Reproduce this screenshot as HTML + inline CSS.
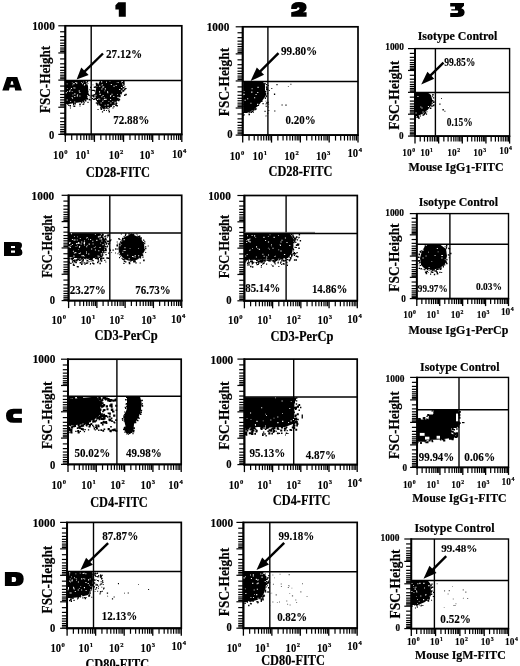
<!DOCTYPE html>
<html><head><meta charset="utf-8"><style>
html,body{margin:0;padding:0;background:#fff;}
body{width:520px;height:666px;overflow:hidden;}
svg{display:block;will-change:transform;}
text{font-family:"Liberation Serif",serif;font-weight:bold;fill:#000;stroke:#000;stroke-width:0.2px;}
text.n{stroke-width:0.12px;}
</style></head><body>
<svg width="520" height="666" viewBox="0 0 520 666">
<rect x="65.30" y="25.80" width="116.50" height="108.60" fill="none" stroke="#000" stroke-width="1.7"/>
<line x1="65.30" y1="25.20" x2="65.30" y2="135.40" stroke="#000" stroke-width="1.9"/>
<line x1="64.40" y1="134.40" x2="182.40" y2="134.40" stroke="#000" stroke-width="1.9"/>
<line x1="91.20" y1="25.80" x2="91.20" y2="134.40" stroke="#000" stroke-width="1.4"/>
<line x1="65.30" y1="80.50" x2="181.80" y2="80.50" stroke="#000" stroke-width="1.5"/>
<line x1="58.30" y1="25.80" x2="65.30" y2="25.80" stroke="#000" stroke-width="1.2"/>
<line x1="60.10" y1="31.77" x2="65.30" y2="31.77" stroke="#000" stroke-width="1.2"/>
<line x1="60.10" y1="36.66" x2="65.30" y2="36.66" stroke="#000" stroke-width="1.2"/>
<line x1="60.10" y1="40.19" x2="65.30" y2="40.19" stroke="#000" stroke-width="1.2"/>
<line x1="60.10" y1="43.18" x2="65.30" y2="43.18" stroke="#000" stroke-width="1.2"/>
<line x1="60.10" y1="45.62" x2="65.30" y2="45.62" stroke="#000" stroke-width="1.2"/>
<line x1="60.10" y1="48.06" x2="65.30" y2="48.06" stroke="#000" stroke-width="1.2"/>
<line x1="60.10" y1="49.96" x2="65.30" y2="49.96" stroke="#000" stroke-width="1.2"/>
<line x1="60.10" y1="51.59" x2="65.30" y2="51.59" stroke="#000" stroke-width="1.2"/>
<line x1="58.30" y1="52.95" x2="65.30" y2="52.95" stroke="#000" stroke-width="1.2"/>
<line x1="60.10" y1="58.92" x2="65.30" y2="58.92" stroke="#000" stroke-width="1.2"/>
<line x1="60.10" y1="63.81" x2="65.30" y2="63.81" stroke="#000" stroke-width="1.2"/>
<line x1="60.10" y1="67.34" x2="65.30" y2="67.34" stroke="#000" stroke-width="1.2"/>
<line x1="60.10" y1="70.33" x2="65.30" y2="70.33" stroke="#000" stroke-width="1.2"/>
<line x1="60.10" y1="72.77" x2="65.30" y2="72.77" stroke="#000" stroke-width="1.2"/>
<line x1="60.10" y1="75.21" x2="65.30" y2="75.21" stroke="#000" stroke-width="1.2"/>
<line x1="60.10" y1="77.11" x2="65.30" y2="77.11" stroke="#000" stroke-width="1.2"/>
<line x1="60.10" y1="78.74" x2="65.30" y2="78.74" stroke="#000" stroke-width="1.2"/>
<line x1="58.30" y1="80.10" x2="65.30" y2="80.10" stroke="#000" stroke-width="1.2"/>
<line x1="60.10" y1="86.07" x2="65.30" y2="86.07" stroke="#000" stroke-width="1.2"/>
<line x1="60.10" y1="90.96" x2="65.30" y2="90.96" stroke="#000" stroke-width="1.2"/>
<line x1="60.10" y1="94.49" x2="65.30" y2="94.49" stroke="#000" stroke-width="1.2"/>
<line x1="60.10" y1="97.48" x2="65.30" y2="97.48" stroke="#000" stroke-width="1.2"/>
<line x1="60.10" y1="99.92" x2="65.30" y2="99.92" stroke="#000" stroke-width="1.2"/>
<line x1="60.10" y1="102.36" x2="65.30" y2="102.36" stroke="#000" stroke-width="1.2"/>
<line x1="60.10" y1="104.26" x2="65.30" y2="104.26" stroke="#000" stroke-width="1.2"/>
<line x1="60.10" y1="105.89" x2="65.30" y2="105.89" stroke="#000" stroke-width="1.2"/>
<line x1="58.30" y1="107.25" x2="65.30" y2="107.25" stroke="#000" stroke-width="1.2"/>
<line x1="60.10" y1="113.22" x2="65.30" y2="113.22" stroke="#000" stroke-width="1.2"/>
<line x1="60.10" y1="118.11" x2="65.30" y2="118.11" stroke="#000" stroke-width="1.2"/>
<line x1="60.10" y1="121.64" x2="65.30" y2="121.64" stroke="#000" stroke-width="1.2"/>
<line x1="60.10" y1="124.63" x2="65.30" y2="124.63" stroke="#000" stroke-width="1.2"/>
<line x1="60.10" y1="127.07" x2="65.30" y2="127.07" stroke="#000" stroke-width="1.2"/>
<line x1="60.10" y1="129.51" x2="65.30" y2="129.51" stroke="#000" stroke-width="1.2"/>
<line x1="60.10" y1="131.41" x2="65.30" y2="131.41" stroke="#000" stroke-width="1.2"/>
<line x1="60.10" y1="133.04" x2="65.30" y2="133.04" stroke="#000" stroke-width="1.2"/>
<line x1="58.30" y1="134.40" x2="65.30" y2="134.40" stroke="#000" stroke-width="1.2"/>
<line x1="65.30" y1="134.40" x2="65.30" y2="141.90" stroke="#000" stroke-width="1.3"/>
<line x1="71.71" y1="134.40" x2="71.71" y2="139.90" stroke="#000" stroke-width="1.2"/>
<line x1="76.95" y1="134.40" x2="76.95" y2="139.90" stroke="#000" stroke-width="1.2"/>
<line x1="80.74" y1="134.40" x2="80.74" y2="139.90" stroke="#000" stroke-width="1.2"/>
<line x1="83.94" y1="134.40" x2="83.94" y2="139.90" stroke="#000" stroke-width="1.2"/>
<line x1="86.56" y1="134.40" x2="86.56" y2="139.90" stroke="#000" stroke-width="1.2"/>
<line x1="89.18" y1="134.40" x2="89.18" y2="139.90" stroke="#000" stroke-width="1.2"/>
<line x1="91.22" y1="134.40" x2="91.22" y2="139.90" stroke="#000" stroke-width="1.2"/>
<line x1="92.97" y1="134.40" x2="92.97" y2="139.90" stroke="#000" stroke-width="1.2"/>
<line x1="94.42" y1="134.40" x2="94.42" y2="141.90" stroke="#000" stroke-width="1.3"/>
<line x1="100.83" y1="134.40" x2="100.83" y2="139.90" stroke="#000" stroke-width="1.2"/>
<line x1="106.08" y1="134.40" x2="106.08" y2="139.90" stroke="#000" stroke-width="1.2"/>
<line x1="109.86" y1="134.40" x2="109.86" y2="139.90" stroke="#000" stroke-width="1.2"/>
<line x1="113.06" y1="134.40" x2="113.06" y2="139.90" stroke="#000" stroke-width="1.2"/>
<line x1="115.69" y1="134.40" x2="115.69" y2="139.90" stroke="#000" stroke-width="1.2"/>
<line x1="118.31" y1="134.40" x2="118.31" y2="139.90" stroke="#000" stroke-width="1.2"/>
<line x1="120.35" y1="134.40" x2="120.35" y2="139.90" stroke="#000" stroke-width="1.2"/>
<line x1="122.09" y1="134.40" x2="122.09" y2="139.90" stroke="#000" stroke-width="1.2"/>
<line x1="123.55" y1="134.40" x2="123.55" y2="141.90" stroke="#000" stroke-width="1.3"/>
<line x1="129.96" y1="134.40" x2="129.96" y2="139.90" stroke="#000" stroke-width="1.2"/>
<line x1="135.20" y1="134.40" x2="135.20" y2="139.90" stroke="#000" stroke-width="1.2"/>
<line x1="138.99" y1="134.40" x2="138.99" y2="139.90" stroke="#000" stroke-width="1.2"/>
<line x1="142.19" y1="134.40" x2="142.19" y2="139.90" stroke="#000" stroke-width="1.2"/>
<line x1="144.81" y1="134.40" x2="144.81" y2="139.90" stroke="#000" stroke-width="1.2"/>
<line x1="147.43" y1="134.40" x2="147.43" y2="139.90" stroke="#000" stroke-width="1.2"/>
<line x1="149.47" y1="134.40" x2="149.47" y2="139.90" stroke="#000" stroke-width="1.2"/>
<line x1="151.22" y1="134.40" x2="151.22" y2="139.90" stroke="#000" stroke-width="1.2"/>
<line x1="152.68" y1="134.40" x2="152.68" y2="141.90" stroke="#000" stroke-width="1.3"/>
<line x1="159.08" y1="134.40" x2="159.08" y2="139.90" stroke="#000" stroke-width="1.2"/>
<line x1="164.33" y1="134.40" x2="164.33" y2="139.90" stroke="#000" stroke-width="1.2"/>
<line x1="168.11" y1="134.40" x2="168.11" y2="139.90" stroke="#000" stroke-width="1.2"/>
<line x1="171.32" y1="134.40" x2="171.32" y2="139.90" stroke="#000" stroke-width="1.2"/>
<line x1="173.94" y1="134.40" x2="173.94" y2="139.90" stroke="#000" stroke-width="1.2"/>
<line x1="176.56" y1="134.40" x2="176.56" y2="139.90" stroke="#000" stroke-width="1.2"/>
<line x1="178.60" y1="134.40" x2="178.60" y2="139.90" stroke="#000" stroke-width="1.2"/>
<line x1="180.34" y1="134.40" x2="180.34" y2="139.90" stroke="#000" stroke-width="1.2"/>
<line x1="181.80" y1="134.40" x2="181.80" y2="141.90" stroke="#000" stroke-width="1.3"/>
<rect x="68.60" y="195.30" width="113.10" height="105.30" fill="none" stroke="#000" stroke-width="1.7"/>
<line x1="68.60" y1="194.70" x2="68.60" y2="301.60" stroke="#000" stroke-width="1.9"/>
<line x1="67.70" y1="300.60" x2="182.30" y2="300.60" stroke="#000" stroke-width="1.9"/>
<line x1="109.80" y1="195.30" x2="109.80" y2="300.60" stroke="#000" stroke-width="1.4"/>
<line x1="68.60" y1="232.90" x2="181.70" y2="232.90" stroke="#000" stroke-width="1.5"/>
<line x1="61.60" y1="195.30" x2="68.60" y2="195.30" stroke="#000" stroke-width="1.2"/>
<line x1="63.40" y1="201.09" x2="68.60" y2="201.09" stroke="#000" stroke-width="1.2"/>
<line x1="63.40" y1="205.83" x2="68.60" y2="205.83" stroke="#000" stroke-width="1.2"/>
<line x1="63.40" y1="209.25" x2="68.60" y2="209.25" stroke="#000" stroke-width="1.2"/>
<line x1="63.40" y1="212.15" x2="68.60" y2="212.15" stroke="#000" stroke-width="1.2"/>
<line x1="63.40" y1="214.52" x2="68.60" y2="214.52" stroke="#000" stroke-width="1.2"/>
<line x1="63.40" y1="216.89" x2="68.60" y2="216.89" stroke="#000" stroke-width="1.2"/>
<line x1="63.40" y1="218.73" x2="68.60" y2="218.73" stroke="#000" stroke-width="1.2"/>
<line x1="63.40" y1="220.31" x2="68.60" y2="220.31" stroke="#000" stroke-width="1.2"/>
<line x1="61.60" y1="221.62" x2="68.60" y2="221.62" stroke="#000" stroke-width="1.2"/>
<line x1="63.40" y1="227.42" x2="68.60" y2="227.42" stroke="#000" stroke-width="1.2"/>
<line x1="63.40" y1="232.16" x2="68.60" y2="232.16" stroke="#000" stroke-width="1.2"/>
<line x1="63.40" y1="235.58" x2="68.60" y2="235.58" stroke="#000" stroke-width="1.2"/>
<line x1="63.40" y1="238.47" x2="68.60" y2="238.47" stroke="#000" stroke-width="1.2"/>
<line x1="63.40" y1="240.84" x2="68.60" y2="240.84" stroke="#000" stroke-width="1.2"/>
<line x1="63.40" y1="243.21" x2="68.60" y2="243.21" stroke="#000" stroke-width="1.2"/>
<line x1="63.40" y1="245.05" x2="68.60" y2="245.05" stroke="#000" stroke-width="1.2"/>
<line x1="63.40" y1="246.63" x2="68.60" y2="246.63" stroke="#000" stroke-width="1.2"/>
<line x1="61.60" y1="247.95" x2="68.60" y2="247.95" stroke="#000" stroke-width="1.2"/>
<line x1="63.40" y1="253.74" x2="68.60" y2="253.74" stroke="#000" stroke-width="1.2"/>
<line x1="63.40" y1="258.48" x2="68.60" y2="258.48" stroke="#000" stroke-width="1.2"/>
<line x1="63.40" y1="261.90" x2="68.60" y2="261.90" stroke="#000" stroke-width="1.2"/>
<line x1="63.40" y1="264.80" x2="68.60" y2="264.80" stroke="#000" stroke-width="1.2"/>
<line x1="63.40" y1="267.17" x2="68.60" y2="267.17" stroke="#000" stroke-width="1.2"/>
<line x1="63.40" y1="269.54" x2="68.60" y2="269.54" stroke="#000" stroke-width="1.2"/>
<line x1="63.40" y1="271.38" x2="68.60" y2="271.38" stroke="#000" stroke-width="1.2"/>
<line x1="63.40" y1="272.96" x2="68.60" y2="272.96" stroke="#000" stroke-width="1.2"/>
<line x1="61.60" y1="274.28" x2="68.60" y2="274.28" stroke="#000" stroke-width="1.2"/>
<line x1="63.40" y1="280.07" x2="68.60" y2="280.07" stroke="#000" stroke-width="1.2"/>
<line x1="63.40" y1="284.81" x2="68.60" y2="284.81" stroke="#000" stroke-width="1.2"/>
<line x1="63.40" y1="288.23" x2="68.60" y2="288.23" stroke="#000" stroke-width="1.2"/>
<line x1="63.40" y1="291.12" x2="68.60" y2="291.12" stroke="#000" stroke-width="1.2"/>
<line x1="63.40" y1="293.49" x2="68.60" y2="293.49" stroke="#000" stroke-width="1.2"/>
<line x1="63.40" y1="295.86" x2="68.60" y2="295.86" stroke="#000" stroke-width="1.2"/>
<line x1="63.40" y1="297.70" x2="68.60" y2="297.70" stroke="#000" stroke-width="1.2"/>
<line x1="63.40" y1="299.28" x2="68.60" y2="299.28" stroke="#000" stroke-width="1.2"/>
<line x1="61.60" y1="300.60" x2="68.60" y2="300.60" stroke="#000" stroke-width="1.2"/>
<line x1="68.60" y1="300.60" x2="68.60" y2="308.10" stroke="#000" stroke-width="1.3"/>
<line x1="74.82" y1="300.60" x2="74.82" y2="306.10" stroke="#000" stroke-width="1.2"/>
<line x1="79.91" y1="300.60" x2="79.91" y2="306.10" stroke="#000" stroke-width="1.2"/>
<line x1="83.59" y1="300.60" x2="83.59" y2="306.10" stroke="#000" stroke-width="1.2"/>
<line x1="86.70" y1="300.60" x2="86.70" y2="306.10" stroke="#000" stroke-width="1.2"/>
<line x1="89.24" y1="300.60" x2="89.24" y2="306.10" stroke="#000" stroke-width="1.2"/>
<line x1="91.79" y1="300.60" x2="91.79" y2="306.10" stroke="#000" stroke-width="1.2"/>
<line x1="93.76" y1="300.60" x2="93.76" y2="306.10" stroke="#000" stroke-width="1.2"/>
<line x1="95.46" y1="300.60" x2="95.46" y2="306.10" stroke="#000" stroke-width="1.2"/>
<line x1="96.88" y1="300.60" x2="96.88" y2="308.10" stroke="#000" stroke-width="1.3"/>
<line x1="103.10" y1="300.60" x2="103.10" y2="306.10" stroke="#000" stroke-width="1.2"/>
<line x1="108.19" y1="300.60" x2="108.19" y2="306.10" stroke="#000" stroke-width="1.2"/>
<line x1="111.86" y1="300.60" x2="111.86" y2="306.10" stroke="#000" stroke-width="1.2"/>
<line x1="114.97" y1="300.60" x2="114.97" y2="306.10" stroke="#000" stroke-width="1.2"/>
<line x1="117.52" y1="300.60" x2="117.52" y2="306.10" stroke="#000" stroke-width="1.2"/>
<line x1="120.06" y1="300.60" x2="120.06" y2="306.10" stroke="#000" stroke-width="1.2"/>
<line x1="122.04" y1="300.60" x2="122.04" y2="306.10" stroke="#000" stroke-width="1.2"/>
<line x1="123.74" y1="300.60" x2="123.74" y2="306.10" stroke="#000" stroke-width="1.2"/>
<line x1="125.15" y1="300.60" x2="125.15" y2="308.10" stroke="#000" stroke-width="1.3"/>
<line x1="131.37" y1="300.60" x2="131.37" y2="306.10" stroke="#000" stroke-width="1.2"/>
<line x1="136.46" y1="300.60" x2="136.46" y2="306.10" stroke="#000" stroke-width="1.2"/>
<line x1="140.14" y1="300.60" x2="140.14" y2="306.10" stroke="#000" stroke-width="1.2"/>
<line x1="143.25" y1="300.60" x2="143.25" y2="306.10" stroke="#000" stroke-width="1.2"/>
<line x1="145.79" y1="300.60" x2="145.79" y2="306.10" stroke="#000" stroke-width="1.2"/>
<line x1="148.34" y1="300.60" x2="148.34" y2="306.10" stroke="#000" stroke-width="1.2"/>
<line x1="150.31" y1="300.60" x2="150.31" y2="306.10" stroke="#000" stroke-width="1.2"/>
<line x1="152.01" y1="300.60" x2="152.01" y2="306.10" stroke="#000" stroke-width="1.2"/>
<line x1="153.42" y1="300.60" x2="153.42" y2="308.10" stroke="#000" stroke-width="1.3"/>
<line x1="159.65" y1="300.60" x2="159.65" y2="306.10" stroke="#000" stroke-width="1.2"/>
<line x1="164.73" y1="300.60" x2="164.73" y2="306.10" stroke="#000" stroke-width="1.2"/>
<line x1="168.41" y1="300.60" x2="168.41" y2="306.10" stroke="#000" stroke-width="1.2"/>
<line x1="171.52" y1="300.60" x2="171.52" y2="306.10" stroke="#000" stroke-width="1.2"/>
<line x1="174.07" y1="300.60" x2="174.07" y2="306.10" stroke="#000" stroke-width="1.2"/>
<line x1="176.61" y1="300.60" x2="176.61" y2="306.10" stroke="#000" stroke-width="1.2"/>
<line x1="178.59" y1="300.60" x2="178.59" y2="306.10" stroke="#000" stroke-width="1.2"/>
<line x1="180.29" y1="300.60" x2="180.29" y2="306.10" stroke="#000" stroke-width="1.2"/>
<line x1="181.70" y1="300.60" x2="181.70" y2="308.10" stroke="#000" stroke-width="1.3"/>
<rect x="68.00" y="359.20" width="113.20" height="105.20" fill="none" stroke="#000" stroke-width="1.7"/>
<line x1="68.00" y1="358.60" x2="68.00" y2="465.40" stroke="#000" stroke-width="1.9"/>
<line x1="67.10" y1="464.40" x2="181.80" y2="464.40" stroke="#000" stroke-width="1.9"/>
<line x1="116.90" y1="359.20" x2="116.90" y2="464.40" stroke="#000" stroke-width="1.4"/>
<line x1="68.00" y1="396.30" x2="181.20" y2="396.30" stroke="#000" stroke-width="1.5"/>
<line x1="61.00" y1="359.20" x2="68.00" y2="359.20" stroke="#000" stroke-width="1.2"/>
<line x1="62.80" y1="364.99" x2="68.00" y2="364.99" stroke="#000" stroke-width="1.2"/>
<line x1="62.80" y1="369.72" x2="68.00" y2="369.72" stroke="#000" stroke-width="1.2"/>
<line x1="62.80" y1="373.14" x2="68.00" y2="373.14" stroke="#000" stroke-width="1.2"/>
<line x1="62.80" y1="376.03" x2="68.00" y2="376.03" stroke="#000" stroke-width="1.2"/>
<line x1="62.80" y1="378.40" x2="68.00" y2="378.40" stroke="#000" stroke-width="1.2"/>
<line x1="62.80" y1="380.77" x2="68.00" y2="380.77" stroke="#000" stroke-width="1.2"/>
<line x1="62.80" y1="382.61" x2="68.00" y2="382.61" stroke="#000" stroke-width="1.2"/>
<line x1="62.80" y1="384.19" x2="68.00" y2="384.19" stroke="#000" stroke-width="1.2"/>
<line x1="61.00" y1="385.50" x2="68.00" y2="385.50" stroke="#000" stroke-width="1.2"/>
<line x1="62.80" y1="391.29" x2="68.00" y2="391.29" stroke="#000" stroke-width="1.2"/>
<line x1="62.80" y1="396.02" x2="68.00" y2="396.02" stroke="#000" stroke-width="1.2"/>
<line x1="62.80" y1="399.44" x2="68.00" y2="399.44" stroke="#000" stroke-width="1.2"/>
<line x1="62.80" y1="402.33" x2="68.00" y2="402.33" stroke="#000" stroke-width="1.2"/>
<line x1="62.80" y1="404.70" x2="68.00" y2="404.70" stroke="#000" stroke-width="1.2"/>
<line x1="62.80" y1="407.07" x2="68.00" y2="407.07" stroke="#000" stroke-width="1.2"/>
<line x1="62.80" y1="408.91" x2="68.00" y2="408.91" stroke="#000" stroke-width="1.2"/>
<line x1="62.80" y1="410.49" x2="68.00" y2="410.49" stroke="#000" stroke-width="1.2"/>
<line x1="61.00" y1="411.80" x2="68.00" y2="411.80" stroke="#000" stroke-width="1.2"/>
<line x1="62.80" y1="417.59" x2="68.00" y2="417.59" stroke="#000" stroke-width="1.2"/>
<line x1="62.80" y1="422.32" x2="68.00" y2="422.32" stroke="#000" stroke-width="1.2"/>
<line x1="62.80" y1="425.74" x2="68.00" y2="425.74" stroke="#000" stroke-width="1.2"/>
<line x1="62.80" y1="428.63" x2="68.00" y2="428.63" stroke="#000" stroke-width="1.2"/>
<line x1="62.80" y1="431.00" x2="68.00" y2="431.00" stroke="#000" stroke-width="1.2"/>
<line x1="62.80" y1="433.37" x2="68.00" y2="433.37" stroke="#000" stroke-width="1.2"/>
<line x1="62.80" y1="435.21" x2="68.00" y2="435.21" stroke="#000" stroke-width="1.2"/>
<line x1="62.80" y1="436.78" x2="68.00" y2="436.78" stroke="#000" stroke-width="1.2"/>
<line x1="61.00" y1="438.10" x2="68.00" y2="438.10" stroke="#000" stroke-width="1.2"/>
<line x1="62.80" y1="443.89" x2="68.00" y2="443.89" stroke="#000" stroke-width="1.2"/>
<line x1="62.80" y1="448.62" x2="68.00" y2="448.62" stroke="#000" stroke-width="1.2"/>
<line x1="62.80" y1="452.04" x2="68.00" y2="452.04" stroke="#000" stroke-width="1.2"/>
<line x1="62.80" y1="454.93" x2="68.00" y2="454.93" stroke="#000" stroke-width="1.2"/>
<line x1="62.80" y1="457.30" x2="68.00" y2="457.30" stroke="#000" stroke-width="1.2"/>
<line x1="62.80" y1="459.67" x2="68.00" y2="459.67" stroke="#000" stroke-width="1.2"/>
<line x1="62.80" y1="461.51" x2="68.00" y2="461.51" stroke="#000" stroke-width="1.2"/>
<line x1="62.80" y1="463.08" x2="68.00" y2="463.08" stroke="#000" stroke-width="1.2"/>
<line x1="61.00" y1="464.40" x2="68.00" y2="464.40" stroke="#000" stroke-width="1.2"/>
<line x1="68.00" y1="464.40" x2="68.00" y2="471.90" stroke="#000" stroke-width="1.3"/>
<line x1="74.23" y1="464.40" x2="74.23" y2="469.90" stroke="#000" stroke-width="1.2"/>
<line x1="79.32" y1="464.40" x2="79.32" y2="469.90" stroke="#000" stroke-width="1.2"/>
<line x1="83.00" y1="464.40" x2="83.00" y2="469.90" stroke="#000" stroke-width="1.2"/>
<line x1="86.11" y1="464.40" x2="86.11" y2="469.90" stroke="#000" stroke-width="1.2"/>
<line x1="88.66" y1="464.40" x2="88.66" y2="469.90" stroke="#000" stroke-width="1.2"/>
<line x1="91.21" y1="464.40" x2="91.21" y2="469.90" stroke="#000" stroke-width="1.2"/>
<line x1="93.19" y1="464.40" x2="93.19" y2="469.90" stroke="#000" stroke-width="1.2"/>
<line x1="94.88" y1="464.40" x2="94.88" y2="469.90" stroke="#000" stroke-width="1.2"/>
<line x1="96.30" y1="464.40" x2="96.30" y2="471.90" stroke="#000" stroke-width="1.3"/>
<line x1="102.53" y1="464.40" x2="102.53" y2="469.90" stroke="#000" stroke-width="1.2"/>
<line x1="107.62" y1="464.40" x2="107.62" y2="469.90" stroke="#000" stroke-width="1.2"/>
<line x1="111.30" y1="464.40" x2="111.30" y2="469.90" stroke="#000" stroke-width="1.2"/>
<line x1="114.41" y1="464.40" x2="114.41" y2="469.90" stroke="#000" stroke-width="1.2"/>
<line x1="116.96" y1="464.40" x2="116.96" y2="469.90" stroke="#000" stroke-width="1.2"/>
<line x1="119.51" y1="464.40" x2="119.51" y2="469.90" stroke="#000" stroke-width="1.2"/>
<line x1="121.49" y1="464.40" x2="121.49" y2="469.90" stroke="#000" stroke-width="1.2"/>
<line x1="123.18" y1="464.40" x2="123.18" y2="469.90" stroke="#000" stroke-width="1.2"/>
<line x1="124.60" y1="464.40" x2="124.60" y2="471.90" stroke="#000" stroke-width="1.3"/>
<line x1="130.83" y1="464.40" x2="130.83" y2="469.90" stroke="#000" stroke-width="1.2"/>
<line x1="135.92" y1="464.40" x2="135.92" y2="469.90" stroke="#000" stroke-width="1.2"/>
<line x1="139.60" y1="464.40" x2="139.60" y2="469.90" stroke="#000" stroke-width="1.2"/>
<line x1="142.71" y1="464.40" x2="142.71" y2="469.90" stroke="#000" stroke-width="1.2"/>
<line x1="145.26" y1="464.40" x2="145.26" y2="469.90" stroke="#000" stroke-width="1.2"/>
<line x1="147.81" y1="464.40" x2="147.81" y2="469.90" stroke="#000" stroke-width="1.2"/>
<line x1="149.79" y1="464.40" x2="149.79" y2="469.90" stroke="#000" stroke-width="1.2"/>
<line x1="151.48" y1="464.40" x2="151.48" y2="469.90" stroke="#000" stroke-width="1.2"/>
<line x1="152.90" y1="464.40" x2="152.90" y2="471.90" stroke="#000" stroke-width="1.3"/>
<line x1="159.13" y1="464.40" x2="159.13" y2="469.90" stroke="#000" stroke-width="1.2"/>
<line x1="164.22" y1="464.40" x2="164.22" y2="469.90" stroke="#000" stroke-width="1.2"/>
<line x1="167.90" y1="464.40" x2="167.90" y2="469.90" stroke="#000" stroke-width="1.2"/>
<line x1="171.01" y1="464.40" x2="171.01" y2="469.90" stroke="#000" stroke-width="1.2"/>
<line x1="173.56" y1="464.40" x2="173.56" y2="469.90" stroke="#000" stroke-width="1.2"/>
<line x1="176.11" y1="464.40" x2="176.11" y2="469.90" stroke="#000" stroke-width="1.2"/>
<line x1="178.09" y1="464.40" x2="178.09" y2="469.90" stroke="#000" stroke-width="1.2"/>
<line x1="179.78" y1="464.40" x2="179.78" y2="469.90" stroke="#000" stroke-width="1.2"/>
<line x1="181.20" y1="464.40" x2="181.20" y2="471.90" stroke="#000" stroke-width="1.3"/>
<rect x="67.10" y="522.40" width="114.20" height="105.90" fill="none" stroke="#000" stroke-width="1.7"/>
<line x1="67.10" y1="521.80" x2="67.10" y2="629.30" stroke="#000" stroke-width="1.9"/>
<line x1="66.20" y1="628.30" x2="181.90" y2="628.30" stroke="#000" stroke-width="1.9"/>
<line x1="93.50" y1="522.40" x2="93.50" y2="628.30" stroke="#000" stroke-width="1.4"/>
<line x1="67.10" y1="571.60" x2="181.30" y2="571.60" stroke="#000" stroke-width="1.5"/>
<line x1="60.10" y1="522.40" x2="67.10" y2="522.40" stroke="#000" stroke-width="1.2"/>
<line x1="61.90" y1="528.22" x2="67.10" y2="528.22" stroke="#000" stroke-width="1.2"/>
<line x1="61.90" y1="532.99" x2="67.10" y2="532.99" stroke="#000" stroke-width="1.2"/>
<line x1="61.90" y1="536.43" x2="67.10" y2="536.43" stroke="#000" stroke-width="1.2"/>
<line x1="61.90" y1="539.34" x2="67.10" y2="539.34" stroke="#000" stroke-width="1.2"/>
<line x1="61.90" y1="541.73" x2="67.10" y2="541.73" stroke="#000" stroke-width="1.2"/>
<line x1="61.90" y1="544.11" x2="67.10" y2="544.11" stroke="#000" stroke-width="1.2"/>
<line x1="61.90" y1="545.96" x2="67.10" y2="545.96" stroke="#000" stroke-width="1.2"/>
<line x1="61.90" y1="547.55" x2="67.10" y2="547.55" stroke="#000" stroke-width="1.2"/>
<line x1="60.10" y1="548.88" x2="67.10" y2="548.88" stroke="#000" stroke-width="1.2"/>
<line x1="61.90" y1="554.70" x2="67.10" y2="554.70" stroke="#000" stroke-width="1.2"/>
<line x1="61.90" y1="559.47" x2="67.10" y2="559.47" stroke="#000" stroke-width="1.2"/>
<line x1="61.90" y1="562.91" x2="67.10" y2="562.91" stroke="#000" stroke-width="1.2"/>
<line x1="61.90" y1="565.82" x2="67.10" y2="565.82" stroke="#000" stroke-width="1.2"/>
<line x1="61.90" y1="568.20" x2="67.10" y2="568.20" stroke="#000" stroke-width="1.2"/>
<line x1="61.90" y1="570.58" x2="67.10" y2="570.58" stroke="#000" stroke-width="1.2"/>
<line x1="61.90" y1="572.44" x2="67.10" y2="572.44" stroke="#000" stroke-width="1.2"/>
<line x1="61.90" y1="574.03" x2="67.10" y2="574.03" stroke="#000" stroke-width="1.2"/>
<line x1="60.10" y1="575.35" x2="67.10" y2="575.35" stroke="#000" stroke-width="1.2"/>
<line x1="61.90" y1="581.17" x2="67.10" y2="581.17" stroke="#000" stroke-width="1.2"/>
<line x1="61.90" y1="585.94" x2="67.10" y2="585.94" stroke="#000" stroke-width="1.2"/>
<line x1="61.90" y1="589.38" x2="67.10" y2="589.38" stroke="#000" stroke-width="1.2"/>
<line x1="61.90" y1="592.29" x2="67.10" y2="592.29" stroke="#000" stroke-width="1.2"/>
<line x1="61.90" y1="594.68" x2="67.10" y2="594.68" stroke="#000" stroke-width="1.2"/>
<line x1="61.90" y1="597.06" x2="67.10" y2="597.06" stroke="#000" stroke-width="1.2"/>
<line x1="61.90" y1="598.91" x2="67.10" y2="598.91" stroke="#000" stroke-width="1.2"/>
<line x1="61.90" y1="600.50" x2="67.10" y2="600.50" stroke="#000" stroke-width="1.2"/>
<line x1="60.10" y1="601.82" x2="67.10" y2="601.82" stroke="#000" stroke-width="1.2"/>
<line x1="61.90" y1="607.65" x2="67.10" y2="607.65" stroke="#000" stroke-width="1.2"/>
<line x1="61.90" y1="612.41" x2="67.10" y2="612.41" stroke="#000" stroke-width="1.2"/>
<line x1="61.90" y1="615.86" x2="67.10" y2="615.86" stroke="#000" stroke-width="1.2"/>
<line x1="61.90" y1="618.77" x2="67.10" y2="618.77" stroke="#000" stroke-width="1.2"/>
<line x1="61.90" y1="621.15" x2="67.10" y2="621.15" stroke="#000" stroke-width="1.2"/>
<line x1="61.90" y1="623.53" x2="67.10" y2="623.53" stroke="#000" stroke-width="1.2"/>
<line x1="61.90" y1="625.39" x2="67.10" y2="625.39" stroke="#000" stroke-width="1.2"/>
<line x1="61.90" y1="626.98" x2="67.10" y2="626.98" stroke="#000" stroke-width="1.2"/>
<line x1="60.10" y1="628.30" x2="67.10" y2="628.30" stroke="#000" stroke-width="1.2"/>
<line x1="67.10" y1="628.30" x2="67.10" y2="635.80" stroke="#000" stroke-width="1.3"/>
<line x1="73.38" y1="628.30" x2="73.38" y2="633.80" stroke="#000" stroke-width="1.2"/>
<line x1="78.52" y1="628.30" x2="78.52" y2="633.80" stroke="#000" stroke-width="1.2"/>
<line x1="82.23" y1="628.30" x2="82.23" y2="633.80" stroke="#000" stroke-width="1.2"/>
<line x1="85.37" y1="628.30" x2="85.37" y2="633.80" stroke="#000" stroke-width="1.2"/>
<line x1="87.94" y1="628.30" x2="87.94" y2="633.80" stroke="#000" stroke-width="1.2"/>
<line x1="90.51" y1="628.30" x2="90.51" y2="633.80" stroke="#000" stroke-width="1.2"/>
<line x1="92.51" y1="628.30" x2="92.51" y2="633.80" stroke="#000" stroke-width="1.2"/>
<line x1="94.22" y1="628.30" x2="94.22" y2="633.80" stroke="#000" stroke-width="1.2"/>
<line x1="95.65" y1="628.30" x2="95.65" y2="635.80" stroke="#000" stroke-width="1.3"/>
<line x1="101.93" y1="628.30" x2="101.93" y2="633.80" stroke="#000" stroke-width="1.2"/>
<line x1="107.07" y1="628.30" x2="107.07" y2="633.80" stroke="#000" stroke-width="1.2"/>
<line x1="110.78" y1="628.30" x2="110.78" y2="633.80" stroke="#000" stroke-width="1.2"/>
<line x1="113.92" y1="628.30" x2="113.92" y2="633.80" stroke="#000" stroke-width="1.2"/>
<line x1="116.49" y1="628.30" x2="116.49" y2="633.80" stroke="#000" stroke-width="1.2"/>
<line x1="119.06" y1="628.30" x2="119.06" y2="633.80" stroke="#000" stroke-width="1.2"/>
<line x1="121.06" y1="628.30" x2="121.06" y2="633.80" stroke="#000" stroke-width="1.2"/>
<line x1="122.77" y1="628.30" x2="122.77" y2="633.80" stroke="#000" stroke-width="1.2"/>
<line x1="124.20" y1="628.30" x2="124.20" y2="635.80" stroke="#000" stroke-width="1.3"/>
<line x1="130.48" y1="628.30" x2="130.48" y2="633.80" stroke="#000" stroke-width="1.2"/>
<line x1="135.62" y1="628.30" x2="135.62" y2="633.80" stroke="#000" stroke-width="1.2"/>
<line x1="139.33" y1="628.30" x2="139.33" y2="633.80" stroke="#000" stroke-width="1.2"/>
<line x1="142.47" y1="628.30" x2="142.47" y2="633.80" stroke="#000" stroke-width="1.2"/>
<line x1="145.04" y1="628.30" x2="145.04" y2="633.80" stroke="#000" stroke-width="1.2"/>
<line x1="147.61" y1="628.30" x2="147.61" y2="633.80" stroke="#000" stroke-width="1.2"/>
<line x1="149.61" y1="628.30" x2="149.61" y2="633.80" stroke="#000" stroke-width="1.2"/>
<line x1="151.32" y1="628.30" x2="151.32" y2="633.80" stroke="#000" stroke-width="1.2"/>
<line x1="152.75" y1="628.30" x2="152.75" y2="635.80" stroke="#000" stroke-width="1.3"/>
<line x1="159.03" y1="628.30" x2="159.03" y2="633.80" stroke="#000" stroke-width="1.2"/>
<line x1="164.17" y1="628.30" x2="164.17" y2="633.80" stroke="#000" stroke-width="1.2"/>
<line x1="167.88" y1="628.30" x2="167.88" y2="633.80" stroke="#000" stroke-width="1.2"/>
<line x1="171.02" y1="628.30" x2="171.02" y2="633.80" stroke="#000" stroke-width="1.2"/>
<line x1="173.59" y1="628.30" x2="173.59" y2="633.80" stroke="#000" stroke-width="1.2"/>
<line x1="176.16" y1="628.30" x2="176.16" y2="633.80" stroke="#000" stroke-width="1.2"/>
<line x1="178.16" y1="628.30" x2="178.16" y2="633.80" stroke="#000" stroke-width="1.2"/>
<line x1="179.87" y1="628.30" x2="179.87" y2="633.80" stroke="#000" stroke-width="1.2"/>
<line x1="181.30" y1="628.30" x2="181.30" y2="635.80" stroke="#000" stroke-width="1.3"/>
<rect x="242.70" y="26.80" width="115.30" height="108.30" fill="none" stroke="#000" stroke-width="1.7"/>
<line x1="242.70" y1="26.20" x2="242.70" y2="136.10" stroke="#000" stroke-width="1.9"/>
<line x1="241.80" y1="135.10" x2="358.60" y2="135.10" stroke="#000" stroke-width="1.9"/>
<line x1="267.90" y1="26.80" x2="267.90" y2="135.10" stroke="#000" stroke-width="1.4"/>
<line x1="242.70" y1="81.50" x2="358.00" y2="81.50" stroke="#000" stroke-width="1.5"/>
<line x1="235.70" y1="26.80" x2="242.70" y2="26.80" stroke="#000" stroke-width="1.2"/>
<line x1="237.50" y1="32.76" x2="242.70" y2="32.76" stroke="#000" stroke-width="1.2"/>
<line x1="237.50" y1="37.63" x2="242.70" y2="37.63" stroke="#000" stroke-width="1.2"/>
<line x1="237.50" y1="41.15" x2="242.70" y2="41.15" stroke="#000" stroke-width="1.2"/>
<line x1="237.50" y1="44.13" x2="242.70" y2="44.13" stroke="#000" stroke-width="1.2"/>
<line x1="237.50" y1="46.56" x2="242.70" y2="46.56" stroke="#000" stroke-width="1.2"/>
<line x1="237.50" y1="49.00" x2="242.70" y2="49.00" stroke="#000" stroke-width="1.2"/>
<line x1="237.50" y1="50.90" x2="242.70" y2="50.90" stroke="#000" stroke-width="1.2"/>
<line x1="237.50" y1="52.52" x2="242.70" y2="52.52" stroke="#000" stroke-width="1.2"/>
<line x1="235.70" y1="53.88" x2="242.70" y2="53.88" stroke="#000" stroke-width="1.2"/>
<line x1="237.50" y1="59.83" x2="242.70" y2="59.83" stroke="#000" stroke-width="1.2"/>
<line x1="237.50" y1="64.70" x2="242.70" y2="64.70" stroke="#000" stroke-width="1.2"/>
<line x1="237.50" y1="68.22" x2="242.70" y2="68.22" stroke="#000" stroke-width="1.2"/>
<line x1="237.50" y1="71.20" x2="242.70" y2="71.20" stroke="#000" stroke-width="1.2"/>
<line x1="237.50" y1="73.64" x2="242.70" y2="73.64" stroke="#000" stroke-width="1.2"/>
<line x1="237.50" y1="76.08" x2="242.70" y2="76.08" stroke="#000" stroke-width="1.2"/>
<line x1="237.50" y1="77.97" x2="242.70" y2="77.97" stroke="#000" stroke-width="1.2"/>
<line x1="237.50" y1="79.60" x2="242.70" y2="79.60" stroke="#000" stroke-width="1.2"/>
<line x1="235.70" y1="80.95" x2="242.70" y2="80.95" stroke="#000" stroke-width="1.2"/>
<line x1="237.50" y1="86.91" x2="242.70" y2="86.91" stroke="#000" stroke-width="1.2"/>
<line x1="237.50" y1="91.78" x2="242.70" y2="91.78" stroke="#000" stroke-width="1.2"/>
<line x1="237.50" y1="95.30" x2="242.70" y2="95.30" stroke="#000" stroke-width="1.2"/>
<line x1="237.50" y1="98.28" x2="242.70" y2="98.28" stroke="#000" stroke-width="1.2"/>
<line x1="237.50" y1="100.71" x2="242.70" y2="100.71" stroke="#000" stroke-width="1.2"/>
<line x1="237.50" y1="103.15" x2="242.70" y2="103.15" stroke="#000" stroke-width="1.2"/>
<line x1="237.50" y1="105.05" x2="242.70" y2="105.05" stroke="#000" stroke-width="1.2"/>
<line x1="237.50" y1="106.67" x2="242.70" y2="106.67" stroke="#000" stroke-width="1.2"/>
<line x1="235.70" y1="108.02" x2="242.70" y2="108.02" stroke="#000" stroke-width="1.2"/>
<line x1="237.50" y1="113.98" x2="242.70" y2="113.98" stroke="#000" stroke-width="1.2"/>
<line x1="237.50" y1="118.85" x2="242.70" y2="118.85" stroke="#000" stroke-width="1.2"/>
<line x1="237.50" y1="122.37" x2="242.70" y2="122.37" stroke="#000" stroke-width="1.2"/>
<line x1="237.50" y1="125.35" x2="242.70" y2="125.35" stroke="#000" stroke-width="1.2"/>
<line x1="237.50" y1="127.79" x2="242.70" y2="127.79" stroke="#000" stroke-width="1.2"/>
<line x1="237.50" y1="130.23" x2="242.70" y2="130.23" stroke="#000" stroke-width="1.2"/>
<line x1="237.50" y1="132.12" x2="242.70" y2="132.12" stroke="#000" stroke-width="1.2"/>
<line x1="237.50" y1="133.75" x2="242.70" y2="133.75" stroke="#000" stroke-width="1.2"/>
<line x1="235.70" y1="135.10" x2="242.70" y2="135.10" stroke="#000" stroke-width="1.2"/>
<line x1="242.70" y1="135.10" x2="242.70" y2="142.60" stroke="#000" stroke-width="1.3"/>
<line x1="249.04" y1="135.10" x2="249.04" y2="140.60" stroke="#000" stroke-width="1.2"/>
<line x1="254.23" y1="135.10" x2="254.23" y2="140.60" stroke="#000" stroke-width="1.2"/>
<line x1="257.98" y1="135.10" x2="257.98" y2="140.60" stroke="#000" stroke-width="1.2"/>
<line x1="261.15" y1="135.10" x2="261.15" y2="140.60" stroke="#000" stroke-width="1.2"/>
<line x1="263.74" y1="135.10" x2="263.74" y2="140.60" stroke="#000" stroke-width="1.2"/>
<line x1="266.34" y1="135.10" x2="266.34" y2="140.60" stroke="#000" stroke-width="1.2"/>
<line x1="268.35" y1="135.10" x2="268.35" y2="140.60" stroke="#000" stroke-width="1.2"/>
<line x1="270.08" y1="135.10" x2="270.08" y2="140.60" stroke="#000" stroke-width="1.2"/>
<line x1="271.52" y1="135.10" x2="271.52" y2="142.60" stroke="#000" stroke-width="1.3"/>
<line x1="277.87" y1="135.10" x2="277.87" y2="140.60" stroke="#000" stroke-width="1.2"/>
<line x1="283.05" y1="135.10" x2="283.05" y2="140.60" stroke="#000" stroke-width="1.2"/>
<line x1="286.80" y1="135.10" x2="286.80" y2="140.60" stroke="#000" stroke-width="1.2"/>
<line x1="289.97" y1="135.10" x2="289.97" y2="140.60" stroke="#000" stroke-width="1.2"/>
<line x1="292.57" y1="135.10" x2="292.57" y2="140.60" stroke="#000" stroke-width="1.2"/>
<line x1="295.16" y1="135.10" x2="295.16" y2="140.60" stroke="#000" stroke-width="1.2"/>
<line x1="297.18" y1="135.10" x2="297.18" y2="140.60" stroke="#000" stroke-width="1.2"/>
<line x1="298.91" y1="135.10" x2="298.91" y2="140.60" stroke="#000" stroke-width="1.2"/>
<line x1="300.35" y1="135.10" x2="300.35" y2="142.60" stroke="#000" stroke-width="1.3"/>
<line x1="306.69" y1="135.10" x2="306.69" y2="140.60" stroke="#000" stroke-width="1.2"/>
<line x1="311.88" y1="135.10" x2="311.88" y2="140.60" stroke="#000" stroke-width="1.2"/>
<line x1="315.63" y1="135.10" x2="315.63" y2="140.60" stroke="#000" stroke-width="1.2"/>
<line x1="318.80" y1="135.10" x2="318.80" y2="140.60" stroke="#000" stroke-width="1.2"/>
<line x1="321.39" y1="135.10" x2="321.39" y2="140.60" stroke="#000" stroke-width="1.2"/>
<line x1="323.99" y1="135.10" x2="323.99" y2="140.60" stroke="#000" stroke-width="1.2"/>
<line x1="326.00" y1="135.10" x2="326.00" y2="140.60" stroke="#000" stroke-width="1.2"/>
<line x1="327.73" y1="135.10" x2="327.73" y2="140.60" stroke="#000" stroke-width="1.2"/>
<line x1="329.18" y1="135.10" x2="329.18" y2="142.60" stroke="#000" stroke-width="1.3"/>
<line x1="335.52" y1="135.10" x2="335.52" y2="140.60" stroke="#000" stroke-width="1.2"/>
<line x1="340.71" y1="135.10" x2="340.71" y2="140.60" stroke="#000" stroke-width="1.2"/>
<line x1="344.45" y1="135.10" x2="344.45" y2="140.60" stroke="#000" stroke-width="1.2"/>
<line x1="347.62" y1="135.10" x2="347.62" y2="140.60" stroke="#000" stroke-width="1.2"/>
<line x1="350.22" y1="135.10" x2="350.22" y2="140.60" stroke="#000" stroke-width="1.2"/>
<line x1="352.81" y1="135.10" x2="352.81" y2="140.60" stroke="#000" stroke-width="1.2"/>
<line x1="354.83" y1="135.10" x2="354.83" y2="140.60" stroke="#000" stroke-width="1.2"/>
<line x1="356.56" y1="135.10" x2="356.56" y2="140.60" stroke="#000" stroke-width="1.2"/>
<line x1="358.00" y1="135.10" x2="358.00" y2="142.60" stroke="#000" stroke-width="1.3"/>
<rect x="244.40" y="195.50" width="112.90" height="105.30" fill="none" stroke="#000" stroke-width="1.7"/>
<line x1="244.40" y1="194.90" x2="244.40" y2="301.80" stroke="#000" stroke-width="1.9"/>
<line x1="243.50" y1="300.80" x2="357.90" y2="300.80" stroke="#000" stroke-width="1.9"/>
<line x1="286.10" y1="195.50" x2="286.10" y2="300.80" stroke="#000" stroke-width="1.4"/>
<line x1="244.40" y1="233.50" x2="357.30" y2="233.50" stroke="#000" stroke-width="1.5"/>
<line x1="237.40" y1="195.50" x2="244.40" y2="195.50" stroke="#000" stroke-width="1.2"/>
<line x1="239.20" y1="201.29" x2="244.40" y2="201.29" stroke="#000" stroke-width="1.2"/>
<line x1="239.20" y1="206.03" x2="244.40" y2="206.03" stroke="#000" stroke-width="1.2"/>
<line x1="239.20" y1="209.45" x2="244.40" y2="209.45" stroke="#000" stroke-width="1.2"/>
<line x1="239.20" y1="212.35" x2="244.40" y2="212.35" stroke="#000" stroke-width="1.2"/>
<line x1="239.20" y1="214.72" x2="244.40" y2="214.72" stroke="#000" stroke-width="1.2"/>
<line x1="239.20" y1="217.09" x2="244.40" y2="217.09" stroke="#000" stroke-width="1.2"/>
<line x1="239.20" y1="218.93" x2="244.40" y2="218.93" stroke="#000" stroke-width="1.2"/>
<line x1="239.20" y1="220.51" x2="244.40" y2="220.51" stroke="#000" stroke-width="1.2"/>
<line x1="237.40" y1="221.82" x2="244.40" y2="221.82" stroke="#000" stroke-width="1.2"/>
<line x1="239.20" y1="227.62" x2="244.40" y2="227.62" stroke="#000" stroke-width="1.2"/>
<line x1="239.20" y1="232.35" x2="244.40" y2="232.35" stroke="#000" stroke-width="1.2"/>
<line x1="239.20" y1="235.78" x2="244.40" y2="235.78" stroke="#000" stroke-width="1.2"/>
<line x1="239.20" y1="238.67" x2="244.40" y2="238.67" stroke="#000" stroke-width="1.2"/>
<line x1="239.20" y1="241.04" x2="244.40" y2="241.04" stroke="#000" stroke-width="1.2"/>
<line x1="239.20" y1="243.41" x2="244.40" y2="243.41" stroke="#000" stroke-width="1.2"/>
<line x1="239.20" y1="245.25" x2="244.40" y2="245.25" stroke="#000" stroke-width="1.2"/>
<line x1="239.20" y1="246.83" x2="244.40" y2="246.83" stroke="#000" stroke-width="1.2"/>
<line x1="237.40" y1="248.15" x2="244.40" y2="248.15" stroke="#000" stroke-width="1.2"/>
<line x1="239.20" y1="253.94" x2="244.40" y2="253.94" stroke="#000" stroke-width="1.2"/>
<line x1="239.20" y1="258.68" x2="244.40" y2="258.68" stroke="#000" stroke-width="1.2"/>
<line x1="239.20" y1="262.10" x2="244.40" y2="262.10" stroke="#000" stroke-width="1.2"/>
<line x1="239.20" y1="265.00" x2="244.40" y2="265.00" stroke="#000" stroke-width="1.2"/>
<line x1="239.20" y1="267.37" x2="244.40" y2="267.37" stroke="#000" stroke-width="1.2"/>
<line x1="239.20" y1="269.74" x2="244.40" y2="269.74" stroke="#000" stroke-width="1.2"/>
<line x1="239.20" y1="271.58" x2="244.40" y2="271.58" stroke="#000" stroke-width="1.2"/>
<line x1="239.20" y1="273.16" x2="244.40" y2="273.16" stroke="#000" stroke-width="1.2"/>
<line x1="237.40" y1="274.48" x2="244.40" y2="274.48" stroke="#000" stroke-width="1.2"/>
<line x1="239.20" y1="280.27" x2="244.40" y2="280.27" stroke="#000" stroke-width="1.2"/>
<line x1="239.20" y1="285.00" x2="244.40" y2="285.00" stroke="#000" stroke-width="1.2"/>
<line x1="239.20" y1="288.43" x2="244.40" y2="288.43" stroke="#000" stroke-width="1.2"/>
<line x1="239.20" y1="291.32" x2="244.40" y2="291.32" stroke="#000" stroke-width="1.2"/>
<line x1="239.20" y1="293.69" x2="244.40" y2="293.69" stroke="#000" stroke-width="1.2"/>
<line x1="239.20" y1="296.06" x2="244.40" y2="296.06" stroke="#000" stroke-width="1.2"/>
<line x1="239.20" y1="297.90" x2="244.40" y2="297.90" stroke="#000" stroke-width="1.2"/>
<line x1="239.20" y1="299.48" x2="244.40" y2="299.48" stroke="#000" stroke-width="1.2"/>
<line x1="237.40" y1="300.80" x2="244.40" y2="300.80" stroke="#000" stroke-width="1.2"/>
<line x1="244.40" y1="300.80" x2="244.40" y2="308.30" stroke="#000" stroke-width="1.3"/>
<line x1="250.61" y1="300.80" x2="250.61" y2="306.30" stroke="#000" stroke-width="1.2"/>
<line x1="255.69" y1="300.80" x2="255.69" y2="306.30" stroke="#000" stroke-width="1.2"/>
<line x1="259.36" y1="300.80" x2="259.36" y2="306.30" stroke="#000" stroke-width="1.2"/>
<line x1="262.46" y1="300.80" x2="262.46" y2="306.30" stroke="#000" stroke-width="1.2"/>
<line x1="265.00" y1="300.80" x2="265.00" y2="306.30" stroke="#000" stroke-width="1.2"/>
<line x1="267.54" y1="300.80" x2="267.54" y2="306.30" stroke="#000" stroke-width="1.2"/>
<line x1="269.52" y1="300.80" x2="269.52" y2="306.30" stroke="#000" stroke-width="1.2"/>
<line x1="271.21" y1="300.80" x2="271.21" y2="306.30" stroke="#000" stroke-width="1.2"/>
<line x1="272.62" y1="300.80" x2="272.62" y2="308.30" stroke="#000" stroke-width="1.3"/>
<line x1="278.83" y1="300.80" x2="278.83" y2="306.30" stroke="#000" stroke-width="1.2"/>
<line x1="283.92" y1="300.80" x2="283.92" y2="306.30" stroke="#000" stroke-width="1.2"/>
<line x1="287.58" y1="300.80" x2="287.58" y2="306.30" stroke="#000" stroke-width="1.2"/>
<line x1="290.69" y1="300.80" x2="290.69" y2="306.30" stroke="#000" stroke-width="1.2"/>
<line x1="293.23" y1="300.80" x2="293.23" y2="306.30" stroke="#000" stroke-width="1.2"/>
<line x1="295.77" y1="300.80" x2="295.77" y2="306.30" stroke="#000" stroke-width="1.2"/>
<line x1="297.75" y1="300.80" x2="297.75" y2="306.30" stroke="#000" stroke-width="1.2"/>
<line x1="299.44" y1="300.80" x2="299.44" y2="306.30" stroke="#000" stroke-width="1.2"/>
<line x1="300.85" y1="300.80" x2="300.85" y2="308.30" stroke="#000" stroke-width="1.3"/>
<line x1="307.06" y1="300.80" x2="307.06" y2="306.30" stroke="#000" stroke-width="1.2"/>
<line x1="312.14" y1="300.80" x2="312.14" y2="306.30" stroke="#000" stroke-width="1.2"/>
<line x1="315.81" y1="300.80" x2="315.81" y2="306.30" stroke="#000" stroke-width="1.2"/>
<line x1="318.91" y1="300.80" x2="318.91" y2="306.30" stroke="#000" stroke-width="1.2"/>
<line x1="321.45" y1="300.80" x2="321.45" y2="306.30" stroke="#000" stroke-width="1.2"/>
<line x1="323.99" y1="300.80" x2="323.99" y2="306.30" stroke="#000" stroke-width="1.2"/>
<line x1="325.97" y1="300.80" x2="325.97" y2="306.30" stroke="#000" stroke-width="1.2"/>
<line x1="327.66" y1="300.80" x2="327.66" y2="306.30" stroke="#000" stroke-width="1.2"/>
<line x1="329.08" y1="300.80" x2="329.08" y2="308.30" stroke="#000" stroke-width="1.3"/>
<line x1="335.28" y1="300.80" x2="335.28" y2="306.30" stroke="#000" stroke-width="1.2"/>
<line x1="340.37" y1="300.80" x2="340.37" y2="306.30" stroke="#000" stroke-width="1.2"/>
<line x1="344.03" y1="300.80" x2="344.03" y2="306.30" stroke="#000" stroke-width="1.2"/>
<line x1="347.14" y1="300.80" x2="347.14" y2="306.30" stroke="#000" stroke-width="1.2"/>
<line x1="349.68" y1="300.80" x2="349.68" y2="306.30" stroke="#000" stroke-width="1.2"/>
<line x1="352.22" y1="300.80" x2="352.22" y2="306.30" stroke="#000" stroke-width="1.2"/>
<line x1="354.20" y1="300.80" x2="354.20" y2="306.30" stroke="#000" stroke-width="1.2"/>
<line x1="355.89" y1="300.80" x2="355.89" y2="306.30" stroke="#000" stroke-width="1.2"/>
<line x1="357.30" y1="300.80" x2="357.30" y2="308.30" stroke="#000" stroke-width="1.3"/>
<rect x="244.40" y="359.10" width="112.80" height="105.50" fill="none" stroke="#000" stroke-width="1.7"/>
<line x1="244.40" y1="358.50" x2="244.40" y2="465.60" stroke="#000" stroke-width="1.9"/>
<line x1="243.50" y1="464.60" x2="357.80" y2="464.60" stroke="#000" stroke-width="1.9"/>
<line x1="293.70" y1="359.10" x2="293.70" y2="464.60" stroke="#000" stroke-width="1.4"/>
<line x1="244.40" y1="396.90" x2="357.20" y2="396.90" stroke="#000" stroke-width="1.5"/>
<line x1="237.40" y1="359.10" x2="244.40" y2="359.10" stroke="#000" stroke-width="1.2"/>
<line x1="239.20" y1="364.90" x2="244.40" y2="364.90" stroke="#000" stroke-width="1.2"/>
<line x1="239.20" y1="369.65" x2="244.40" y2="369.65" stroke="#000" stroke-width="1.2"/>
<line x1="239.20" y1="373.08" x2="244.40" y2="373.08" stroke="#000" stroke-width="1.2"/>
<line x1="239.20" y1="375.98" x2="244.40" y2="375.98" stroke="#000" stroke-width="1.2"/>
<line x1="239.20" y1="378.35" x2="244.40" y2="378.35" stroke="#000" stroke-width="1.2"/>
<line x1="239.20" y1="380.73" x2="244.40" y2="380.73" stroke="#000" stroke-width="1.2"/>
<line x1="239.20" y1="382.57" x2="244.40" y2="382.57" stroke="#000" stroke-width="1.2"/>
<line x1="239.20" y1="384.16" x2="244.40" y2="384.16" stroke="#000" stroke-width="1.2"/>
<line x1="237.40" y1="385.48" x2="244.40" y2="385.48" stroke="#000" stroke-width="1.2"/>
<line x1="239.20" y1="391.28" x2="244.40" y2="391.28" stroke="#000" stroke-width="1.2"/>
<line x1="239.20" y1="396.03" x2="244.40" y2="396.03" stroke="#000" stroke-width="1.2"/>
<line x1="239.20" y1="399.45" x2="244.40" y2="399.45" stroke="#000" stroke-width="1.2"/>
<line x1="239.20" y1="402.36" x2="244.40" y2="402.36" stroke="#000" stroke-width="1.2"/>
<line x1="239.20" y1="404.73" x2="244.40" y2="404.73" stroke="#000" stroke-width="1.2"/>
<line x1="239.20" y1="407.10" x2="244.40" y2="407.10" stroke="#000" stroke-width="1.2"/>
<line x1="239.20" y1="408.95" x2="244.40" y2="408.95" stroke="#000" stroke-width="1.2"/>
<line x1="239.20" y1="410.53" x2="244.40" y2="410.53" stroke="#000" stroke-width="1.2"/>
<line x1="237.40" y1="411.85" x2="244.40" y2="411.85" stroke="#000" stroke-width="1.2"/>
<line x1="239.20" y1="417.65" x2="244.40" y2="417.65" stroke="#000" stroke-width="1.2"/>
<line x1="239.20" y1="422.40" x2="244.40" y2="422.40" stroke="#000" stroke-width="1.2"/>
<line x1="239.20" y1="425.83" x2="244.40" y2="425.83" stroke="#000" stroke-width="1.2"/>
<line x1="239.20" y1="428.73" x2="244.40" y2="428.73" stroke="#000" stroke-width="1.2"/>
<line x1="239.20" y1="431.10" x2="244.40" y2="431.10" stroke="#000" stroke-width="1.2"/>
<line x1="239.20" y1="433.48" x2="244.40" y2="433.48" stroke="#000" stroke-width="1.2"/>
<line x1="239.20" y1="435.32" x2="244.40" y2="435.32" stroke="#000" stroke-width="1.2"/>
<line x1="239.20" y1="436.91" x2="244.40" y2="436.91" stroke="#000" stroke-width="1.2"/>
<line x1="237.40" y1="438.23" x2="244.40" y2="438.23" stroke="#000" stroke-width="1.2"/>
<line x1="239.20" y1="444.03" x2="244.40" y2="444.03" stroke="#000" stroke-width="1.2"/>
<line x1="239.20" y1="448.78" x2="244.40" y2="448.78" stroke="#000" stroke-width="1.2"/>
<line x1="239.20" y1="452.20" x2="244.40" y2="452.20" stroke="#000" stroke-width="1.2"/>
<line x1="239.20" y1="455.11" x2="244.40" y2="455.11" stroke="#000" stroke-width="1.2"/>
<line x1="239.20" y1="457.48" x2="244.40" y2="457.48" stroke="#000" stroke-width="1.2"/>
<line x1="239.20" y1="459.85" x2="244.40" y2="459.85" stroke="#000" stroke-width="1.2"/>
<line x1="239.20" y1="461.70" x2="244.40" y2="461.70" stroke="#000" stroke-width="1.2"/>
<line x1="239.20" y1="463.28" x2="244.40" y2="463.28" stroke="#000" stroke-width="1.2"/>
<line x1="237.40" y1="464.60" x2="244.40" y2="464.60" stroke="#000" stroke-width="1.2"/>
<line x1="244.40" y1="464.60" x2="244.40" y2="472.10" stroke="#000" stroke-width="1.3"/>
<line x1="250.60" y1="464.60" x2="250.60" y2="470.10" stroke="#000" stroke-width="1.2"/>
<line x1="255.68" y1="464.60" x2="255.68" y2="470.10" stroke="#000" stroke-width="1.2"/>
<line x1="259.35" y1="464.60" x2="259.35" y2="470.10" stroke="#000" stroke-width="1.2"/>
<line x1="262.45" y1="464.60" x2="262.45" y2="470.10" stroke="#000" stroke-width="1.2"/>
<line x1="264.99" y1="464.60" x2="264.99" y2="470.10" stroke="#000" stroke-width="1.2"/>
<line x1="267.52" y1="464.60" x2="267.52" y2="470.10" stroke="#000" stroke-width="1.2"/>
<line x1="269.50" y1="464.60" x2="269.50" y2="470.10" stroke="#000" stroke-width="1.2"/>
<line x1="271.19" y1="464.60" x2="271.19" y2="470.10" stroke="#000" stroke-width="1.2"/>
<line x1="272.60" y1="464.60" x2="272.60" y2="472.10" stroke="#000" stroke-width="1.3"/>
<line x1="278.80" y1="464.60" x2="278.80" y2="470.10" stroke="#000" stroke-width="1.2"/>
<line x1="283.88" y1="464.60" x2="283.88" y2="470.10" stroke="#000" stroke-width="1.2"/>
<line x1="287.55" y1="464.60" x2="287.55" y2="470.10" stroke="#000" stroke-width="1.2"/>
<line x1="290.65" y1="464.60" x2="290.65" y2="470.10" stroke="#000" stroke-width="1.2"/>
<line x1="293.19" y1="464.60" x2="293.19" y2="470.10" stroke="#000" stroke-width="1.2"/>
<line x1="295.72" y1="464.60" x2="295.72" y2="470.10" stroke="#000" stroke-width="1.2"/>
<line x1="297.70" y1="464.60" x2="297.70" y2="470.10" stroke="#000" stroke-width="1.2"/>
<line x1="299.39" y1="464.60" x2="299.39" y2="470.10" stroke="#000" stroke-width="1.2"/>
<line x1="300.80" y1="464.60" x2="300.80" y2="472.10" stroke="#000" stroke-width="1.3"/>
<line x1="307.00" y1="464.60" x2="307.00" y2="470.10" stroke="#000" stroke-width="1.2"/>
<line x1="312.08" y1="464.60" x2="312.08" y2="470.10" stroke="#000" stroke-width="1.2"/>
<line x1="315.75" y1="464.60" x2="315.75" y2="470.10" stroke="#000" stroke-width="1.2"/>
<line x1="318.85" y1="464.60" x2="318.85" y2="470.10" stroke="#000" stroke-width="1.2"/>
<line x1="321.39" y1="464.60" x2="321.39" y2="470.10" stroke="#000" stroke-width="1.2"/>
<line x1="323.92" y1="464.60" x2="323.92" y2="470.10" stroke="#000" stroke-width="1.2"/>
<line x1="325.90" y1="464.60" x2="325.90" y2="470.10" stroke="#000" stroke-width="1.2"/>
<line x1="327.59" y1="464.60" x2="327.59" y2="470.10" stroke="#000" stroke-width="1.2"/>
<line x1="329.00" y1="464.60" x2="329.00" y2="472.10" stroke="#000" stroke-width="1.3"/>
<line x1="335.20" y1="464.60" x2="335.20" y2="470.10" stroke="#000" stroke-width="1.2"/>
<line x1="340.28" y1="464.60" x2="340.28" y2="470.10" stroke="#000" stroke-width="1.2"/>
<line x1="343.95" y1="464.60" x2="343.95" y2="470.10" stroke="#000" stroke-width="1.2"/>
<line x1="347.05" y1="464.60" x2="347.05" y2="470.10" stroke="#000" stroke-width="1.2"/>
<line x1="349.59" y1="464.60" x2="349.59" y2="470.10" stroke="#000" stroke-width="1.2"/>
<line x1="352.12" y1="464.60" x2="352.12" y2="470.10" stroke="#000" stroke-width="1.2"/>
<line x1="354.10" y1="464.60" x2="354.10" y2="470.10" stroke="#000" stroke-width="1.2"/>
<line x1="355.79" y1="464.60" x2="355.79" y2="470.10" stroke="#000" stroke-width="1.2"/>
<line x1="357.20" y1="464.60" x2="357.20" y2="472.10" stroke="#000" stroke-width="1.3"/>
<rect x="243.40" y="522.40" width="113.80" height="105.80" fill="none" stroke="#000" stroke-width="1.7"/>
<line x1="243.40" y1="521.80" x2="243.40" y2="629.20" stroke="#000" stroke-width="1.9"/>
<line x1="242.50" y1="628.20" x2="357.80" y2="628.20" stroke="#000" stroke-width="1.9"/>
<line x1="269.80" y1="522.40" x2="269.80" y2="628.20" stroke="#000" stroke-width="1.4"/>
<line x1="243.40" y1="571.80" x2="357.20" y2="571.80" stroke="#000" stroke-width="1.5"/>
<line x1="236.40" y1="522.40" x2="243.40" y2="522.40" stroke="#000" stroke-width="1.2"/>
<line x1="238.20" y1="528.22" x2="243.40" y2="528.22" stroke="#000" stroke-width="1.2"/>
<line x1="238.20" y1="532.98" x2="243.40" y2="532.98" stroke="#000" stroke-width="1.2"/>
<line x1="238.20" y1="536.42" x2="243.40" y2="536.42" stroke="#000" stroke-width="1.2"/>
<line x1="238.20" y1="539.33" x2="243.40" y2="539.33" stroke="#000" stroke-width="1.2"/>
<line x1="238.20" y1="541.71" x2="243.40" y2="541.71" stroke="#000" stroke-width="1.2"/>
<line x1="238.20" y1="544.09" x2="243.40" y2="544.09" stroke="#000" stroke-width="1.2"/>
<line x1="238.20" y1="545.94" x2="243.40" y2="545.94" stroke="#000" stroke-width="1.2"/>
<line x1="238.20" y1="547.53" x2="243.40" y2="547.53" stroke="#000" stroke-width="1.2"/>
<line x1="236.40" y1="548.85" x2="243.40" y2="548.85" stroke="#000" stroke-width="1.2"/>
<line x1="238.20" y1="554.67" x2="243.40" y2="554.67" stroke="#000" stroke-width="1.2"/>
<line x1="238.20" y1="559.43" x2="243.40" y2="559.43" stroke="#000" stroke-width="1.2"/>
<line x1="238.20" y1="562.87" x2="243.40" y2="562.87" stroke="#000" stroke-width="1.2"/>
<line x1="238.20" y1="565.78" x2="243.40" y2="565.78" stroke="#000" stroke-width="1.2"/>
<line x1="238.20" y1="568.16" x2="243.40" y2="568.16" stroke="#000" stroke-width="1.2"/>
<line x1="238.20" y1="570.54" x2="243.40" y2="570.54" stroke="#000" stroke-width="1.2"/>
<line x1="238.20" y1="572.39" x2="243.40" y2="572.39" stroke="#000" stroke-width="1.2"/>
<line x1="238.20" y1="573.98" x2="243.40" y2="573.98" stroke="#000" stroke-width="1.2"/>
<line x1="236.40" y1="575.30" x2="243.40" y2="575.30" stroke="#000" stroke-width="1.2"/>
<line x1="238.20" y1="581.12" x2="243.40" y2="581.12" stroke="#000" stroke-width="1.2"/>
<line x1="238.20" y1="585.88" x2="243.40" y2="585.88" stroke="#000" stroke-width="1.2"/>
<line x1="238.20" y1="589.32" x2="243.40" y2="589.32" stroke="#000" stroke-width="1.2"/>
<line x1="238.20" y1="592.23" x2="243.40" y2="592.23" stroke="#000" stroke-width="1.2"/>
<line x1="238.20" y1="594.61" x2="243.40" y2="594.61" stroke="#000" stroke-width="1.2"/>
<line x1="238.20" y1="596.99" x2="243.40" y2="596.99" stroke="#000" stroke-width="1.2"/>
<line x1="238.20" y1="598.84" x2="243.40" y2="598.84" stroke="#000" stroke-width="1.2"/>
<line x1="238.20" y1="600.43" x2="243.40" y2="600.43" stroke="#000" stroke-width="1.2"/>
<line x1="236.40" y1="601.75" x2="243.40" y2="601.75" stroke="#000" stroke-width="1.2"/>
<line x1="238.20" y1="607.57" x2="243.40" y2="607.57" stroke="#000" stroke-width="1.2"/>
<line x1="238.20" y1="612.33" x2="243.40" y2="612.33" stroke="#000" stroke-width="1.2"/>
<line x1="238.20" y1="615.77" x2="243.40" y2="615.77" stroke="#000" stroke-width="1.2"/>
<line x1="238.20" y1="618.68" x2="243.40" y2="618.68" stroke="#000" stroke-width="1.2"/>
<line x1="238.20" y1="621.06" x2="243.40" y2="621.06" stroke="#000" stroke-width="1.2"/>
<line x1="238.20" y1="623.44" x2="243.40" y2="623.44" stroke="#000" stroke-width="1.2"/>
<line x1="238.20" y1="625.29" x2="243.40" y2="625.29" stroke="#000" stroke-width="1.2"/>
<line x1="238.20" y1="626.88" x2="243.40" y2="626.88" stroke="#000" stroke-width="1.2"/>
<line x1="236.40" y1="628.20" x2="243.40" y2="628.20" stroke="#000" stroke-width="1.2"/>
<line x1="243.40" y1="628.20" x2="243.40" y2="635.70" stroke="#000" stroke-width="1.3"/>
<line x1="249.66" y1="628.20" x2="249.66" y2="633.70" stroke="#000" stroke-width="1.2"/>
<line x1="254.78" y1="628.20" x2="254.78" y2="633.70" stroke="#000" stroke-width="1.2"/>
<line x1="258.48" y1="628.20" x2="258.48" y2="633.70" stroke="#000" stroke-width="1.2"/>
<line x1="261.61" y1="628.20" x2="261.61" y2="633.70" stroke="#000" stroke-width="1.2"/>
<line x1="264.17" y1="628.20" x2="264.17" y2="633.70" stroke="#000" stroke-width="1.2"/>
<line x1="266.73" y1="628.20" x2="266.73" y2="633.70" stroke="#000" stroke-width="1.2"/>
<line x1="268.72" y1="628.20" x2="268.72" y2="633.70" stroke="#000" stroke-width="1.2"/>
<line x1="270.43" y1="628.20" x2="270.43" y2="633.70" stroke="#000" stroke-width="1.2"/>
<line x1="271.85" y1="628.20" x2="271.85" y2="635.70" stroke="#000" stroke-width="1.3"/>
<line x1="278.11" y1="628.20" x2="278.11" y2="633.70" stroke="#000" stroke-width="1.2"/>
<line x1="283.23" y1="628.20" x2="283.23" y2="633.70" stroke="#000" stroke-width="1.2"/>
<line x1="286.93" y1="628.20" x2="286.93" y2="633.70" stroke="#000" stroke-width="1.2"/>
<line x1="290.06" y1="628.20" x2="290.06" y2="633.70" stroke="#000" stroke-width="1.2"/>
<line x1="292.62" y1="628.20" x2="292.62" y2="633.70" stroke="#000" stroke-width="1.2"/>
<line x1="295.18" y1="628.20" x2="295.18" y2="633.70" stroke="#000" stroke-width="1.2"/>
<line x1="297.17" y1="628.20" x2="297.17" y2="633.70" stroke="#000" stroke-width="1.2"/>
<line x1="298.88" y1="628.20" x2="298.88" y2="633.70" stroke="#000" stroke-width="1.2"/>
<line x1="300.30" y1="628.20" x2="300.30" y2="635.70" stroke="#000" stroke-width="1.3"/>
<line x1="306.56" y1="628.20" x2="306.56" y2="633.70" stroke="#000" stroke-width="1.2"/>
<line x1="311.68" y1="628.20" x2="311.68" y2="633.70" stroke="#000" stroke-width="1.2"/>
<line x1="315.38" y1="628.20" x2="315.38" y2="633.70" stroke="#000" stroke-width="1.2"/>
<line x1="318.51" y1="628.20" x2="318.51" y2="633.70" stroke="#000" stroke-width="1.2"/>
<line x1="321.07" y1="628.20" x2="321.07" y2="633.70" stroke="#000" stroke-width="1.2"/>
<line x1="323.63" y1="628.20" x2="323.63" y2="633.70" stroke="#000" stroke-width="1.2"/>
<line x1="325.62" y1="628.20" x2="325.62" y2="633.70" stroke="#000" stroke-width="1.2"/>
<line x1="327.33" y1="628.20" x2="327.33" y2="633.70" stroke="#000" stroke-width="1.2"/>
<line x1="328.75" y1="628.20" x2="328.75" y2="635.70" stroke="#000" stroke-width="1.3"/>
<line x1="335.01" y1="628.20" x2="335.01" y2="633.70" stroke="#000" stroke-width="1.2"/>
<line x1="340.13" y1="628.20" x2="340.13" y2="633.70" stroke="#000" stroke-width="1.2"/>
<line x1="343.83" y1="628.20" x2="343.83" y2="633.70" stroke="#000" stroke-width="1.2"/>
<line x1="346.96" y1="628.20" x2="346.96" y2="633.70" stroke="#000" stroke-width="1.2"/>
<line x1="349.52" y1="628.20" x2="349.52" y2="633.70" stroke="#000" stroke-width="1.2"/>
<line x1="352.08" y1="628.20" x2="352.08" y2="633.70" stroke="#000" stroke-width="1.2"/>
<line x1="354.07" y1="628.20" x2="354.07" y2="633.70" stroke="#000" stroke-width="1.2"/>
<line x1="355.78" y1="628.20" x2="355.78" y2="633.70" stroke="#000" stroke-width="1.2"/>
<line x1="357.20" y1="628.20" x2="357.20" y2="635.70" stroke="#000" stroke-width="1.3"/>
<rect x="415.00" y="48.60" width="94.60" height="87.50" fill="none" stroke="#000" stroke-width="1.4"/>
<line x1="415.00" y1="48.00" x2="415.00" y2="137.10" stroke="#000" stroke-width="1.9"/>
<line x1="414.10" y1="136.10" x2="510.20" y2="136.10" stroke="#000" stroke-width="1.9"/>
<line x1="435.40" y1="48.60" x2="435.40" y2="136.10" stroke="#000" stroke-width="1.4"/>
<line x1="415.00" y1="92.40" x2="509.60" y2="92.40" stroke="#000" stroke-width="1.5"/>
<line x1="408.00" y1="48.60" x2="415.00" y2="48.60" stroke="#000" stroke-width="1.2"/>
<line x1="409.80" y1="53.41" x2="415.00" y2="53.41" stroke="#000" stroke-width="1.2"/>
<line x1="409.80" y1="57.35" x2="415.00" y2="57.35" stroke="#000" stroke-width="1.2"/>
<line x1="409.80" y1="60.19" x2="415.00" y2="60.19" stroke="#000" stroke-width="1.2"/>
<line x1="409.80" y1="62.60" x2="415.00" y2="62.60" stroke="#000" stroke-width="1.2"/>
<line x1="409.80" y1="64.57" x2="415.00" y2="64.57" stroke="#000" stroke-width="1.2"/>
<line x1="409.80" y1="66.54" x2="415.00" y2="66.54" stroke="#000" stroke-width="1.2"/>
<line x1="409.80" y1="68.07" x2="415.00" y2="68.07" stroke="#000" stroke-width="1.2"/>
<line x1="409.80" y1="69.38" x2="415.00" y2="69.38" stroke="#000" stroke-width="1.2"/>
<line x1="408.00" y1="70.47" x2="415.00" y2="70.47" stroke="#000" stroke-width="1.2"/>
<line x1="409.80" y1="75.29" x2="415.00" y2="75.29" stroke="#000" stroke-width="1.2"/>
<line x1="409.80" y1="79.22" x2="415.00" y2="79.22" stroke="#000" stroke-width="1.2"/>
<line x1="409.80" y1="82.07" x2="415.00" y2="82.07" stroke="#000" stroke-width="1.2"/>
<line x1="409.80" y1="84.47" x2="415.00" y2="84.47" stroke="#000" stroke-width="1.2"/>
<line x1="409.80" y1="86.44" x2="415.00" y2="86.44" stroke="#000" stroke-width="1.2"/>
<line x1="409.80" y1="88.41" x2="415.00" y2="88.41" stroke="#000" stroke-width="1.2"/>
<line x1="409.80" y1="89.94" x2="415.00" y2="89.94" stroke="#000" stroke-width="1.2"/>
<line x1="409.80" y1="91.26" x2="415.00" y2="91.26" stroke="#000" stroke-width="1.2"/>
<line x1="408.00" y1="92.35" x2="415.00" y2="92.35" stroke="#000" stroke-width="1.2"/>
<line x1="409.80" y1="97.16" x2="415.00" y2="97.16" stroke="#000" stroke-width="1.2"/>
<line x1="409.80" y1="101.10" x2="415.00" y2="101.10" stroke="#000" stroke-width="1.2"/>
<line x1="409.80" y1="103.94" x2="415.00" y2="103.94" stroke="#000" stroke-width="1.2"/>
<line x1="409.80" y1="106.35" x2="415.00" y2="106.35" stroke="#000" stroke-width="1.2"/>
<line x1="409.80" y1="108.32" x2="415.00" y2="108.32" stroke="#000" stroke-width="1.2"/>
<line x1="409.80" y1="110.29" x2="415.00" y2="110.29" stroke="#000" stroke-width="1.2"/>
<line x1="409.80" y1="111.82" x2="415.00" y2="111.82" stroke="#000" stroke-width="1.2"/>
<line x1="409.80" y1="113.13" x2="415.00" y2="113.13" stroke="#000" stroke-width="1.2"/>
<line x1="408.00" y1="114.22" x2="415.00" y2="114.22" stroke="#000" stroke-width="1.2"/>
<line x1="409.80" y1="119.04" x2="415.00" y2="119.04" stroke="#000" stroke-width="1.2"/>
<line x1="409.80" y1="122.97" x2="415.00" y2="122.97" stroke="#000" stroke-width="1.2"/>
<line x1="409.80" y1="125.82" x2="415.00" y2="125.82" stroke="#000" stroke-width="1.2"/>
<line x1="409.80" y1="128.22" x2="415.00" y2="128.22" stroke="#000" stroke-width="1.2"/>
<line x1="409.80" y1="130.19" x2="415.00" y2="130.19" stroke="#000" stroke-width="1.2"/>
<line x1="409.80" y1="132.16" x2="415.00" y2="132.16" stroke="#000" stroke-width="1.2"/>
<line x1="409.80" y1="133.69" x2="415.00" y2="133.69" stroke="#000" stroke-width="1.2"/>
<line x1="409.80" y1="135.01" x2="415.00" y2="135.01" stroke="#000" stroke-width="1.2"/>
<line x1="408.00" y1="136.10" x2="415.00" y2="136.10" stroke="#000" stroke-width="1.2"/>
<line x1="415.00" y1="136.10" x2="415.00" y2="143.60" stroke="#000" stroke-width="1.3"/>
<line x1="420.20" y1="136.10" x2="420.20" y2="141.60" stroke="#000" stroke-width="1.2"/>
<line x1="424.46" y1="136.10" x2="424.46" y2="141.60" stroke="#000" stroke-width="1.2"/>
<line x1="427.53" y1="136.10" x2="427.53" y2="141.60" stroke="#000" stroke-width="1.2"/>
<line x1="430.14" y1="136.10" x2="430.14" y2="141.60" stroke="#000" stroke-width="1.2"/>
<line x1="432.26" y1="136.10" x2="432.26" y2="141.60" stroke="#000" stroke-width="1.2"/>
<line x1="434.39" y1="136.10" x2="434.39" y2="141.60" stroke="#000" stroke-width="1.2"/>
<line x1="436.05" y1="136.10" x2="436.05" y2="141.60" stroke="#000" stroke-width="1.2"/>
<line x1="437.47" y1="136.10" x2="437.47" y2="141.60" stroke="#000" stroke-width="1.2"/>
<line x1="438.65" y1="136.10" x2="438.65" y2="143.60" stroke="#000" stroke-width="1.3"/>
<line x1="443.85" y1="136.10" x2="443.85" y2="141.60" stroke="#000" stroke-width="1.2"/>
<line x1="448.11" y1="136.10" x2="448.11" y2="141.60" stroke="#000" stroke-width="1.2"/>
<line x1="451.18" y1="136.10" x2="451.18" y2="141.60" stroke="#000" stroke-width="1.2"/>
<line x1="453.79" y1="136.10" x2="453.79" y2="141.60" stroke="#000" stroke-width="1.2"/>
<line x1="455.91" y1="136.10" x2="455.91" y2="141.60" stroke="#000" stroke-width="1.2"/>
<line x1="458.04" y1="136.10" x2="458.04" y2="141.60" stroke="#000" stroke-width="1.2"/>
<line x1="459.70" y1="136.10" x2="459.70" y2="141.60" stroke="#000" stroke-width="1.2"/>
<line x1="461.12" y1="136.10" x2="461.12" y2="141.60" stroke="#000" stroke-width="1.2"/>
<line x1="462.30" y1="136.10" x2="462.30" y2="143.60" stroke="#000" stroke-width="1.3"/>
<line x1="467.50" y1="136.10" x2="467.50" y2="141.60" stroke="#000" stroke-width="1.2"/>
<line x1="471.76" y1="136.10" x2="471.76" y2="141.60" stroke="#000" stroke-width="1.2"/>
<line x1="474.83" y1="136.10" x2="474.83" y2="141.60" stroke="#000" stroke-width="1.2"/>
<line x1="477.44" y1="136.10" x2="477.44" y2="141.60" stroke="#000" stroke-width="1.2"/>
<line x1="479.56" y1="136.10" x2="479.56" y2="141.60" stroke="#000" stroke-width="1.2"/>
<line x1="481.69" y1="136.10" x2="481.69" y2="141.60" stroke="#000" stroke-width="1.2"/>
<line x1="483.35" y1="136.10" x2="483.35" y2="141.60" stroke="#000" stroke-width="1.2"/>
<line x1="484.77" y1="136.10" x2="484.77" y2="141.60" stroke="#000" stroke-width="1.2"/>
<line x1="485.95" y1="136.10" x2="485.95" y2="143.60" stroke="#000" stroke-width="1.3"/>
<line x1="491.15" y1="136.10" x2="491.15" y2="141.60" stroke="#000" stroke-width="1.2"/>
<line x1="495.41" y1="136.10" x2="495.41" y2="141.60" stroke="#000" stroke-width="1.2"/>
<line x1="498.48" y1="136.10" x2="498.48" y2="141.60" stroke="#000" stroke-width="1.2"/>
<line x1="501.09" y1="136.10" x2="501.09" y2="141.60" stroke="#000" stroke-width="1.2"/>
<line x1="503.21" y1="136.10" x2="503.21" y2="141.60" stroke="#000" stroke-width="1.2"/>
<line x1="505.34" y1="136.10" x2="505.34" y2="141.60" stroke="#000" stroke-width="1.2"/>
<line x1="507.00" y1="136.10" x2="507.00" y2="141.60" stroke="#000" stroke-width="1.2"/>
<line x1="508.42" y1="136.10" x2="508.42" y2="141.60" stroke="#000" stroke-width="1.2"/>
<line x1="509.60" y1="136.10" x2="509.60" y2="143.60" stroke="#000" stroke-width="1.3"/>
<rect x="416.80" y="213.60" width="91.70" height="85.00" fill="none" stroke="#000" stroke-width="1.4"/>
<line x1="416.80" y1="213.00" x2="416.80" y2="299.60" stroke="#000" stroke-width="1.9"/>
<line x1="415.90" y1="298.60" x2="509.10" y2="298.60" stroke="#000" stroke-width="1.9"/>
<line x1="449.90" y1="213.60" x2="449.90" y2="298.60" stroke="#000" stroke-width="1.4"/>
<line x1="416.80" y1="244.20" x2="508.50" y2="244.20" stroke="#000" stroke-width="1.5"/>
<line x1="409.80" y1="213.60" x2="416.80" y2="213.60" stroke="#000" stroke-width="1.2"/>
<line x1="411.60" y1="218.28" x2="416.80" y2="218.28" stroke="#000" stroke-width="1.2"/>
<line x1="411.60" y1="222.10" x2="416.80" y2="222.10" stroke="#000" stroke-width="1.2"/>
<line x1="411.60" y1="224.86" x2="416.80" y2="224.86" stroke="#000" stroke-width="1.2"/>
<line x1="411.60" y1="227.20" x2="416.80" y2="227.20" stroke="#000" stroke-width="1.2"/>
<line x1="411.60" y1="229.11" x2="416.80" y2="229.11" stroke="#000" stroke-width="1.2"/>
<line x1="411.60" y1="231.03" x2="416.80" y2="231.03" stroke="#000" stroke-width="1.2"/>
<line x1="411.60" y1="232.51" x2="416.80" y2="232.51" stroke="#000" stroke-width="1.2"/>
<line x1="411.60" y1="233.79" x2="416.80" y2="233.79" stroke="#000" stroke-width="1.2"/>
<line x1="409.80" y1="234.85" x2="416.80" y2="234.85" stroke="#000" stroke-width="1.2"/>
<line x1="411.60" y1="239.53" x2="416.80" y2="239.53" stroke="#000" stroke-width="1.2"/>
<line x1="411.60" y1="243.35" x2="416.80" y2="243.35" stroke="#000" stroke-width="1.2"/>
<line x1="411.60" y1="246.11" x2="416.80" y2="246.11" stroke="#000" stroke-width="1.2"/>
<line x1="411.60" y1="248.45" x2="416.80" y2="248.45" stroke="#000" stroke-width="1.2"/>
<line x1="411.60" y1="250.36" x2="416.80" y2="250.36" stroke="#000" stroke-width="1.2"/>
<line x1="411.60" y1="252.28" x2="416.80" y2="252.28" stroke="#000" stroke-width="1.2"/>
<line x1="411.60" y1="253.76" x2="416.80" y2="253.76" stroke="#000" stroke-width="1.2"/>
<line x1="411.60" y1="255.04" x2="416.80" y2="255.04" stroke="#000" stroke-width="1.2"/>
<line x1="409.80" y1="256.10" x2="416.80" y2="256.10" stroke="#000" stroke-width="1.2"/>
<line x1="411.60" y1="260.78" x2="416.80" y2="260.78" stroke="#000" stroke-width="1.2"/>
<line x1="411.60" y1="264.60" x2="416.80" y2="264.60" stroke="#000" stroke-width="1.2"/>
<line x1="411.60" y1="267.36" x2="416.80" y2="267.36" stroke="#000" stroke-width="1.2"/>
<line x1="411.60" y1="269.70" x2="416.80" y2="269.70" stroke="#000" stroke-width="1.2"/>
<line x1="411.60" y1="271.61" x2="416.80" y2="271.61" stroke="#000" stroke-width="1.2"/>
<line x1="411.60" y1="273.53" x2="416.80" y2="273.53" stroke="#000" stroke-width="1.2"/>
<line x1="411.60" y1="275.01" x2="416.80" y2="275.01" stroke="#000" stroke-width="1.2"/>
<line x1="411.60" y1="276.29" x2="416.80" y2="276.29" stroke="#000" stroke-width="1.2"/>
<line x1="409.80" y1="277.35" x2="416.80" y2="277.35" stroke="#000" stroke-width="1.2"/>
<line x1="411.60" y1="282.03" x2="416.80" y2="282.03" stroke="#000" stroke-width="1.2"/>
<line x1="411.60" y1="285.85" x2="416.80" y2="285.85" stroke="#000" stroke-width="1.2"/>
<line x1="411.60" y1="288.61" x2="416.80" y2="288.61" stroke="#000" stroke-width="1.2"/>
<line x1="411.60" y1="290.95" x2="416.80" y2="290.95" stroke="#000" stroke-width="1.2"/>
<line x1="411.60" y1="292.86" x2="416.80" y2="292.86" stroke="#000" stroke-width="1.2"/>
<line x1="411.60" y1="294.78" x2="416.80" y2="294.78" stroke="#000" stroke-width="1.2"/>
<line x1="411.60" y1="296.26" x2="416.80" y2="296.26" stroke="#000" stroke-width="1.2"/>
<line x1="411.60" y1="297.54" x2="416.80" y2="297.54" stroke="#000" stroke-width="1.2"/>
<line x1="409.80" y1="298.60" x2="416.80" y2="298.60" stroke="#000" stroke-width="1.2"/>
<line x1="416.80" y1="298.60" x2="416.80" y2="306.10" stroke="#000" stroke-width="1.3"/>
<line x1="421.84" y1="298.60" x2="421.84" y2="304.10" stroke="#000" stroke-width="1.2"/>
<line x1="425.97" y1="298.60" x2="425.97" y2="304.10" stroke="#000" stroke-width="1.2"/>
<line x1="428.95" y1="298.60" x2="428.95" y2="304.10" stroke="#000" stroke-width="1.2"/>
<line x1="431.47" y1="298.60" x2="431.47" y2="304.10" stroke="#000" stroke-width="1.2"/>
<line x1="433.54" y1="298.60" x2="433.54" y2="304.10" stroke="#000" stroke-width="1.2"/>
<line x1="435.60" y1="298.60" x2="435.60" y2="304.10" stroke="#000" stroke-width="1.2"/>
<line x1="437.20" y1="298.60" x2="437.20" y2="304.10" stroke="#000" stroke-width="1.2"/>
<line x1="438.58" y1="298.60" x2="438.58" y2="304.10" stroke="#000" stroke-width="1.2"/>
<line x1="439.73" y1="298.60" x2="439.73" y2="306.10" stroke="#000" stroke-width="1.3"/>
<line x1="444.77" y1="298.60" x2="444.77" y2="304.10" stroke="#000" stroke-width="1.2"/>
<line x1="448.90" y1="298.60" x2="448.90" y2="304.10" stroke="#000" stroke-width="1.2"/>
<line x1="451.88" y1="298.60" x2="451.88" y2="304.10" stroke="#000" stroke-width="1.2"/>
<line x1="454.40" y1="298.60" x2="454.40" y2="304.10" stroke="#000" stroke-width="1.2"/>
<line x1="456.46" y1="298.60" x2="456.46" y2="304.10" stroke="#000" stroke-width="1.2"/>
<line x1="458.52" y1="298.60" x2="458.52" y2="304.10" stroke="#000" stroke-width="1.2"/>
<line x1="460.13" y1="298.60" x2="460.13" y2="304.10" stroke="#000" stroke-width="1.2"/>
<line x1="461.50" y1="298.60" x2="461.50" y2="304.10" stroke="#000" stroke-width="1.2"/>
<line x1="462.65" y1="298.60" x2="462.65" y2="306.10" stroke="#000" stroke-width="1.3"/>
<line x1="467.69" y1="298.60" x2="467.69" y2="304.10" stroke="#000" stroke-width="1.2"/>
<line x1="471.82" y1="298.60" x2="471.82" y2="304.10" stroke="#000" stroke-width="1.2"/>
<line x1="474.80" y1="298.60" x2="474.80" y2="304.10" stroke="#000" stroke-width="1.2"/>
<line x1="477.32" y1="298.60" x2="477.32" y2="304.10" stroke="#000" stroke-width="1.2"/>
<line x1="479.39" y1="298.60" x2="479.39" y2="304.10" stroke="#000" stroke-width="1.2"/>
<line x1="481.45" y1="298.60" x2="481.45" y2="304.10" stroke="#000" stroke-width="1.2"/>
<line x1="483.05" y1="298.60" x2="483.05" y2="304.10" stroke="#000" stroke-width="1.2"/>
<line x1="484.43" y1="298.60" x2="484.43" y2="304.10" stroke="#000" stroke-width="1.2"/>
<line x1="485.57" y1="298.60" x2="485.57" y2="306.10" stroke="#000" stroke-width="1.3"/>
<line x1="490.62" y1="298.60" x2="490.62" y2="304.10" stroke="#000" stroke-width="1.2"/>
<line x1="494.75" y1="298.60" x2="494.75" y2="304.10" stroke="#000" stroke-width="1.2"/>
<line x1="497.73" y1="298.60" x2="497.73" y2="304.10" stroke="#000" stroke-width="1.2"/>
<line x1="500.25" y1="298.60" x2="500.25" y2="304.10" stroke="#000" stroke-width="1.2"/>
<line x1="502.31" y1="298.60" x2="502.31" y2="304.10" stroke="#000" stroke-width="1.2"/>
<line x1="504.37" y1="298.60" x2="504.37" y2="304.10" stroke="#000" stroke-width="1.2"/>
<line x1="505.98" y1="298.60" x2="505.98" y2="304.10" stroke="#000" stroke-width="1.2"/>
<line x1="507.35" y1="298.60" x2="507.35" y2="304.10" stroke="#000" stroke-width="1.2"/>
<line x1="508.50" y1="298.60" x2="508.50" y2="306.10" stroke="#000" stroke-width="1.3"/>
<rect x="417.10" y="377.40" width="91.40" height="90.00" fill="none" stroke="#000" stroke-width="1.4"/>
<line x1="417.10" y1="376.80" x2="417.10" y2="468.40" stroke="#000" stroke-width="1.9"/>
<line x1="416.20" y1="467.40" x2="509.10" y2="467.40" stroke="#000" stroke-width="1.9"/>
<line x1="459.00" y1="377.40" x2="459.00" y2="467.40" stroke="#000" stroke-width="1.4"/>
<line x1="417.10" y1="409.80" x2="508.50" y2="409.80" stroke="#000" stroke-width="1.5"/>
<line x1="410.10" y1="377.40" x2="417.10" y2="377.40" stroke="#000" stroke-width="1.2"/>
<line x1="411.90" y1="382.35" x2="417.10" y2="382.35" stroke="#000" stroke-width="1.2"/>
<line x1="411.90" y1="386.40" x2="417.10" y2="386.40" stroke="#000" stroke-width="1.2"/>
<line x1="411.90" y1="389.32" x2="417.10" y2="389.32" stroke="#000" stroke-width="1.2"/>
<line x1="411.90" y1="391.80" x2="417.10" y2="391.80" stroke="#000" stroke-width="1.2"/>
<line x1="411.90" y1="393.82" x2="417.10" y2="393.82" stroke="#000" stroke-width="1.2"/>
<line x1="411.90" y1="395.85" x2="417.10" y2="395.85" stroke="#000" stroke-width="1.2"/>
<line x1="411.90" y1="397.42" x2="417.10" y2="397.42" stroke="#000" stroke-width="1.2"/>
<line x1="411.90" y1="398.77" x2="417.10" y2="398.77" stroke="#000" stroke-width="1.2"/>
<line x1="410.10" y1="399.90" x2="417.10" y2="399.90" stroke="#000" stroke-width="1.2"/>
<line x1="411.90" y1="404.85" x2="417.10" y2="404.85" stroke="#000" stroke-width="1.2"/>
<line x1="411.90" y1="408.90" x2="417.10" y2="408.90" stroke="#000" stroke-width="1.2"/>
<line x1="411.90" y1="411.82" x2="417.10" y2="411.82" stroke="#000" stroke-width="1.2"/>
<line x1="411.90" y1="414.30" x2="417.10" y2="414.30" stroke="#000" stroke-width="1.2"/>
<line x1="411.90" y1="416.32" x2="417.10" y2="416.32" stroke="#000" stroke-width="1.2"/>
<line x1="411.90" y1="418.35" x2="417.10" y2="418.35" stroke="#000" stroke-width="1.2"/>
<line x1="411.90" y1="419.92" x2="417.10" y2="419.92" stroke="#000" stroke-width="1.2"/>
<line x1="411.90" y1="421.27" x2="417.10" y2="421.27" stroke="#000" stroke-width="1.2"/>
<line x1="410.10" y1="422.40" x2="417.10" y2="422.40" stroke="#000" stroke-width="1.2"/>
<line x1="411.90" y1="427.35" x2="417.10" y2="427.35" stroke="#000" stroke-width="1.2"/>
<line x1="411.90" y1="431.40" x2="417.10" y2="431.40" stroke="#000" stroke-width="1.2"/>
<line x1="411.90" y1="434.32" x2="417.10" y2="434.32" stroke="#000" stroke-width="1.2"/>
<line x1="411.90" y1="436.80" x2="417.10" y2="436.80" stroke="#000" stroke-width="1.2"/>
<line x1="411.90" y1="438.82" x2="417.10" y2="438.82" stroke="#000" stroke-width="1.2"/>
<line x1="411.90" y1="440.85" x2="417.10" y2="440.85" stroke="#000" stroke-width="1.2"/>
<line x1="411.90" y1="442.42" x2="417.10" y2="442.42" stroke="#000" stroke-width="1.2"/>
<line x1="411.90" y1="443.77" x2="417.10" y2="443.77" stroke="#000" stroke-width="1.2"/>
<line x1="410.10" y1="444.90" x2="417.10" y2="444.90" stroke="#000" stroke-width="1.2"/>
<line x1="411.90" y1="449.85" x2="417.10" y2="449.85" stroke="#000" stroke-width="1.2"/>
<line x1="411.90" y1="453.90" x2="417.10" y2="453.90" stroke="#000" stroke-width="1.2"/>
<line x1="411.90" y1="456.82" x2="417.10" y2="456.82" stroke="#000" stroke-width="1.2"/>
<line x1="411.90" y1="459.30" x2="417.10" y2="459.30" stroke="#000" stroke-width="1.2"/>
<line x1="411.90" y1="461.32" x2="417.10" y2="461.32" stroke="#000" stroke-width="1.2"/>
<line x1="411.90" y1="463.35" x2="417.10" y2="463.35" stroke="#000" stroke-width="1.2"/>
<line x1="411.90" y1="464.92" x2="417.10" y2="464.92" stroke="#000" stroke-width="1.2"/>
<line x1="411.90" y1="466.27" x2="417.10" y2="466.27" stroke="#000" stroke-width="1.2"/>
<line x1="410.10" y1="467.40" x2="417.10" y2="467.40" stroke="#000" stroke-width="1.2"/>
<line x1="417.10" y1="467.40" x2="417.10" y2="474.90" stroke="#000" stroke-width="1.3"/>
<line x1="422.13" y1="467.40" x2="422.13" y2="472.90" stroke="#000" stroke-width="1.2"/>
<line x1="426.24" y1="467.40" x2="426.24" y2="472.90" stroke="#000" stroke-width="1.2"/>
<line x1="429.21" y1="467.40" x2="429.21" y2="472.90" stroke="#000" stroke-width="1.2"/>
<line x1="431.72" y1="467.40" x2="431.72" y2="472.90" stroke="#000" stroke-width="1.2"/>
<line x1="433.78" y1="467.40" x2="433.78" y2="472.90" stroke="#000" stroke-width="1.2"/>
<line x1="435.84" y1="467.40" x2="435.84" y2="472.90" stroke="#000" stroke-width="1.2"/>
<line x1="437.44" y1="467.40" x2="437.44" y2="472.90" stroke="#000" stroke-width="1.2"/>
<line x1="438.81" y1="467.40" x2="438.81" y2="472.90" stroke="#000" stroke-width="1.2"/>
<line x1="439.95" y1="467.40" x2="439.95" y2="474.90" stroke="#000" stroke-width="1.3"/>
<line x1="444.98" y1="467.40" x2="444.98" y2="472.90" stroke="#000" stroke-width="1.2"/>
<line x1="449.09" y1="467.40" x2="449.09" y2="472.90" stroke="#000" stroke-width="1.2"/>
<line x1="452.06" y1="467.40" x2="452.06" y2="472.90" stroke="#000" stroke-width="1.2"/>
<line x1="454.57" y1="467.40" x2="454.57" y2="472.90" stroke="#000" stroke-width="1.2"/>
<line x1="456.63" y1="467.40" x2="456.63" y2="472.90" stroke="#000" stroke-width="1.2"/>
<line x1="458.69" y1="467.40" x2="458.69" y2="472.90" stroke="#000" stroke-width="1.2"/>
<line x1="460.29" y1="467.40" x2="460.29" y2="472.90" stroke="#000" stroke-width="1.2"/>
<line x1="461.66" y1="467.40" x2="461.66" y2="472.90" stroke="#000" stroke-width="1.2"/>
<line x1="462.80" y1="467.40" x2="462.80" y2="474.90" stroke="#000" stroke-width="1.3"/>
<line x1="467.83" y1="467.40" x2="467.83" y2="472.90" stroke="#000" stroke-width="1.2"/>
<line x1="471.94" y1="467.40" x2="471.94" y2="472.90" stroke="#000" stroke-width="1.2"/>
<line x1="474.91" y1="467.40" x2="474.91" y2="472.90" stroke="#000" stroke-width="1.2"/>
<line x1="477.42" y1="467.40" x2="477.42" y2="472.90" stroke="#000" stroke-width="1.2"/>
<line x1="479.48" y1="467.40" x2="479.48" y2="472.90" stroke="#000" stroke-width="1.2"/>
<line x1="481.54" y1="467.40" x2="481.54" y2="472.90" stroke="#000" stroke-width="1.2"/>
<line x1="483.14" y1="467.40" x2="483.14" y2="472.90" stroke="#000" stroke-width="1.2"/>
<line x1="484.51" y1="467.40" x2="484.51" y2="472.90" stroke="#000" stroke-width="1.2"/>
<line x1="485.65" y1="467.40" x2="485.65" y2="474.90" stroke="#000" stroke-width="1.3"/>
<line x1="490.68" y1="467.40" x2="490.68" y2="472.90" stroke="#000" stroke-width="1.2"/>
<line x1="494.79" y1="467.40" x2="494.79" y2="472.90" stroke="#000" stroke-width="1.2"/>
<line x1="497.76" y1="467.40" x2="497.76" y2="472.90" stroke="#000" stroke-width="1.2"/>
<line x1="500.27" y1="467.40" x2="500.27" y2="472.90" stroke="#000" stroke-width="1.2"/>
<line x1="502.33" y1="467.40" x2="502.33" y2="472.90" stroke="#000" stroke-width="1.2"/>
<line x1="504.39" y1="467.40" x2="504.39" y2="472.90" stroke="#000" stroke-width="1.2"/>
<line x1="505.99" y1="467.40" x2="505.99" y2="472.90" stroke="#000" stroke-width="1.2"/>
<line x1="507.36" y1="467.40" x2="507.36" y2="472.90" stroke="#000" stroke-width="1.2"/>
<line x1="508.50" y1="467.40" x2="508.50" y2="474.90" stroke="#000" stroke-width="1.3"/>
<rect x="411.30" y="539.00" width="97.20" height="89.60" fill="none" stroke="#000" stroke-width="1.4"/>
<line x1="411.30" y1="538.40" x2="411.30" y2="629.60" stroke="#000" stroke-width="1.9"/>
<line x1="410.40" y1="628.60" x2="509.10" y2="628.60" stroke="#000" stroke-width="1.9"/>
<line x1="434.40" y1="539.00" x2="434.40" y2="628.60" stroke="#000" stroke-width="1.4"/>
<line x1="411.30" y1="580.40" x2="508.50" y2="580.40" stroke="#000" stroke-width="1.5"/>
<line x1="404.30" y1="539.00" x2="411.30" y2="539.00" stroke="#000" stroke-width="1.2"/>
<line x1="406.10" y1="543.93" x2="411.30" y2="543.93" stroke="#000" stroke-width="1.2"/>
<line x1="406.10" y1="547.96" x2="411.30" y2="547.96" stroke="#000" stroke-width="1.2"/>
<line x1="406.10" y1="550.87" x2="411.30" y2="550.87" stroke="#000" stroke-width="1.2"/>
<line x1="406.10" y1="553.34" x2="411.30" y2="553.34" stroke="#000" stroke-width="1.2"/>
<line x1="406.10" y1="555.35" x2="411.30" y2="555.35" stroke="#000" stroke-width="1.2"/>
<line x1="406.10" y1="557.37" x2="411.30" y2="557.37" stroke="#000" stroke-width="1.2"/>
<line x1="406.10" y1="558.94" x2="411.30" y2="558.94" stroke="#000" stroke-width="1.2"/>
<line x1="406.10" y1="560.28" x2="411.30" y2="560.28" stroke="#000" stroke-width="1.2"/>
<line x1="404.30" y1="561.40" x2="411.30" y2="561.40" stroke="#000" stroke-width="1.2"/>
<line x1="406.10" y1="566.33" x2="411.30" y2="566.33" stroke="#000" stroke-width="1.2"/>
<line x1="406.10" y1="570.36" x2="411.30" y2="570.36" stroke="#000" stroke-width="1.2"/>
<line x1="406.10" y1="573.27" x2="411.30" y2="573.27" stroke="#000" stroke-width="1.2"/>
<line x1="406.10" y1="575.74" x2="411.30" y2="575.74" stroke="#000" stroke-width="1.2"/>
<line x1="406.10" y1="577.75" x2="411.30" y2="577.75" stroke="#000" stroke-width="1.2"/>
<line x1="406.10" y1="579.77" x2="411.30" y2="579.77" stroke="#000" stroke-width="1.2"/>
<line x1="406.10" y1="581.34" x2="411.30" y2="581.34" stroke="#000" stroke-width="1.2"/>
<line x1="406.10" y1="582.68" x2="411.30" y2="582.68" stroke="#000" stroke-width="1.2"/>
<line x1="404.30" y1="583.80" x2="411.30" y2="583.80" stroke="#000" stroke-width="1.2"/>
<line x1="406.10" y1="588.73" x2="411.30" y2="588.73" stroke="#000" stroke-width="1.2"/>
<line x1="406.10" y1="592.76" x2="411.30" y2="592.76" stroke="#000" stroke-width="1.2"/>
<line x1="406.10" y1="595.67" x2="411.30" y2="595.67" stroke="#000" stroke-width="1.2"/>
<line x1="406.10" y1="598.14" x2="411.30" y2="598.14" stroke="#000" stroke-width="1.2"/>
<line x1="406.10" y1="600.15" x2="411.30" y2="600.15" stroke="#000" stroke-width="1.2"/>
<line x1="406.10" y1="602.17" x2="411.30" y2="602.17" stroke="#000" stroke-width="1.2"/>
<line x1="406.10" y1="603.74" x2="411.30" y2="603.74" stroke="#000" stroke-width="1.2"/>
<line x1="406.10" y1="605.08" x2="411.30" y2="605.08" stroke="#000" stroke-width="1.2"/>
<line x1="404.30" y1="606.20" x2="411.30" y2="606.20" stroke="#000" stroke-width="1.2"/>
<line x1="406.10" y1="611.13" x2="411.30" y2="611.13" stroke="#000" stroke-width="1.2"/>
<line x1="406.10" y1="615.16" x2="411.30" y2="615.16" stroke="#000" stroke-width="1.2"/>
<line x1="406.10" y1="618.07" x2="411.30" y2="618.07" stroke="#000" stroke-width="1.2"/>
<line x1="406.10" y1="620.54" x2="411.30" y2="620.54" stroke="#000" stroke-width="1.2"/>
<line x1="406.10" y1="622.55" x2="411.30" y2="622.55" stroke="#000" stroke-width="1.2"/>
<line x1="406.10" y1="624.57" x2="411.30" y2="624.57" stroke="#000" stroke-width="1.2"/>
<line x1="406.10" y1="626.14" x2="411.30" y2="626.14" stroke="#000" stroke-width="1.2"/>
<line x1="406.10" y1="627.48" x2="411.30" y2="627.48" stroke="#000" stroke-width="1.2"/>
<line x1="404.30" y1="628.60" x2="411.30" y2="628.60" stroke="#000" stroke-width="1.2"/>
<line x1="411.30" y1="628.60" x2="411.30" y2="636.10" stroke="#000" stroke-width="1.3"/>
<line x1="416.65" y1="628.60" x2="416.65" y2="634.10" stroke="#000" stroke-width="1.2"/>
<line x1="421.02" y1="628.60" x2="421.02" y2="634.10" stroke="#000" stroke-width="1.2"/>
<line x1="424.18" y1="628.60" x2="424.18" y2="634.10" stroke="#000" stroke-width="1.2"/>
<line x1="426.85" y1="628.60" x2="426.85" y2="634.10" stroke="#000" stroke-width="1.2"/>
<line x1="429.04" y1="628.60" x2="429.04" y2="634.10" stroke="#000" stroke-width="1.2"/>
<line x1="431.23" y1="628.60" x2="431.23" y2="634.10" stroke="#000" stroke-width="1.2"/>
<line x1="432.93" y1="628.60" x2="432.93" y2="634.10" stroke="#000" stroke-width="1.2"/>
<line x1="434.38" y1="628.60" x2="434.38" y2="634.10" stroke="#000" stroke-width="1.2"/>
<line x1="435.60" y1="628.60" x2="435.60" y2="636.10" stroke="#000" stroke-width="1.3"/>
<line x1="440.95" y1="628.60" x2="440.95" y2="634.10" stroke="#000" stroke-width="1.2"/>
<line x1="445.32" y1="628.60" x2="445.32" y2="634.10" stroke="#000" stroke-width="1.2"/>
<line x1="448.48" y1="628.60" x2="448.48" y2="634.10" stroke="#000" stroke-width="1.2"/>
<line x1="451.15" y1="628.60" x2="451.15" y2="634.10" stroke="#000" stroke-width="1.2"/>
<line x1="453.34" y1="628.60" x2="453.34" y2="634.10" stroke="#000" stroke-width="1.2"/>
<line x1="455.53" y1="628.60" x2="455.53" y2="634.10" stroke="#000" stroke-width="1.2"/>
<line x1="457.23" y1="628.60" x2="457.23" y2="634.10" stroke="#000" stroke-width="1.2"/>
<line x1="458.69" y1="628.60" x2="458.69" y2="634.10" stroke="#000" stroke-width="1.2"/>
<line x1="459.90" y1="628.60" x2="459.90" y2="636.10" stroke="#000" stroke-width="1.3"/>
<line x1="465.25" y1="628.60" x2="465.25" y2="634.10" stroke="#000" stroke-width="1.2"/>
<line x1="469.62" y1="628.60" x2="469.62" y2="634.10" stroke="#000" stroke-width="1.2"/>
<line x1="472.78" y1="628.60" x2="472.78" y2="634.10" stroke="#000" stroke-width="1.2"/>
<line x1="475.45" y1="628.60" x2="475.45" y2="634.10" stroke="#000" stroke-width="1.2"/>
<line x1="477.64" y1="628.60" x2="477.64" y2="634.10" stroke="#000" stroke-width="1.2"/>
<line x1="479.83" y1="628.60" x2="479.83" y2="634.10" stroke="#000" stroke-width="1.2"/>
<line x1="481.53" y1="628.60" x2="481.53" y2="634.10" stroke="#000" stroke-width="1.2"/>
<line x1="482.98" y1="628.60" x2="482.98" y2="634.10" stroke="#000" stroke-width="1.2"/>
<line x1="484.20" y1="628.60" x2="484.20" y2="636.10" stroke="#000" stroke-width="1.3"/>
<line x1="489.55" y1="628.60" x2="489.55" y2="634.10" stroke="#000" stroke-width="1.2"/>
<line x1="493.92" y1="628.60" x2="493.92" y2="634.10" stroke="#000" stroke-width="1.2"/>
<line x1="497.08" y1="628.60" x2="497.08" y2="634.10" stroke="#000" stroke-width="1.2"/>
<line x1="499.75" y1="628.60" x2="499.75" y2="634.10" stroke="#000" stroke-width="1.2"/>
<line x1="501.94" y1="628.60" x2="501.94" y2="634.10" stroke="#000" stroke-width="1.2"/>
<line x1="504.13" y1="628.60" x2="504.13" y2="634.10" stroke="#000" stroke-width="1.2"/>
<line x1="505.83" y1="628.60" x2="505.83" y2="634.10" stroke="#000" stroke-width="1.2"/>
<line x1="507.28" y1="628.60" x2="507.28" y2="634.10" stroke="#000" stroke-width="1.2"/>
<line x1="508.50" y1="628.60" x2="508.50" y2="636.10" stroke="#000" stroke-width="1.3"/>
<path d="M66.0,80.8 L86.0,80.8 L88.0,86.0 L88.5,94.0 L87.0,99.0 L82.0,102.0 L75.0,103.0 L69.0,104.0 L66.0,104.0Z" fill="#000"/>
<path d="M100.0,80.8 L121.0,80.8 L123.0,86.0 L122.5,92.0 L119.5,99.0 L114.0,104.0 L109.0,108.5 L103.0,109.0 L99.0,105.0 L96.0,100.0 L95.0,94.0 L96.0,89.0 L98.0,85.0Z" fill="#000"/>
<path d="M243.5,81.8 L263.0,81.8 L265.0,85.0 L265.0,97.0 L262.0,101.0 L258.0,106.0 L253.0,110.0 L247.0,113.0 L243.5,113.0Z" fill="#000"/>
<path d="M415.0,92.7 L428.0,92.7 L431.0,95.0 L432.3,100.0 L431.5,105.0 L428.0,109.5 L423.0,113.5 L418.0,116.0 L415.0,116.0Z" fill="#000"/>
<path d="M69.0,233.2 L100.0,233.2 L104.0,238.0 L105.0,245.0 L104.0,252.0 L101.0,256.0 L95.0,258.0 L85.0,258.5 L75.0,258.0 L69.0,257.0Z" fill="#000"/>
<path d="M144.5,248.0 L144.1,251.4 L142.8,254.5 L140.7,257.2 L138.0,259.3 L134.9,260.6 L131.5,261.0 L128.1,260.6 L125.0,259.3 L122.3,257.2 L120.2,254.5 L118.9,251.4 L118.5,248.0 L118.9,244.6 L120.2,241.5 L122.3,238.8 L125.0,236.7 L128.1,235.4 L131.5,233.2 L134.9,235.4 L138.0,236.7 L140.7,238.8 L142.8,241.5 L144.1,244.6Z" fill="#000"/>
<path d="M244.5,233.8 L290.0,233.8 L293.0,238.0 L293.5,246.0 L292.0,253.0 L288.0,258.0 L270.0,259.5 L250.0,260.0 L244.5,260.0Z" fill="#000"/>
<path d="M426.0,244.5 L440.0,244.5 L446.0,249.0 L447.0,256.0 L445.0,264.0 L440.0,268.0 L432.0,270.0 L425.0,269.0 L421.0,265.0 L420.0,258.0 L422.0,251.0Z" fill="#000"/>
<path d="M70.0,399.0 L97.0,396.6 L100.0,402.0 L100.5,410.0 L99.0,416.0 L95.0,419.0 L88.0,422.0 L80.0,424.5 L72.0,425.5 L68.0,425.5 L68.0,402.0Z" fill="#000"/>
<path d="M127.0,396.6 L140.0,396.6 L141.5,402.0 L141.0,410.0 L139.0,416.0 L137.0,420.0 L134.0,424.0 L133.5,430.0 L132.0,433.0 L126.0,433.0 L124.5,430.0 L125.5,426.0 L124.0,420.0 L124.5,414.0 L126.5,410.0 L127.0,404.0Z" fill="#000"/>
<path d="M245.0,397.2 L293.5,397.2 L294.0,406.0 L294.0,416.0 L293.0,424.0 L285.0,427.0 L270.0,427.5 L258.0,427.0 L248.0,428.0 L245.0,428.0Z" fill="#000"/>
<path d="M418.0,419.5 L428.5,419.5 L429.0,414.6 L433.0,414.6 L433.5,410.1 L458.5,410.1 L458.5,426.0 L456.5,428.0 L451.5,428.0 L451.5,434.0 L456.0,434.5 L455.0,437.5 L448.0,438.5 L440.0,439.5 L428.0,440.0 L424.0,441.8 L418.0,441.8Z" fill="#000"/>
<path d="M67.5,571.9 L92.5,571.9 L93.0,580.0 L92.0,590.0 L88.0,595.0 L80.0,597.0 L72.0,598.0 L67.5,598.0Z" fill="#000"/>
<path d="M244.0,572.1 L263.0,572.1 L266.0,576.0 L266.0,585.0 L264.5,592.0 L262.0,597.0 L257.0,600.0 L250.0,602.0 L244.0,602.0Z" fill="#000"/>
<path d="M411.5,580.7 L428.0,580.7 L430.5,584.0 L431.0,592.0 L429.0,598.0 L425.0,602.0 L418.0,605.0 L411.5,605.0Z" fill="#000"/>
<line x1="244.40" y1="232.40" x2="315.00" y2="232.40" stroke="#555" stroke-width="0.9"/>
<rect x="301.6" y="414.5" width="1.3" height="4" fill="#000"/>
<rect x="295.5" y="406.5" width="1.5" height="3" fill="#000"/>
<rect x="462" y="422" width="2.5" height="1.2" fill="#000"/>
<path d="M295.3 599.6h1.0v1.0h-1.0zM296.2 602.1h0.9v0.9h-0.9zM275.6 594.3h1.2v1.2h-1.2zM289.6 604.4h1.0v1.0h-1.0zM287.1 603.7h1.0v1.0h-1.0zM280.7 583.4h1.1v1.1h-1.1zM269.8 592.9h1.0v1.0h-1.0zM286.2 600.5h1.1v1.1h-1.1zM291.9 595.2h1.2v1.2h-1.2zM270.0 604.9h0.8v0.8h-0.8zM276.9 602.2h0.9v0.9h-0.9zM272.9 583.7h1.1v1.1h-1.1zM279.6 573.8h0.9v0.9h-0.9zM280.9 586.1h1.0v1.0h-1.0zM272.4 574.6h0.9v0.9h-0.9zM300.3 591.3h1.1v1.1h-1.1zM274.1 577.4h0.8v0.8h-0.8zM270.1 582.3h0.9v0.9h-0.9zM276.0 594.5h0.9v0.9h-0.9zM288.3 585.0h1.0v1.0h-1.0zM302.0 583.3h1.0v1.0h-1.0zM288.8 585.7h0.8v0.8h-0.8zM272.3 601.4h1.1v1.1h-1.1zM291.5 587.8h0.8v0.8h-0.8zM306.6 596.0h0.9v0.9h-0.9zM289.3 593.2h0.9v0.9h-0.9zM271.4 592.8h0.8v0.8h-0.8zM287.8 587.0h1.1v1.1h-1.1zM279.0 601.5h1.0v1.0h-1.0zM288.6 574.1h1.2v1.2h-1.2zM454.6 605.1h1.0v1.0h-1.0zM465.2 591.6h1.2v1.2h-1.2zM448.7 590.0h1.2v1.2h-1.2zM452.0 585.9h0.8v0.8h-0.8zM455.5 603.3h0.9v0.9h-0.9zM436.6 583.2h1.1v1.1h-1.1zM453.4 605.0h0.9v0.9h-0.9zM467.1 597.9h1.1v1.1h-1.1zM444.0 590.3h1.1v1.1h-1.1zM452.8 598.6h0.9v0.9h-0.9zM447.6 593.4h1.0v1.0h-1.0zM462.9 597.8h0.9v0.9h-0.9zM462.7 589.3h1.1v1.1h-1.1zM443.8 607.0h0.8v0.8h-0.8z" fill="#666"/>
<path d="M86.5 98.0h1.6v1.6h-1.6zM74.6 103.1h1.3v1.3h-1.3zM86.3 81.1h1.2v1.2h-1.2zM79.2 104.1h1.0v1.0h-1.0zM69.7 105.8h0.9v0.9h-0.9zM87.5 83.2h0.9v0.9h-0.9zM86.3 80.8h1.5v1.5h-1.5zM87.8 93.8h1.2v1.2h-1.2zM67.1 103.4h1.3v1.3h-1.3zM83.2 103.2h1.2v1.2h-1.2zM86.4 98.5h1.3v1.3h-1.3zM83.0 100.7h1.2v1.2h-1.2zM81.1 102.0h1.3v1.3h-1.3zM83.5 101.8h1.2v1.2h-1.2zM69.9 107.4h1.1v1.1h-1.1zM79.5 105.5h1.0v1.0h-1.0zM79.3 103.5h1.5v1.5h-1.5zM73.8 105.5h1.5v1.5h-1.5zM86.4 82.1h1.1v1.1h-1.1zM87.7 94.9h1.1v1.1h-1.1zM69.7 104.9h1.3v1.3h-1.3zM84.8 100.0h1.6v1.6h-1.6zM88.6 98.8h1.4v1.4h-1.4zM91.0 90.1h1.1v1.1h-1.1zM89.2 94.8h1.1v1.1h-1.1zM87.2 81.0h1.0v1.0h-1.0zM68.2 104.8h1.2v1.2h-1.2zM92.3 95.5h1.2v1.2h-1.2zM73.0 103.1h1.4v1.4h-1.4zM82.5 103.9h1.2v1.2h-1.2zM85.4 99.4h0.9v0.9h-0.9zM65.3 95.0h1.1v1.1h-1.1zM73.0 104.0h1.1v1.1h-1.1zM72.9 105.5h1.0v1.0h-1.0zM87.4 101.8h1.2v1.2h-1.2zM124.0 94.4h1.6v1.6h-1.6zM93.2 96.1h1.4v1.4h-1.4zM115.9 102.2h1.1v1.1h-1.1zM101.9 111.3h1.2v1.2h-1.2zM112.4 107.4h1.2v1.2h-1.2zM95.7 82.8h1.6v1.6h-1.6zM97.5 108.9h1.1v1.1h-1.1zM95.7 102.6h1.0v1.0h-1.0zM97.2 104.1h1.3v1.3h-1.3zM100.2 107.4h1.0v1.0h-1.0zM93.4 98.6h1.5v1.5h-1.5zM103.4 109.5h1.5v1.5h-1.5zM94.6 98.0h1.6v1.6h-1.6zM100.6 108.3h1.6v1.6h-1.6zM106.1 110.1h0.9v0.9h-0.9zM95.8 87.7h1.0v1.0h-1.0zM123.0 81.1h1.6v1.6h-1.6zM108.3 110.0h1.1v1.1h-1.1zM122.0 82.0h1.5v1.5h-1.5zM94.7 86.6h1.2v1.2h-1.2zM95.9 86.3h1.5v1.5h-1.5zM115.3 102.7h1.5v1.5h-1.5zM97.4 84.6h1.0v1.0h-1.0zM110.9 105.9h1.0v1.0h-1.0zM93.7 86.4h1.5v1.5h-1.5zM100.5 108.4h1.0v1.0h-1.0zM94.4 94.1h1.3v1.3h-1.3zM115.2 104.3h1.6v1.6h-1.6zM123.7 89.0h1.5v1.5h-1.5zM93.0 94.6h1.3v1.3h-1.3zM118.9 98.9h1.3v1.3h-1.3zM92.2 89.8h1.1v1.1h-1.1zM124.1 83.7h0.9v0.9h-0.9zM116.4 105.1h1.5v1.5h-1.5zM93.8 94.2h1.1v1.1h-1.1zM117.9 99.7h1.6v1.6h-1.6zM96.3 102.3h1.5v1.5h-1.5zM118.2 99.9h1.1v1.1h-1.1zM113.7 103.8h1.1v1.1h-1.1zM116.0 102.8h1.3v1.3h-1.3zM100.2 107.0h1.4v1.4h-1.4zM97.0 84.8h1.3v1.3h-1.3zM113.3 105.9h1.3v1.3h-1.3zM122.9 84.2h1.5v1.5h-1.5zM123.2 81.0h1.2v1.2h-1.2zM96.9 83.5h1.3v1.3h-1.3zM122.6 90.1h1.6v1.6h-1.6zM125.6 88.1h1.0v1.0h-1.0zM125.3 93.7h1.5v1.5h-1.5zM108.6 111.0h1.4v1.4h-1.4zM95.0 86.2h1.3v1.3h-1.3zM93.2 89.7h1.4v1.4h-1.4zM122.8 86.9h1.6v1.6h-1.6zM100.6 107.4h1.1v1.1h-1.1zM124.6 88.1h1.5v1.5h-1.5zM95.9 84.5h1.5v1.5h-1.5zM108.7 108.7h0.9v0.9h-0.9zM123.6 82.8h1.0v1.0h-1.0zM96.8 103.1h1.2v1.2h-1.2zM124.4 86.3h1.0v1.0h-1.0zM107.5 108.3h1.0v1.0h-1.0zM122.9 83.1h1.0v1.0h-1.0zM112.8 104.2h1.0v1.0h-1.0zM242.8 98.1h1.1v1.1h-1.1zM251.8 110.2h0.9v0.9h-0.9zM243.0 103.8h1.0v1.0h-1.0zM242.8 96.5h1.1v1.1h-1.1zM261.1 100.6h1.4v1.4h-1.4zM242.5 91.2h1.5v1.5h-1.5zM248.5 112.3h1.0v1.0h-1.0zM264.5 83.1h1.2v1.2h-1.2zM254.7 109.1h1.1v1.1h-1.1zM267.4 89.0h0.9v0.9h-0.9zM248.5 113.8h1.5v1.5h-1.5zM243.0 105.8h0.9v0.9h-0.9zM266.2 88.6h1.6v1.6h-1.6zM264.0 83.2h1.3v1.3h-1.3zM263.9 83.5h1.2v1.2h-1.2zM250.6 111.3h1.6v1.6h-1.6zM254.3 108.0h1.3v1.3h-1.3zM242.9 115.0h1.0v1.0h-1.0zM264.7 94.5h1.3v1.3h-1.3zM266.3 87.3h1.3v1.3h-1.3zM258.0 104.8h1.1v1.1h-1.1zM264.0 83.2h1.0v1.0h-1.0zM242.6 111.9h1.4v1.4h-1.4zM264.6 92.5h1.4v1.4h-1.4zM249.0 111.2h1.4v1.4h-1.4zM242.7 85.5h1.0v1.0h-1.0zM252.9 111.7h1.0v1.0h-1.0zM266.0 84.1h1.1v1.1h-1.1zM242.7 100.2h1.1v1.1h-1.1zM265.0 90.8h1.4v1.4h-1.4zM253.1 109.8h0.9v0.9h-0.9zM253.0 109.0h1.5v1.5h-1.5zM255.4 108.2h1.4v1.4h-1.4zM266.7 92.7h1.5v1.5h-1.5zM252.1 110.8h1.3v1.3h-1.3zM243.4 114.2h1.3v1.3h-1.3zM255.0 108.3h1.4v1.4h-1.4zM262.5 103.0h1.2v1.2h-1.2zM265.0 93.7h1.0v1.0h-1.0zM266.1 94.7h1.1v1.1h-1.1zM416.7 115.6h1.1v1.1h-1.1zM430.1 107.6h1.3v1.3h-1.3zM418.0 116.6h1.1v1.1h-1.1zM423.3 113.8h1.2v1.2h-1.2zM417.2 116.5h1.1v1.1h-1.1zM433.0 104.8h1.5v1.5h-1.5zM418.2 117.5h1.4v1.4h-1.4zM423.4 113.4h1.5v1.5h-1.5zM424.8 112.3h1.4v1.4h-1.4zM434.1 101.5h0.9v0.9h-0.9zM431.4 103.0h1.3v1.3h-1.3zM431.5 105.4h1.4v1.4h-1.4zM417.9 115.7h1.0v1.0h-1.0zM431.1 105.2h1.5v1.5h-1.5zM432.2 94.0h1.5v1.5h-1.5zM416.8 115.5h1.2v1.2h-1.2zM419.9 115.5h1.1v1.1h-1.1zM429.6 107.6h1.2v1.2h-1.2zM432.6 101.4h1.6v1.6h-1.6zM424.7 111.5h1.2v1.2h-1.2zM416.8 116.3h1.2v1.2h-1.2zM418.4 116.4h1.1v1.1h-1.1zM425.8 113.4h1.3v1.3h-1.3zM431.9 100.0h1.6v1.6h-1.6zM432.8 97.2h1.4v1.4h-1.4zM422.8 114.4h1.4v1.4h-1.4zM417.8 116.4h1.2v1.2h-1.2zM416.4 116.7h1.4v1.4h-1.4zM432.1 95.7h1.0v1.0h-1.0zM418.1 116.9h1.0v1.0h-1.0zM433.5 104.2h1.1v1.1h-1.1zM424.0 112.4h1.2v1.2h-1.2zM422.2 114.4h1.0v1.0h-1.0zM426.5 111.3h0.9v0.9h-0.9zM76.0 259.2h1.5v1.5h-1.5zM104.8 248.1h1.4v1.4h-1.4zM97.5 257.2h1.5v1.5h-1.5zM97.0 257.5h1.4v1.4h-1.4zM72.8 264.6h1.1v1.1h-1.1zM94.8 257.9h1.2v1.2h-1.2zM101.9 254.3h1.5v1.5h-1.5zM109.5 240.0h1.5v1.5h-1.5zM109.0 242.4h1.3v1.3h-1.3zM92.1 258.4h1.0v1.0h-1.0zM78.1 259.2h1.0v1.0h-1.0zM90.9 257.8h1.4v1.4h-1.4zM105.3 252.1h1.0v1.0h-1.0zM105.4 239.3h1.4v1.4h-1.4zM104.7 239.5h1.1v1.1h-1.1zM108.4 234.1h0.9v0.9h-0.9zM108.5 257.7h1.2v1.2h-1.2zM104.7 250.1h0.9v0.9h-0.9zM104.7 241.1h1.1v1.1h-1.1zM100.7 260.2h1.6v1.6h-1.6zM92.0 262.4h1.3v1.3h-1.3zM92.5 262.4h1.0v1.0h-1.0zM73.5 264.7h1.4v1.4h-1.4zM90.5 260.5h1.1v1.1h-1.1zM68.4 261.5h1.5v1.5h-1.5zM81.9 258.0h1.6v1.6h-1.6zM84.4 263.7h1.2v1.2h-1.2zM107.5 242.6h1.1v1.1h-1.1zM95.6 258.0h1.3v1.3h-1.3zM107.8 257.4h1.5v1.5h-1.5zM75.7 261.5h0.9v0.9h-0.9zM106.9 245.4h1.3v1.3h-1.3zM82.1 260.1h1.6v1.6h-1.6zM100.8 257.6h1.1v1.1h-1.1zM102.2 235.1h1.4v1.4h-1.4zM83.5 262.2h1.4v1.4h-1.4zM100.0 258.0h1.5v1.5h-1.5zM103.2 251.8h1.5v1.5h-1.5zM74.0 260.1h1.0v1.0h-1.0zM91.7 257.9h1.2v1.2h-1.2zM104.9 249.4h1.6v1.6h-1.6zM80.6 257.9h1.1v1.1h-1.1zM78.1 259.0h1.1v1.1h-1.1zM107.4 235.7h1.1v1.1h-1.1zM97.0 261.8h1.5v1.5h-1.5zM81.4 262.3h1.3v1.3h-1.3zM108.5 240.4h1.5v1.5h-1.5zM101.4 257.9h1.4v1.4h-1.4zM82.6 259.0h1.4v1.4h-1.4zM99.5 256.5h1.3v1.3h-1.3zM101.5 256.9h1.0v1.0h-1.0zM89.8 258.7h1.2v1.2h-1.2zM75.3 259.5h1.6v1.6h-1.6zM105.4 254.0h1.3v1.3h-1.3zM108.2 234.6h1.5v1.5h-1.5zM111.2 251.9h0.9v0.9h-0.9zM75.3 261.6h1.6v1.6h-1.6zM77.0 258.2h1.3v1.3h-1.3zM85.4 262.6h1.4v1.4h-1.4zM102.0 233.7h1.3v1.3h-1.3zM80.9 258.2h1.1v1.1h-1.1zM107.0 240.6h1.4v1.4h-1.4zM81.0 263.5h1.5v1.5h-1.5zM90.0 263.0h1.1v1.1h-1.1zM70.2 262.7h1.4v1.4h-1.4zM104.6 245.7h1.5v1.5h-1.5zM99.0 257.0h1.1v1.1h-1.1zM88.4 261.2h1.1v1.1h-1.1zM112.5 249.5h1.3v1.3h-1.3zM104.2 235.9h1.0v1.0h-1.0zM105.1 237.9h1.3v1.3h-1.3zM89.5 257.8h1.6v1.6h-1.6zM92.5 260.0h1.3v1.3h-1.3zM104.7 235.8h1.1v1.1h-1.1zM108.1 241.1h1.0v1.0h-1.0zM100.8 255.4h1.6v1.6h-1.6zM68.7 258.1h1.1v1.1h-1.1zM73.0 259.8h1.1v1.1h-1.1zM104.9 237.6h1.0v1.0h-1.0zM70.4 258.0h1.4v1.4h-1.4zM102.9 234.0h0.9v0.9h-0.9zM105.3 246.0h1.2v1.2h-1.2zM100.2 255.6h1.5v1.5h-1.5zM72.8 263.5h1.4v1.4h-1.4zM91.8 260.2h1.0v1.0h-1.0zM90.3 257.8h1.0v1.0h-1.0zM75.9 259.7h1.2v1.2h-1.2zM105.1 241.2h1.5v1.5h-1.5zM104.1 250.1h1.2v1.2h-1.2zM86.7 262.2h1.5v1.5h-1.5zM108.1 252.4h1.3v1.3h-1.3zM71.6 259.1h1.5v1.5h-1.5zM80.2 259.2h1.4v1.4h-1.4zM108.8 248.3h1.3v1.3h-1.3zM93.0 263.1h1.5v1.5h-1.5zM75.1 259.4h1.2v1.2h-1.2zM89.8 263.7h1.0v1.0h-1.0zM97.4 258.5h1.5v1.5h-1.5zM101.5 255.4h1.2v1.2h-1.2zM106.7 246.5h1.0v1.0h-1.0zM77.3 266.1h1.5v1.5h-1.5zM106.9 234.5h1.1v1.1h-1.1zM71.5 257.8h1.1v1.1h-1.1zM104.5 237.6h0.9v0.9h-0.9zM99.4 262.8h1.5v1.5h-1.5zM87.8 257.9h1.0v1.0h-1.0zM106.3 257.2h1.5v1.5h-1.5zM105.4 247.8h1.1v1.1h-1.1zM76.7 266.1h1.1v1.1h-1.1zM103.5 251.8h1.1v1.1h-1.1zM90.3 258.3h1.1v1.1h-1.1zM72.6 260.2h1.1v1.1h-1.1zM103.0 257.6h1.3v1.3h-1.3zM101.5 234.6h1.4v1.4h-1.4zM86.5 259.9h1.6v1.6h-1.6zM78.9 259.4h1.5v1.5h-1.5zM105.3 261.4h1.0v1.0h-1.0zM104.5 245.8h1.4v1.4h-1.4zM110.3 239.2h1.2v1.2h-1.2zM91.0 258.4h1.6v1.6h-1.6zM104.4 247.8h1.1v1.1h-1.1zM105.6 242.7h1.5v1.5h-1.5zM106.8 237.2h0.9v0.9h-0.9zM88.9 258.4h1.5v1.5h-1.5zM78.6 258.1h1.2v1.2h-1.2zM103.8 239.8h1.2v1.2h-1.2zM104.5 241.5h1.5v1.5h-1.5zM90.3 258.4h1.3v1.3h-1.3zM107.9 243.2h1.6v1.6h-1.6zM105.4 250.0h1.3v1.3h-1.3zM87.7 257.9h1.1v1.1h-1.1zM72.5 257.6h1.5v1.5h-1.5zM85.4 258.3h1.2v1.2h-1.2zM105.4 243.4h1.4v1.4h-1.4zM105.1 241.4h1.5v1.5h-1.5zM109.5 249.4h1.5v1.5h-1.5zM100.0 259.0h1.5v1.5h-1.5zM102.2 254.1h0.9v0.9h-0.9zM76.3 259.9h1.4v1.4h-1.4zM96.1 257.0h1.5v1.5h-1.5zM107.2 235.1h1.4v1.4h-1.4zM104.1 238.8h1.5v1.5h-1.5zM106.1 243.9h0.9v0.9h-0.9zM74.0 259.6h1.0v1.0h-1.0zM73.9 260.9h1.6v1.6h-1.6zM73.2 259.9h1.1v1.1h-1.1zM104.2 259.8h1.2v1.2h-1.2zM97.8 260.2h1.5v1.5h-1.5zM95.1 257.9h0.9v0.9h-0.9zM84.6 258.2h0.9v0.9h-0.9zM87.6 259.6h1.0v1.0h-1.0zM105.2 246.4h0.9v0.9h-0.9zM71.9 261.3h1.5v1.5h-1.5zM68.6 262.3h1.2v1.2h-1.2zM77.1 258.6h1.6v1.6h-1.6zM84.2 258.0h1.1v1.1h-1.1zM101.8 233.4h1.1v1.1h-1.1zM99.6 256.1h1.2v1.2h-1.2zM87.1 257.9h1.2v1.2h-1.2zM79.6 262.1h1.4v1.4h-1.4zM81.1 261.2h1.0v1.0h-1.0zM105.6 249.2h1.3v1.3h-1.3zM104.1 241.0h1.3v1.3h-1.3zM105.3 235.2h1.2v1.2h-1.2zM123.6 236.1h1.1v1.1h-1.1zM135.3 262.2h1.4v1.4h-1.4zM118.5 251.8h1.0v1.0h-1.0zM144.1 243.1h1.2v1.2h-1.2zM120.0 255.8h0.9v0.9h-0.9zM128.8 262.6h1.6v1.6h-1.6zM147.7 245.6h1.0v1.0h-1.0zM139.5 237.7h1.2v1.2h-1.2zM142.9 239.4h1.3v1.3h-1.3zM139.0 237.0h0.9v0.9h-0.9zM128.3 233.2h1.5v1.5h-1.5zM134.1 261.4h1.1v1.1h-1.1zM122.3 259.0h1.0v1.0h-1.0zM145.2 252.0h1.0v1.0h-1.0zM133.1 261.5h1.0v1.0h-1.0zM137.2 233.7h0.9v0.9h-0.9zM119.4 254.1h1.2v1.2h-1.2zM144.1 241.2h1.3v1.3h-1.3zM138.7 237.0h1.4v1.4h-1.4zM142.3 256.4h1.3v1.3h-1.3zM141.9 254.6h1.4v1.4h-1.4zM124.8 234.8h1.3v1.3h-1.3zM120.8 233.5h1.1v1.1h-1.1zM116.9 248.7h0.9v0.9h-0.9zM117.4 248.5h1.1v1.1h-1.1zM119.0 257.1h1.1v1.1h-1.1zM140.2 238.1h1.6v1.6h-1.6zM130.4 261.1h0.9v0.9h-0.9zM145.0 246.2h1.3v1.3h-1.3zM145.1 247.9h1.3v1.3h-1.3zM123.0 258.8h1.4v1.4h-1.4zM125.0 261.2h1.4v1.4h-1.4zM128.6 261.7h1.5v1.5h-1.5zM139.5 237.6h1.1v1.1h-1.1zM123.8 260.6h1.4v1.4h-1.4zM121.5 257.8h1.2v1.2h-1.2zM135.8 233.6h1.0v1.0h-1.0zM116.4 244.4h1.2v1.2h-1.2zM115.1 248.3h1.4v1.4h-1.4zM134.1 260.4h1.6v1.6h-1.6zM140.7 236.9h1.0v1.0h-1.0zM117.5 253.2h1.0v1.0h-1.0zM139.6 257.1h1.5v1.5h-1.5zM143.6 239.9h0.9v0.9h-0.9zM138.8 235.6h1.6v1.6h-1.6zM124.2 258.5h1.2v1.2h-1.2zM144.1 248.9h1.0v1.0h-1.0zM119.4 239.0h1.1v1.1h-1.1zM139.6 262.4h1.2v1.2h-1.2zM134.7 260.9h1.1v1.1h-1.1zM134.3 260.1h1.0v1.0h-1.0zM143.1 259.6h1.6v1.6h-1.6zM116.5 245.1h1.5v1.5h-1.5zM116.7 241.5h1.0v1.0h-1.0zM137.7 236.1h1.2v1.2h-1.2zM125.1 233.3h1.4v1.4h-1.4zM136.9 235.5h0.9v0.9h-0.9zM115.0 252.6h0.9v0.9h-0.9zM144.2 250.3h1.0v1.0h-1.0zM133.0 260.4h1.2v1.2h-1.2zM122.0 237.7h1.3v1.3h-1.3zM118.2 237.9h1.5v1.5h-1.5zM117.3 243.6h1.0v1.0h-1.0zM132.8 233.8h1.5v1.5h-1.5zM123.3 262.7h1.3v1.3h-1.3zM142.4 241.9h1.6v1.6h-1.6zM244.9 259.3h1.5v1.5h-1.5zM286.2 261.8h1.3v1.3h-1.3zM295.5 259.2h1.5v1.5h-1.5zM282.2 258.1h1.1v1.1h-1.1zM247.0 264.5h1.1v1.1h-1.1zM295.9 247.0h1.0v1.0h-1.0zM286.3 258.8h1.0v1.0h-1.0zM262.2 263.6h1.1v1.1h-1.1zM291.1 254.3h1.6v1.6h-1.6zM264.3 259.6h1.0v1.0h-1.0zM282.3 260.3h0.9v0.9h-0.9zM272.2 265.2h1.3v1.3h-1.3zM274.5 259.5h1.0v1.0h-1.0zM274.7 259.9h1.5v1.5h-1.5zM263.6 262.3h1.3v1.3h-1.3zM275.3 258.9h1.4v1.4h-1.4zM284.6 259.7h1.6v1.6h-1.6zM293.1 236.7h1.3v1.3h-1.3zM255.9 263.0h1.0v1.0h-1.0zM248.9 264.5h0.9v0.9h-0.9zM256.9 259.6h1.4v1.4h-1.4zM253.4 261.7h1.1v1.1h-1.1zM296.8 239.2h1.3v1.3h-1.3zM280.3 261.4h1.3v1.3h-1.3zM281.1 263.9h1.2v1.2h-1.2zM293.5 238.0h1.5v1.5h-1.5zM260.9 259.4h1.1v1.1h-1.1zM296.4 251.9h1.3v1.3h-1.3zM292.2 234.3h1.4v1.4h-1.4zM285.0 258.0h1.0v1.0h-1.0zM274.3 258.6h1.3v1.3h-1.3zM273.5 259.6h1.0v1.0h-1.0zM296.6 244.1h1.2v1.2h-1.2zM251.1 261.3h1.2v1.2h-1.2zM259.4 260.4h1.4v1.4h-1.4zM280.4 257.9h1.4v1.4h-1.4zM257.8 261.0h1.4v1.4h-1.4zM251.7 260.8h1.4v1.4h-1.4zM294.9 253.7h0.9v0.9h-0.9zM281.7 258.0h1.2v1.2h-1.2zM282.3 259.6h1.0v1.0h-1.0zM277.8 260.7h0.9v0.9h-0.9zM294.1 239.9h1.5v1.5h-1.5zM297.2 243.3h1.1v1.1h-1.1zM271.8 260.4h1.1v1.1h-1.1zM292.6 253.1h1.4v1.4h-1.4zM282.4 260.3h1.3v1.3h-1.3zM295.7 255.5h1.6v1.6h-1.6zM270.9 264.4h0.9v0.9h-0.9zM260.9 265.1h1.1v1.1h-1.1zM289.9 258.7h1.0v1.0h-1.0zM290.8 234.0h1.2v1.2h-1.2zM260.6 259.8h1.4v1.4h-1.4zM274.2 262.3h1.2v1.2h-1.2zM263.5 260.3h1.4v1.4h-1.4zM289.1 260.4h1.0v1.0h-1.0zM288.9 256.4h1.2v1.2h-1.2zM277.5 262.1h1.3v1.3h-1.3zM290.8 253.5h1.4v1.4h-1.4zM287.1 259.0h1.2v1.2h-1.2zM251.8 262.2h1.4v1.4h-1.4zM298.7 234.0h1.4v1.4h-1.4zM259.3 259.2h1.2v1.2h-1.2zM280.0 262.6h1.2v1.2h-1.2zM291.0 254.9h1.3v1.3h-1.3zM255.5 262.0h1.0v1.0h-1.0zM298.5 236.7h1.2v1.2h-1.2zM268.4 259.5h1.2v1.2h-1.2zM265.5 259.1h1.4v1.4h-1.4zM261.5 261.5h1.2v1.2h-1.2zM295.9 236.3h1.6v1.6h-1.6zM278.6 259.3h1.1v1.1h-1.1zM256.0 259.7h1.3v1.3h-1.3zM260.1 260.3h1.6v1.6h-1.6zM272.6 265.9h1.0v1.0h-1.0zM273.2 261.1h1.5v1.5h-1.5zM247.8 260.0h1.1v1.1h-1.1zM268.0 259.5h1.1v1.1h-1.1zM290.1 257.1h1.5v1.5h-1.5zM292.3 235.4h1.5v1.5h-1.5zM251.6 263.2h1.4v1.4h-1.4zM273.2 259.7h1.0v1.0h-1.0zM292.7 236.9h1.2v1.2h-1.2zM261.2 261.0h1.4v1.4h-1.4zM260.1 259.9h1.4v1.4h-1.4zM256.5 264.1h1.1v1.1h-1.1zM289.9 257.8h1.5v1.5h-1.5zM261.9 260.9h1.4v1.4h-1.4zM282.3 259.7h1.0v1.0h-1.0zM294.5 246.8h1.3v1.3h-1.3zM298.3 237.5h0.9v0.9h-0.9zM260.8 266.7h1.0v1.0h-1.0zM297.0 256.1h1.5v1.5h-1.5zM269.6 260.6h1.1v1.1h-1.1zM266.0 263.5h1.2v1.2h-1.2zM262.0 259.9h1.3v1.3h-1.3zM259.1 260.8h1.4v1.4h-1.4zM281.3 258.4h1.3v1.3h-1.3zM293.9 259.3h1.4v1.4h-1.4zM286.9 265.0h1.1v1.1h-1.1zM267.1 259.7h1.3v1.3h-1.3zM294.5 237.6h1.5v1.5h-1.5zM272.8 260.0h1.4v1.4h-1.4zM282.7 263.0h1.3v1.3h-1.3zM274.7 263.4h1.1v1.1h-1.1zM247.0 262.4h1.6v1.6h-1.6zM288.7 259.4h1.5v1.5h-1.5zM291.1 255.7h1.2v1.2h-1.2zM283.4 260.6h1.2v1.2h-1.2zM281.5 258.6h1.2v1.2h-1.2zM250.0 260.6h1.5v1.5h-1.5zM264.6 260.6h1.2v1.2h-1.2zM278.9 258.5h1.3v1.3h-1.3zM263.4 259.9h1.1v1.1h-1.1zM257.6 263.8h1.3v1.3h-1.3zM267.5 259.3h1.3v1.3h-1.3zM294.0 252.0h1.1v1.1h-1.1zM258.2 262.4h1.3v1.3h-1.3zM293.1 236.3h1.1v1.1h-1.1zM245.9 260.2h1.0v1.0h-1.0zM292.7 248.9h1.5v1.5h-1.5zM278.6 258.8h1.0v1.0h-1.0zM259.4 259.9h0.9v0.9h-0.9zM274.5 260.6h1.1v1.1h-1.1zM250.0 265.7h1.5v1.5h-1.5zM295.2 241.7h1.2v1.2h-1.2zM273.9 261.3h1.1v1.1h-1.1zM262.1 259.1h1.4v1.4h-1.4zM297.5 244.8h1.1v1.1h-1.1zM290.9 253.4h1.3v1.3h-1.3zM288.9 259.2h1.2v1.2h-1.2zM294.7 238.8h1.1v1.1h-1.1zM299.7 240.1h1.4v1.4h-1.4zM274.2 261.4h1.2v1.2h-1.2zM270.0 259.1h1.4v1.4h-1.4zM293.0 241.6h1.6v1.6h-1.6zM292.9 251.5h1.0v1.0h-1.0zM252.9 262.5h1.1v1.1h-1.1zM245.5 259.7h1.1v1.1h-1.1zM281.3 258.1h1.3v1.3h-1.3zM276.5 258.3h1.6v1.6h-1.6zM293.8 254.8h1.2v1.2h-1.2zM260.2 260.3h1.5v1.5h-1.5zM265.5 259.8h1.0v1.0h-1.0zM263.8 259.7h1.5v1.5h-1.5zM263.5 262.3h1.1v1.1h-1.1zM293.1 239.1h1.4v1.4h-1.4zM292.7 240.0h1.1v1.1h-1.1zM244.8 261.2h1.3v1.3h-1.3zM257.5 260.6h1.3v1.3h-1.3zM271.2 259.4h1.2v1.2h-1.2zM260.5 262.1h1.1v1.1h-1.1zM293.9 253.1h1.3v1.3h-1.3zM298.3 247.6h1.5v1.5h-1.5zM260.6 259.7h0.9v0.9h-0.9zM251.5 260.3h1.1v1.1h-1.1zM295.3 253.1h1.0v1.0h-1.0zM256.4 261.8h1.2v1.2h-1.2zM292.4 247.7h1.3v1.3h-1.3zM298.4 243.4h1.0v1.0h-1.0zM279.5 258.2h1.3v1.3h-1.3zM297.9 244.3h1.3v1.3h-1.3zM293.9 237.9h1.3v1.3h-1.3zM269.3 259.1h1.4v1.4h-1.4zM287.2 263.7h0.9v0.9h-0.9zM250.6 261.4h1.2v1.2h-1.2zM278.3 266.0h1.1v1.1h-1.1zM280.7 258.5h0.9v0.9h-0.9zM261.4 260.5h1.2v1.2h-1.2zM289.1 259.6h1.4v1.4h-1.4zM281.0 260.3h1.0v1.0h-1.0zM295.5 238.3h1.1v1.1h-1.1zM247.9 261.3h1.3v1.3h-1.3zM248.2 264.3h1.2v1.2h-1.2zM282.9 259.7h1.3v1.3h-1.3zM268.2 260.0h1.5v1.5h-1.5zM248.9 262.3h1.2v1.2h-1.2zM276.0 259.7h1.4v1.4h-1.4zM276.2 258.3h1.4v1.4h-1.4zM261.4 259.4h1.0v1.0h-1.0zM251.9 266.2h1.5v1.5h-1.5zM295.8 244.6h1.5v1.5h-1.5zM290.7 257.0h0.9v0.9h-0.9zM293.9 241.2h1.0v1.0h-1.0zM283.2 263.2h1.5v1.5h-1.5zM261.4 260.4h1.3v1.3h-1.3zM262.8 262.7h1.4v1.4h-1.4zM432.0 271.6h1.4v1.4h-1.4zM433.8 273.8h1.4v1.4h-1.4zM427.0 269.0h1.0v1.0h-1.0zM442.8 266.3h1.2v1.2h-1.2zM442.4 265.0h1.3v1.3h-1.3zM448.7 248.1h1.5v1.5h-1.5zM440.3 267.2h1.1v1.1h-1.1zM419.7 261.9h1.0v1.0h-1.0zM448.7 257.2h1.0v1.0h-1.0zM424.9 271.4h1.4v1.4h-1.4zM446.7 259.2h1.0v1.0h-1.0zM434.5 270.8h0.9v0.9h-0.9zM420.1 250.8h1.0v1.0h-1.0zM444.6 246.2h1.0v1.0h-1.0zM439.3 267.7h1.3v1.3h-1.3zM420.9 250.2h1.0v1.0h-1.0zM444.9 261.1h1.6v1.6h-1.6zM447.8 254.2h1.2v1.2h-1.2zM418.6 263.2h1.0v1.0h-1.0zM434.4 270.4h1.1v1.1h-1.1zM424.5 245.5h1.1v1.1h-1.1zM425.7 272.7h1.5v1.5h-1.5zM425.6 271.4h1.4v1.4h-1.4zM420.4 267.9h1.5v1.5h-1.5zM446.0 259.2h1.0v1.0h-1.0zM437.4 267.8h1.3v1.3h-1.3zM441.2 272.0h1.0v1.0h-1.0zM436.3 271.4h1.2v1.2h-1.2zM448.5 254.7h1.0v1.0h-1.0zM428.4 269.5h0.9v0.9h-0.9zM439.6 269.0h1.0v1.0h-1.0zM431.6 269.9h1.1v1.1h-1.1zM446.1 262.8h1.5v1.5h-1.5zM433.4 269.0h1.4v1.4h-1.4zM435.5 270.3h1.5v1.5h-1.5zM424.1 268.9h1.4v1.4h-1.4zM445.9 246.8h1.2v1.2h-1.2zM418.8 265.4h0.9v0.9h-0.9zM418.6 256.8h1.1v1.1h-1.1zM447.9 247.7h1.1v1.1h-1.1zM444.1 264.2h1.2v1.2h-1.2zM432.6 269.4h1.3v1.3h-1.3zM440.4 268.9h1.0v1.0h-1.0zM445.5 261.9h1.4v1.4h-1.4zM418.1 260.6h1.1v1.1h-1.1zM450.0 252.8h1.5v1.5h-1.5zM437.4 268.8h1.3v1.3h-1.3zM419.5 251.1h1.2v1.2h-1.2zM439.3 271.8h1.3v1.3h-1.3zM443.5 264.3h1.0v1.0h-1.0zM426.4 270.8h1.1v1.1h-1.1zM427.8 272.2h0.9v0.9h-0.9zM417.7 256.5h1.6v1.6h-1.6zM436.7 273.0h1.6v1.6h-1.6zM436.1 268.4h1.5v1.5h-1.5zM445.6 248.1h1.2v1.2h-1.2zM436.3 271.4h1.6v1.6h-1.6zM430.7 271.3h1.4v1.4h-1.4zM440.6 267.4h1.3v1.3h-1.3zM429.4 269.3h1.2v1.2h-1.2zM418.6 267.7h1.4v1.4h-1.4zM418.5 253.6h1.6v1.6h-1.6zM430.0 273.6h1.2v1.2h-1.2zM418.5 260.0h1.6v1.6h-1.6zM422.6 268.8h1.0v1.0h-1.0zM420.3 251.6h1.3v1.3h-1.3zM445.1 260.7h1.6v1.6h-1.6zM419.1 261.8h1.2v1.2h-1.2zM426.7 270.7h1.3v1.3h-1.3zM446.0 245.0h1.4v1.4h-1.4zM417.6 260.3h1.1v1.1h-1.1zM425.3 271.8h1.5v1.5h-1.5zM420.0 265.0h1.0v1.0h-1.0zM432.0 269.3h1.5v1.5h-1.5zM101.5 399.2h1.9v1.9h-1.9zM92.2 421.1h1.6v1.6h-1.6zM100.8 417.9h2.1v2.1h-2.1zM99.0 400.6h1.8v1.8h-1.8zM87.3 422.9h1.7v1.7h-1.7zM71.4 396.1h2.4v2.4h-2.4zM76.9 396.3h2.0v2.0h-2.0zM102.8 409.3h2.0v2.0h-2.0zM87.3 422.7h1.8v1.8h-1.8zM105.2 415.0h1.9v1.9h-1.9zM99.2 404.3h2.4v2.4h-2.4zM87.7 421.3h1.6v1.6h-1.6zM89.1 424.0h1.9v1.9h-1.9zM68.6 428.5h2.4v2.4h-2.4zM80.8 424.3h1.9v1.9h-1.9zM82.5 424.8h1.7v1.7h-1.7zM73.0 397.1h2.2v2.2h-2.2zM98.5 418.6h1.7v1.7h-1.7zM98.1 397.2h2.4v2.4h-2.4zM83.5 422.8h1.6v1.6h-1.6zM99.9 416.4h1.8v1.8h-1.8zM101.5 415.1h2.4v2.4h-2.4zM81.1 396.2h2.0v2.0h-2.0zM99.1 411.3h1.9v1.9h-1.9zM99.9 408.4h1.6v1.6h-1.6zM93.8 420.5h2.1v2.1h-2.1zM98.3 396.8h1.7v1.7h-1.7zM67.6 397.9h2.5v2.5h-2.5zM97.0 416.3h1.6v1.6h-1.6zM83.4 423.3h1.7v1.7h-1.7zM105.8 405.3h2.2v2.2h-2.2zM98.2 397.9h2.4v2.4h-2.4zM96.2 417.7h1.9v1.9h-1.9zM98.7 413.3h1.8v1.8h-1.8zM81.5 424.3h2.4v2.4h-2.4zM77.6 396.8h2.1v2.1h-2.1zM99.8 413.2h2.4v2.4h-2.4zM70.9 426.2h2.3v2.3h-2.3zM103.1 417.0h2.5v2.5h-2.5zM102.2 410.7h1.6v1.6h-1.6zM73.6 424.6h2.5v2.5h-2.5zM98.4 396.6h2.3v2.3h-2.3zM102.5 396.5h2.4v2.4h-2.4zM80.4 424.8h1.5v1.5h-1.5zM80.5 424.3h1.6v1.6h-1.6zM100.0 403.2h1.8v1.8h-1.8zM89.2 424.5h1.8v1.8h-1.8zM87.1 421.9h1.8v1.8h-1.8zM79.7 396.3h1.9v1.9h-1.9zM86.6 422.5h2.5v2.5h-2.5zM100.8 405.5h2.2v2.2h-2.2zM102.8 404.0h2.4v2.4h-2.4zM95.4 419.7h1.7v1.7h-1.7zM78.3 425.9h2.4v2.4h-2.4zM104.9 398.8h1.6v1.6h-1.6zM99.4 397.6h1.8v1.8h-1.8zM85.1 422.0h2.3v2.3h-2.3zM103.5 408.9h2.0v2.0h-2.0zM90.4 423.1h1.9v1.9h-1.9zM82.2 424.3h2.0v2.0h-2.0zM92.3 419.1h2.4v2.4h-2.4zM70.1 396.7h2.1v2.1h-2.1zM82.2 428.2h1.7v1.7h-1.7zM85.6 424.3h1.5v1.5h-1.5zM79.1 427.3h1.7v1.7h-1.7zM98.9 415.9h2.5v2.5h-2.5zM80.4 425.0h2.2v2.2h-2.2zM67.8 396.7h2.5v2.5h-2.5zM89.0 420.2h2.1v2.1h-2.1zM77.6 424.1h2.2v2.2h-2.2zM101.7 398.6h1.6v1.6h-1.6zM96.6 416.4h2.5v2.5h-2.5zM86.4 422.5h2.0v2.0h-2.0zM71.9 396.3h1.9v1.9h-1.9zM125.1 399.0h1.6v1.6h-1.6zM122.2 420.0h1.1v1.1h-1.1zM123.7 420.7h1.0v1.0h-1.0zM124.7 406.8h1.2v1.2h-1.2zM132.5 430.6h1.8v1.8h-1.8zM123.6 428.6h1.6v1.6h-1.6zM127.9 433.5h1.2v1.2h-1.2zM123.8 426.9h1.1v1.1h-1.1zM137.2 419.9h1.3v1.3h-1.3zM126.1 405.8h1.4v1.4h-1.4zM125.0 407.7h1.2v1.2h-1.2zM125.5 403.4h1.4v1.4h-1.4zM139.1 412.6h1.5v1.5h-1.5zM126.3 433.3h1.1v1.1h-1.1zM124.1 411.5h1.0v1.0h-1.0zM133.2 427.3h1.7v1.7h-1.7zM123.4 415.2h1.1v1.1h-1.1zM141.3 404.2h1.0v1.0h-1.0zM140.3 411.4h1.6v1.6h-1.6zM126.0 403.0h1.4v1.4h-1.4zM140.9 409.8h1.3v1.3h-1.3zM141.5 403.0h1.3v1.3h-1.3zM124.3 431.5h1.3v1.3h-1.3zM141.9 399.7h1.1v1.1h-1.1zM129.0 432.4h1.6v1.6h-1.6zM137.6 416.5h1.5v1.5h-1.5zM141.2 404.5h1.0v1.0h-1.0zM133.0 429.7h1.6v1.6h-1.6zM123.0 428.4h1.6v1.6h-1.6zM127.0 432.3h1.4v1.4h-1.4zM124.3 427.5h1.2v1.2h-1.2zM123.3 416.4h1.7v1.7h-1.7zM138.3 417.5h1.4v1.4h-1.4zM141.6 405.1h1.6v1.6h-1.6zM123.9 413.9h1.0v1.0h-1.0zM132.4 433.1h1.2v1.2h-1.2zM124.0 426.7h1.7v1.7h-1.7zM134.5 421.4h1.8v1.8h-1.8zM136.8 419.8h1.3v1.3h-1.3zM139.9 413.4h1.6v1.6h-1.6zM126.0 396.3h1.7v1.7h-1.7zM141.1 399.8h1.5v1.5h-1.5zM123.7 428.4h1.3v1.3h-1.3zM123.3 415.2h1.5v1.5h-1.5zM140.4 409.9h1.4v1.4h-1.4zM121.8 418.1h1.7v1.7h-1.7zM296.9 405.6h2.1v2.1h-2.1zM300.0 406.8h1.4v1.4h-1.4zM276.9 432.5h1.8v1.8h-1.8zM253.0 427.1h2.0v2.0h-2.0zM248.8 432.2h2.1v2.1h-2.1zM296.0 420.9h1.8v1.8h-1.8zM295.3 428.8h1.9v1.9h-1.9zM247.1 427.2h2.2v2.2h-2.2zM296.2 424.9h1.7v1.7h-1.7zM260.5 426.3h1.8v1.8h-1.8zM290.6 429.3h1.6v1.6h-1.6zM276.6 427.5h1.4v1.4h-1.4zM260.6 428.0h2.0v2.0h-2.0zM294.9 408.6h1.3v1.3h-1.3zM250.5 428.1h2.0v2.0h-2.0zM293.2 427.1h2.0v2.0h-2.0zM295.7 403.3h1.5v1.5h-1.5zM270.3 429.7h2.0v2.0h-2.0zM276.7 427.7h1.9v1.9h-1.9zM292.7 425.1h1.9v1.9h-1.9zM293.9 397.7h2.1v2.1h-2.1zM294.4 415.2h1.9v1.9h-1.9zM276.9 427.4h2.0v2.0h-2.0zM295.0 417.5h2.2v2.2h-2.2zM293.4 411.5h1.4v1.4h-1.4zM280.2 429.5h2.1v2.1h-2.1zM293.9 418.1h1.4v1.4h-1.4zM260.2 427.2h1.9v1.9h-1.9zM272.9 428.0h1.3v1.3h-1.3zM272.1 427.3h2.1v2.1h-2.1zM252.5 429.4h2.0v2.0h-2.0zM244.0 403.8h1.8v1.8h-1.8zM245.0 433.2h2.0v2.0h-2.0zM268.3 432.3h2.1v2.1h-2.1zM251.4 430.4h2.1v2.1h-2.1zM262.9 431.4h1.4v1.4h-1.4zM293.6 424.5h1.9v1.9h-1.9zM243.8 424.7h2.2v2.2h-2.2zM266.3 427.6h1.4v1.4h-1.4zM296.8 413.3h2.0v2.0h-2.0zM265.8 426.7h2.0v2.0h-2.0zM276.9 427.8h2.0v2.0h-2.0zM293.4 401.7h1.6v1.6h-1.6zM294.3 399.1h1.7v1.7h-1.7zM298.5 409.6h1.4v1.4h-1.4zM245.2 427.6h1.9v1.9h-1.9zM277.1 426.6h1.3v1.3h-1.3zM272.7 431.4h1.7v1.7h-1.7zM249.6 428.6h1.9v1.9h-1.9zM255.4 430.7h1.9v1.9h-1.9zM294.0 419.6h1.4v1.4h-1.4zM254.2 427.8h1.5v1.5h-1.5zM295.7 419.3h1.4v1.4h-1.4zM296.3 422.8h2.1v2.1h-2.1zM291.8 426.6h2.0v2.0h-2.0zM280.9 426.4h2.2v2.2h-2.2zM295.8 397.2h1.6v1.6h-1.6zM261.2 426.7h1.9v1.9h-1.9zM255.6 429.7h2.1v2.1h-2.1zM285.7 426.4h1.7v1.7h-1.7zM267.5 426.7h1.8v1.8h-1.8zM268.6 429.3h2.1v2.1h-2.1zM270.7 428.3h1.5v1.5h-1.5zM295.0 414.4h1.8v1.8h-1.8zM273.4 427.1h2.1v2.1h-2.1zM283.9 427.4h1.9v1.9h-1.9zM255.4 431.0h1.6v1.6h-1.6zM273.3 429.9h2.0v2.0h-2.0zM293.9 406.8h2.0v2.0h-2.0zM250.6 428.4h1.3v1.3h-1.3zM294.7 418.3h1.7v1.7h-1.7zM245.0 431.5h2.3v2.3h-2.3zM295.9 400.2h1.4v1.4h-1.4zM294.2 421.1h2.3v2.3h-2.3zM284.6 427.5h2.1v2.1h-2.1zM251.1 432.6h2.3v2.3h-2.3zM292.9 399.7h2.2v2.2h-2.2zM252.5 427.4h1.9v1.9h-1.9zM297.2 418.7h1.6v1.6h-1.6zM293.1 422.3h1.9v1.9h-1.9zM245.2 428.5h2.1v2.1h-2.1zM293.5 397.5h1.5v1.5h-1.5zM253.6 427.4h1.8v1.8h-1.8zM298.4 404.1h1.8v1.8h-1.8zM294.8 407.3h1.6v1.6h-1.6zM251.6 428.9h1.8v1.8h-1.8zM290.6 429.7h1.4v1.4h-1.4zM252.2 431.3h1.3v1.3h-1.3zM251.1 426.9h2.0v2.0h-2.0zM293.0 401.6h2.0v2.0h-2.0zM263.2 427.2h1.5v1.5h-1.5zM457.5 412.0h2.2v2.2h-2.2zM425.4 441.5h1.8v1.8h-1.8zM456.1 432.3h2.1v2.1h-2.1zM426.5 441.3h2.0v2.0h-2.0zM457.7 425.7h1.3v1.3h-1.3zM417.2 442.0h1.3v1.3h-1.3zM426.4 415.7h1.3v1.3h-1.3zM423.4 417.0h2.0v2.0h-2.0zM458.3 413.9h2.1v2.1h-2.1zM450.9 430.6h1.5v1.5h-1.5zM457.6 425.8h1.3v1.3h-1.3zM426.0 418.6h1.2v1.2h-1.2zM456.2 428.3h1.4v1.4h-1.4zM431.6 410.3h1.4v1.4h-1.4zM455.0 436.0h2.1v2.1h-2.1zM418.1 417.9h2.1v2.1h-2.1zM431.2 411.5h2.0v2.0h-2.0zM458.6 416.8h1.9v1.9h-1.9zM428.5 439.0h2.2v2.2h-2.2zM451.8 428.1h1.8v1.8h-1.8zM459.0 411.0h1.8v1.8h-1.8zM458.4 413.3h1.3v1.3h-1.3zM417.2 430.1h1.2v1.2h-1.2zM456.4 434.3h1.8v1.8h-1.8zM457.8 422.9h2.0v2.0h-2.0zM431.7 440.7h1.6v1.6h-1.6zM431.3 439.7h1.7v1.7h-1.7zM432.2 411.7h1.7v1.7h-1.7zM423.6 418.2h1.8v1.8h-1.8zM458.1 423.6h1.8v1.8h-1.8zM427.0 418.7h1.5v1.5h-1.5zM450.6 437.0h2.1v2.1h-2.1zM443.1 439.3h2.2v2.2h-2.2zM449.0 437.7h2.1v2.1h-2.1zM427.2 414.1h2.0v2.0h-2.0zM454.2 432.9h2.0v2.0h-2.0zM452.4 437.0h1.6v1.6h-1.6zM458.6 411.4h1.8v1.8h-1.8zM457.7 421.6h2.2v2.2h-2.2zM451.6 438.1h2.1v2.1h-2.1zM417.3 434.2h1.3v1.3h-1.3zM451.7 430.7h2.1v2.1h-2.1zM458.7 415.2h1.3v1.3h-1.3zM439.9 438.9h1.5v1.5h-1.5zM418.9 418.3h1.4v1.4h-1.4zM451.1 437.9h1.9v1.9h-1.9zM424.3 440.8h1.4v1.4h-1.4zM453.3 432.3h2.0v2.0h-2.0zM416.7 430.7h2.2v2.2h-2.2zM456.1 435.1h2.0v2.0h-2.0zM422.7 417.3h1.9v1.9h-1.9zM458.9 422.3h1.8v1.8h-1.8zM416.8 420.0h1.7v1.7h-1.7zM455.6 432.4h1.4v1.4h-1.4zM455.9 435.4h2.0v2.0h-2.0zM417.2 438.9h1.2v1.2h-1.2zM418.7 418.3h2.2v2.2h-2.2zM417.1 427.0h1.4v1.4h-1.4zM420.1 442.1h1.8v1.8h-1.8zM457.8 426.2h1.6v1.6h-1.6zM441.8 438.1h2.2v2.2h-2.2zM428.5 439.4h2.0v2.0h-2.0zM453.6 429.1h1.4v1.4h-1.4zM89.8 591.9h1.1v1.1h-1.1zM93.7 582.2h1.5v1.5h-1.5zM70.7 600.6h1.3v1.3h-1.3zM92.8 573.7h1.0v1.0h-1.0zM77.4 597.1h1.5v1.5h-1.5zM94.2 572.8h1.3v1.3h-1.3zM92.4 573.8h1.1v1.1h-1.1zM84.7 597.8h1.4v1.4h-1.4zM89.4 592.8h1.3v1.3h-1.3zM85.6 597.0h1.0v1.0h-1.0zM77.1 598.4h1.0v1.0h-1.0zM77.5 597.7h1.0v1.0h-1.0zM88.8 595.4h1.3v1.3h-1.3zM92.7 576.2h1.0v1.0h-1.0zM92.1 585.3h1.3v1.3h-1.3zM84.1 597.0h1.2v1.2h-1.2zM70.3 598.8h1.5v1.5h-1.5zM93.9 574.2h1.3v1.3h-1.3zM95.0 575.7h1.1v1.1h-1.1zM91.9 583.8h1.5v1.5h-1.5zM91.3 596.8h1.0v1.0h-1.0zM92.6 579.6h1.2v1.2h-1.2zM93.1 579.0h1.6v1.6h-1.6zM96.5 584.2h1.5v1.5h-1.5zM94.5 572.6h1.5v1.5h-1.5zM88.1 595.2h1.5v1.5h-1.5zM92.7 575.6h1.0v1.0h-1.0zM93.4 579.3h1.2v1.2h-1.2zM69.8 599.1h1.4v1.4h-1.4zM70.4 598.0h1.3v1.3h-1.3zM69.0 600.1h1.2v1.2h-1.2zM79.7 596.4h1.2v1.2h-1.2zM82.3 597.2h1.2v1.2h-1.2zM93.5 579.5h1.0v1.0h-1.0zM92.3 573.6h1.3v1.3h-1.3zM72.2 597.5h1.5v1.5h-1.5zM73.4 599.7h1.3v1.3h-1.3zM88.7 594.3h1.5v1.5h-1.5zM260.6 599.1h1.6v1.6h-1.6zM264.7 573.5h1.1v1.1h-1.1zM259.2 597.6h1.6v1.6h-1.6zM252.5 600.7h1.2v1.2h-1.2zM264.8 587.6h1.0v1.0h-1.0zM265.6 576.4h1.1v1.1h-1.1zM264.0 595.3h1.1v1.1h-1.1zM267.2 581.2h1.5v1.5h-1.5zM265.4 578.8h1.5v1.5h-1.5zM268.2 575.1h1.2v1.2h-1.2zM262.5 597.2h1.1v1.1h-1.1zM264.8 590.8h1.0v1.0h-1.0zM266.7 582.7h1.1v1.1h-1.1zM257.5 601.4h1.4v1.4h-1.4zM265.0 591.3h1.2v1.2h-1.2zM268.0 581.7h1.0v1.0h-1.0zM263.1 594.6h1.5v1.5h-1.5zM268.0 587.1h1.3v1.3h-1.3zM268.2 580.4h1.0v1.0h-1.0zM265.8 586.5h1.1v1.1h-1.1zM267.3 591.2h1.5v1.5h-1.5zM250.3 603.1h1.5v1.5h-1.5zM266.2 578.4h1.5v1.5h-1.5zM261.1 598.2h1.2v1.2h-1.2zM266.8 585.2h1.1v1.1h-1.1zM267.6 582.5h1.3v1.3h-1.3zM261.6 596.2h1.2v1.2h-1.2zM244.4 602.5h1.4v1.4h-1.4zM260.6 600.6h1.3v1.3h-1.3zM257.3 602.5h1.0v1.0h-1.0zM265.7 583.3h1.6v1.6h-1.6zM265.4 591.5h1.0v1.0h-1.0zM249.9 602.8h0.9v0.9h-0.9zM261.5 598.5h1.1v1.1h-1.1zM262.0 597.8h0.9v0.9h-0.9zM262.5 599.1h1.3v1.3h-1.3zM262.7 595.4h1.6v1.6h-1.6zM266.7 577.3h1.3v1.3h-1.3zM256.4 601.0h1.4v1.4h-1.4zM246.7 601.5h1.3v1.3h-1.3zM264.8 589.6h1.4v1.4h-1.4zM248.1 604.8h1.4v1.4h-1.4zM265.6 578.5h0.9v0.9h-0.9zM265.7 580.9h1.3v1.3h-1.3zM266.2 582.5h1.6v1.6h-1.6zM265.6 578.4h0.9v0.9h-0.9zM267.6 577.2h1.3v1.3h-1.3zM262.7 597.7h1.1v1.1h-1.1zM429.2 595.2h1.3v1.3h-1.3zM432.8 595.9h1.2v1.2h-1.2zM431.9 586.5h1.5v1.5h-1.5zM430.5 585.0h1.3v1.3h-1.3zM427.6 600.1h1.6v1.6h-1.6zM433.0 591.7h1.2v1.2h-1.2zM430.9 591.1h1.1v1.1h-1.1zM426.2 599.9h1.2v1.2h-1.2zM416.8 606.6h1.1v1.1h-1.1zM414.4 604.9h0.9v0.9h-0.9zM430.4 584.6h1.2v1.2h-1.2zM431.1 590.2h1.5v1.5h-1.5zM418.8 604.6h0.9v0.9h-0.9zM429.9 593.3h1.3v1.3h-1.3zM416.2 604.9h1.4v1.4h-1.4zM412.0 605.6h1.0v1.0h-1.0zM420.5 605.5h1.1v1.1h-1.1zM429.6 594.6h1.2v1.2h-1.2zM428.5 598.3h1.3v1.3h-1.3zM431.1 599.7h1.0v1.0h-1.0zM428.7 598.1h1.2v1.2h-1.2zM427.7 597.9h1.6v1.6h-1.6zM431.0 593.6h1.3v1.3h-1.3zM431.0 590.4h1.3v1.3h-1.3zM430.8 587.4h1.0v1.0h-1.0zM429.8 593.2h1.6v1.6h-1.6zM428.6 597.1h1.3v1.3h-1.3zM431.4 583.4h1.3v1.3h-1.3zM414.9 607.5h1.1v1.1h-1.1zM428.1 598.3h1.4v1.4h-1.4zM431.0 586.8h1.2v1.2h-1.2zM431.1 587.8h0.9v0.9h-0.9zM422.3 604.9h1.1v1.1h-1.1zM420.7 604.8h1.1v1.1h-1.1zM430.7 592.0h1.0v1.0h-1.0zM94.7 580.1h0.8v0.8h-0.8zM94.8 574.6h1.1v1.1h-1.1zM101.1 575.3h0.9v0.9h-0.9zM100.0 575.0h1.2v1.2h-1.2zM97.9 580.3h1.1v1.1h-1.1zM94.3 572.7h1.3v1.3h-1.3zM97.4 576.1h1.3v1.3h-1.3zM97.2 590.7h1.0v1.0h-1.0zM95.7 583.7h0.9v0.9h-0.9zM103.0 588.4h1.1v1.1h-1.1zM95.5 588.4h1.0v1.0h-1.0zM93.7 586.3h1.3v1.3h-1.3zM99.9 576.5h1.2v1.2h-1.2zM100.7 576.1h1.2v1.2h-1.2zM95.6 573.2h1.1v1.1h-1.1zM96.9 580.0h1.0v1.0h-1.0zM101.8 590.7h1.1v1.1h-1.1zM103.3 587.4h1.3v1.3h-1.3zM95.3 584.4h1.0v1.0h-1.0zM100.2 574.2h1.1v1.1h-1.1zM102.8 584.0h0.9v0.9h-0.9zM94.4 580.0h1.1v1.1h-1.1zM99.9 591.2h1.3v1.3h-1.3zM98.1 587.8h0.9v0.9h-0.9zM101.4 583.2h1.0v1.0h-1.0zM94.6 591.2h0.9v0.9h-0.9zM95.5 578.9h0.9v0.9h-0.9zM102.0 581.5h1.2v1.2h-1.2zM101.4 577.8h1.0v1.0h-1.0zM99.6 584.6h1.0v1.0h-1.0zM94.7 575.2h0.8v0.8h-0.8zM100.3 590.9h1.2v1.2h-1.2zM96.0 587.0h1.2v1.2h-1.2zM96.8 572.6h1.3v1.3h-1.3zM96.3 575.9h1.0v1.0h-1.0zM94.8 589.0h0.8v0.8h-0.8zM99.7 576.5h0.8v0.8h-0.8zM101.8 578.2h0.9v0.9h-0.9zM98.1 585.8h0.9v0.9h-0.9zM102.1 580.1h1.1v1.1h-1.1zM100.6 581.2h1.1v1.1h-1.1zM98.1 575.0h1.2v1.2h-1.2zM101.4 586.7h0.9v0.9h-0.9zM100.3 583.4h1.3v1.3h-1.3zM102.1 574.8h0.9v0.9h-0.9zM102.8 582.2h0.8v0.8h-0.8zM106.8 592.4h1.3v1.3h-1.3zM107.2 595.7h0.9v0.9h-0.9zM113.6 596.5h1.1v1.1h-1.1zM99.5 593.4h1.0v1.0h-1.0zM99.7 592.8h0.9v0.9h-0.9zM111.9 598.2h1.2v1.2h-1.2zM100.8 577.6h0.9v0.9h-0.9zM101.0 578.3h1.3v1.3h-1.3zM100.3 575.6h0.8v0.8h-0.8zM127.7 592.5h1.1v1.1h-1.1zM138.1 584.0h0.8v0.8h-0.8zM117.9 583.1h1.1v1.1h-1.1zM124.1 592.7h0.9v0.9h-0.9zM148.1 589.1h1.0v1.0h-1.0zM285.5 104.4h1.1v1.1h-1.1zM274.2 110.4h1.2v1.2h-1.2zM285.4 104.6h1.1v1.1h-1.1zM273.9 93.6h1.3v1.3h-1.3zM281.5 104.4h1.2v1.2h-1.2zM290.4 83.8h1.0v1.0h-1.0zM276.4 84.1h1.2v1.2h-1.2zM268.7 90.0h1.1v1.1h-1.1zM271.3 88.1h1.0v1.0h-1.0zM287.9 85.9h0.8v0.8h-0.8zM264.6 92.8h1.0v1.0h-1.0zM267.9 106.6h0.8v0.8h-0.8zM264.8 97.8h1.1v1.1h-1.1zM265.6 100.8h0.7v0.7h-0.7zM265.5 105.7h0.7v0.7h-0.7zM265.5 103.5h1.0v1.0h-1.0zM264.5 110.8h1.1v1.1h-1.1zM266.0 88.8h1.0v1.0h-1.0zM265.9 86.6h1.2v1.2h-1.2zM268.4 104.2h0.7v0.7h-0.7zM267.7 101.7h1.1v1.1h-1.1zM266.1 102.2h1.2v1.2h-1.2zM267.2 112.7h1.1v1.1h-1.1zM267.7 85.1h1.0v1.0h-1.0zM265.9 86.3h0.8v0.8h-0.8zM265.0 93.0h0.8v0.8h-0.8zM266.1 96.1h1.0v1.0h-1.0zM265.8 115.4h0.8v0.8h-0.8zM267.2 89.3h1.0v1.0h-1.0zM265.2 96.4h1.1v1.1h-1.1zM267.3 102.3h1.2v1.2h-1.2zM268.3 109.9h1.0v1.0h-1.0zM264.7 94.3h0.8v0.8h-0.8zM265.5 115.6h0.8v0.8h-0.8zM265.8 105.7h1.1v1.1h-1.1zM444.4 110.8h1.0v1.0h-1.0zM442.5 109.1h1.3v1.3h-1.3zM441.2 98.1h0.8v0.8h-0.8zM439.3 103.5h1.2v1.2h-1.2zM90.2 87.1h0.9v0.9h-0.9zM91.4 95.1h1.0v1.0h-1.0zM90.0 86.7h0.9v0.9h-0.9zM89.5 99.3h1.2v1.2h-1.2zM87.6 91.2h0.8v0.8h-0.8zM92.8 99.1h1.0v1.0h-1.0zM89.6 96.4h1.1v1.1h-1.1zM89.3 89.3h1.0v1.0h-1.0zM92.6 84.4h0.8v0.8h-0.8zM91.9 94.7h0.9v0.9h-0.9zM91.9 97.9h1.1v1.1h-1.1zM94.1 90.3h1.3v1.3h-1.3zM100.5 417.9h2.1v2.1h-2.1zM113.1 414.4h2.3v2.3h-2.3zM105.2 414.9h2.1v2.1h-2.1zM110.8 417.6h1.6v1.6h-1.6zM105.6 422.2h1.8v1.8h-1.8zM115.4 430.1h1.9v1.9h-1.9zM100.4 399.4h2.3v2.3h-2.3zM105.3 421.1h1.8v1.8h-1.8zM108.4 418.6h2.2v2.2h-2.2zM99.6 414.9h2.0v2.0h-2.0zM106.2 397.5h1.7v1.7h-1.7zM114.4 399.3h2.1v2.1h-2.1zM99.4 409.0h2.0v2.0h-2.0zM113.8 421.9h1.6v1.6h-1.6zM102.6 421.3h2.3v2.3h-2.3zM107.6 428.1h2.1v2.1h-2.1zM103.8 421.3h2.1v2.1h-2.1zM102.7 418.0h1.9v1.9h-1.9zM106.9 416.2h1.5v1.5h-1.5zM110.3 400.2h1.5v1.5h-1.5zM104.8 398.0h2.1v2.1h-2.1zM99.9 402.1h2.4v2.4h-2.4zM103.2 415.1h2.0v2.0h-2.0zM108.8 415.5h1.9v1.9h-1.9zM102.7 420.7h1.8v1.8h-1.8zM107.9 428.2h1.9v1.9h-1.9zM104.0 416.4h1.5v1.5h-1.5zM112.0 410.9h1.5v1.5h-1.5zM102.4 430.0h1.8v1.8h-1.8zM113.2 421.2h1.5v1.5h-1.5zM110.8 408.6h2.3v2.3h-2.3zM114.7 398.4h2.0v2.0h-2.0zM110.3 403.6h2.3v2.3h-2.3zM103.9 397.0h2.4v2.4h-2.4zM107.9 398.1h1.7v1.7h-1.7zM106.5 408.3h2.0v2.0h-2.0zM109.4 429.7h2.2v2.2h-2.2zM113.5 428.6h2.3v2.3h-2.3zM107.1 399.2h2.3v2.3h-2.3zM109.6 430.0h1.9v1.9h-1.9zM108.7 399.9h2.1v2.1h-2.1zM99.6 401.8h2.1v2.1h-2.1zM111.7 429.2h1.5v1.5h-1.5zM100.5 422.1h2.0v2.0h-2.0zM111.2 420.2h1.7v1.7h-1.7zM101.6 404.8h2.4v2.4h-2.4zM100.4 429.2h1.8v1.8h-1.8zM100.8 413.2h2.1v2.1h-2.1zM115.6 409.4h1.6v1.6h-1.6zM111.8 408.5h1.5v1.5h-1.5zM112.3 399.5h2.1v2.1h-2.1zM115.2 404.7h2.0v2.0h-2.0zM110.6 399.1h1.7v1.7h-1.7zM112.5 429.1h2.2v2.2h-2.2zM108.7 412.5h2.2v2.2h-2.2zM109.8 430.2h2.0v2.0h-2.0zM107.6 412.5h1.6v1.6h-1.6zM101.9 423.8h1.7v1.7h-1.7zM110.7 405.7h2.0v2.0h-2.0zM101.7 402.2h1.9v1.9h-1.9zM110.2 426.0h1.6v1.6h-1.6zM112.3 399.7h2.0v2.0h-2.0zM101.4 414.9h2.0v2.0h-2.0zM103.5 428.4h1.7v1.7h-1.7zM103.1 413.7h2.0v2.0h-2.0zM112.6 410.6h1.8v1.8h-1.8zM109.0 419.0h2.3v2.3h-2.3zM108.9 399.1h2.0v2.0h-2.0zM109.3 404.5h2.2v2.2h-2.2zM115.2 419.2h1.9v1.9h-1.9zM95.3 424.5h1.6v1.6h-1.6zM98.1 429.6h1.4v1.4h-1.4zM78.5 431.4h1.3v1.3h-1.3zM68.1 431.4h1.6v1.6h-1.6zM87.9 429.3h1.3v1.3h-1.3zM98.0 425.6h1.6v1.6h-1.6zM70.8 431.9h1.7v1.7h-1.7zM83.8 431.0h1.3v1.3h-1.3zM70.2 431.1h1.9v1.9h-1.9zM77.2 430.1h1.9v1.9h-1.9zM72.2 425.6h1.4v1.4h-1.4zM93.7 428.0h1.4v1.4h-1.4zM95.6 425.7h2.0v2.0h-2.0zM69.3 428.9h1.5v1.5h-1.5zM85.9 424.9h1.7v1.7h-1.7zM70.7 430.9h1.7v1.7h-1.7zM70.4 432.0h1.6v1.6h-1.6zM77.6 431.5h2.0v2.0h-2.0zM84.4 428.9h1.4v1.4h-1.4zM69.3 424.4h1.8v1.8h-1.8zM79.7 430.7h1.3v1.3h-1.3zM70.6 430.0h1.8v1.8h-1.8zM67.9 428.2h1.4v1.4h-1.4zM96.0 427.6h1.9v1.9h-1.9zM73.3 425.4h1.8v1.8h-1.8zM88.5 425.4h2.0v2.0h-2.0zM92.0 424.7h1.5v1.5h-1.5zM93.0 426.2h1.3v1.3h-1.3zM81.0 428.0h1.5v1.5h-1.5zM75.2 430.7h1.4v1.4h-1.4zM97.4 424.4h1.8v1.8h-1.8zM94.6 426.8h1.3v1.3h-1.3zM76.8 427.2h1.8v1.8h-1.8zM80.8 428.3h1.7v1.7h-1.7zM94.7 429.3h1.2v1.2h-1.2zM82.5 429.4h1.4v1.4h-1.4zM67.7 431.4h1.9v1.9h-1.9zM68.5 427.1h1.7v1.7h-1.7zM70.7 428.8h1.8v1.8h-1.8zM85.6 424.4h1.6v1.6h-1.6zM255.2 428.7h1.3v1.3h-1.3zM271.3 432.7h1.7v1.7h-1.7zM262.3 433.1h1.4v1.4h-1.4zM281.0 432.6h1.5v1.5h-1.5zM264.8 428.4h1.7v1.7h-1.7zM278.4 428.8h1.1v1.1h-1.1zM273.4 427.7h1.5v1.5h-1.5zM245.7 434.1h1.6v1.6h-1.6zM254.3 433.0h1.7v1.7h-1.7zM250.1 432.6h1.6v1.6h-1.6zM287.4 433.0h1.1v1.1h-1.1zM246.6 429.7h1.8v1.8h-1.8zM272.8 428.7h1.5v1.5h-1.5zM283.9 429.6h1.7v1.7h-1.7zM275.8 430.7h1.1v1.1h-1.1zM267.4 430.4h1.5v1.5h-1.5zM250.8 431.2h1.0v1.0h-1.0zM264.2 433.2h1.6v1.6h-1.6zM285.7 432.5h1.4v1.4h-1.4zM250.9 427.9h1.3v1.3h-1.3zM285.0 434.5h1.0v1.0h-1.0zM249.3 432.5h1.6v1.6h-1.6zM286.2 432.7h1.1v1.1h-1.1zM272.8 430.5h1.6v1.6h-1.6zM289.4 429.1h1.7v1.7h-1.7zM278.8 432.8h1.3v1.3h-1.3zM265.5 435.1h1.3v1.3h-1.3zM254.3 432.9h1.2v1.2h-1.2zM286.6 430.0h1.2v1.2h-1.2zM262.0 434.2h1.7v1.7h-1.7z" fill="#000"/>
<rect x="419.8" y="432.9" width="4.8" height="2.9" fill="#fff"/>
<rect x="425" y="436.7" width="4.4" height="2.9" fill="#fff"/>
<rect x="436.6" y="435.8" width="3.4" height="2.9" fill="#fff"/>
<rect x="456" y="413.6" width="2" height="7.7" fill="#fff"/>
<rect x="430.8" y="411.5" width="2.5" height="2.5" fill="#fff"/>
<path d="M66.7 83.4h0.9v0.9h-0.9zM66.7 99.6h1.0v1.0h-1.0zM69.4 90.2h0.8v0.8h-0.8zM72.5 94.4h0.9v0.9h-0.9zM79.4 95.5h1.0v1.0h-1.0zM76.8 95.3h1.2v1.2h-1.2zM69.3 91.1h0.9v0.9h-0.9zM84.1 83.9h1.1v1.1h-1.1zM74.3 101.6h0.9v0.9h-0.9zM82.9 81.7h0.8v0.8h-0.8zM77.3 94.3h0.8v0.8h-0.8zM65.8 92.2h1.1v1.1h-1.1zM71.7 90.9h0.9v0.9h-0.9zM66.9 87.9h0.8v0.8h-0.8zM83.9 85.2h0.8v0.8h-0.8zM87.0 95.3h1.0v1.0h-1.0zM75.3 82.1h1.0v1.0h-1.0zM74.3 96.0h1.0v1.0h-1.0zM74.3 87.5h1.1v1.1h-1.1zM70.3 101.1h0.8v0.8h-0.8zM85.8 81.3h0.9v0.9h-0.9zM76.1 82.6h1.2v1.2h-1.2zM81.9 83.2h0.9v0.9h-0.9zM72.2 98.2h0.9v0.9h-0.9zM78.7 90.4h1.2v1.2h-1.2zM71.7 97.0h0.9v0.9h-0.9zM81.0 82.0h0.8v0.8h-0.8zM87.0 95.2h1.1v1.1h-1.1zM67.0 90.9h0.9v0.9h-0.9zM73.3 83.1h1.2v1.2h-1.2zM79.4 91.9h1.0v1.0h-1.0zM86.3 83.3h0.9v0.9h-0.9zM70.3 89.5h0.7v0.7h-0.7zM72.4 84.5h0.8v0.8h-0.8zM70.9 88.0h1.1v1.1h-1.1zM74.3 93.3h1.1v1.1h-1.1zM71.9 82.6h0.7v0.7h-0.7zM82.2 83.3h0.9v0.9h-0.9zM73.3 87.4h0.9v0.9h-0.9zM105.0 107.6h0.7v0.7h-0.7zM120.2 94.3h1.1v1.1h-1.1zM102.6 99.7h0.9v0.9h-0.9zM117.4 96.8h1.1v1.1h-1.1zM110.1 99.1h1.0v1.0h-1.0zM101.5 84.5h1.0v1.0h-1.0zM112.4 101.0h0.8v0.8h-0.8zM104.2 98.7h1.0v1.0h-1.0zM99.0 91.3h1.1v1.1h-1.1zM101.1 81.3h1.1v1.1h-1.1zM103.4 86.4h0.8v0.8h-0.8zM106.0 81.8h1.0v1.0h-1.0zM107.5 92.5h0.8v0.8h-0.8zM116.8 82.1h0.7v0.7h-0.7zM101.3 88.5h0.9v0.9h-0.9zM114.5 101.8h1.0v1.0h-1.0zM110.0 96.1h0.8v0.8h-0.8zM104.1 99.1h0.9v0.9h-0.9zM113.3 96.0h1.0v1.0h-1.0zM108.5 100.9h0.8v0.8h-0.8zM99.5 93.7h1.2v1.2h-1.2zM97.0 99.0h1.0v1.0h-1.0zM102.6 94.9h1.0v1.0h-1.0zM104.8 88.3h1.1v1.1h-1.1zM118.7 97.3h1.2v1.2h-1.2zM102.4 86.6h1.1v1.1h-1.1zM118.0 82.0h0.8v0.8h-0.8zM101.8 88.4h0.8v0.8h-0.8zM121.1 87.1h1.0v1.0h-1.0zM104.4 90.5h0.8v0.8h-0.8zM101.4 96.3h1.0v1.0h-1.0zM110.2 94.9h1.1v1.1h-1.1zM107.0 91.3h1.1v1.1h-1.1zM99.6 98.8h0.7v0.7h-0.7zM111.5 93.8h1.0v1.0h-1.0zM109.6 81.4h0.7v0.7h-0.7zM105.4 98.8h1.1v1.1h-1.1zM102.4 101.1h0.8v0.8h-0.8zM102.3 83.9h0.7v0.7h-0.7zM115.7 85.1h0.9v0.9h-0.9zM121.0 90.4h1.0v1.0h-1.0zM98.3 98.4h1.1v1.1h-1.1zM119.1 88.9h1.2v1.2h-1.2zM107.6 107.1h1.1v1.1h-1.1zM117.1 93.9h0.8v0.8h-0.8zM110.4 102.6h1.0v1.0h-1.0zM113.5 85.7h1.1v1.1h-1.1zM107.4 104.2h1.2v1.2h-1.2zM103.8 97.0h0.8v0.8h-0.8zM104.7 104.8h0.9v0.9h-0.9zM99.2 85.7h1.1v1.1h-1.1zM100.6 102.5h1.0v1.0h-1.0zM95.4 94.7h1.0v1.0h-1.0zM110.8 83.9h1.1v1.1h-1.1zM244.6 99.7h1.1v1.1h-1.1zM257.2 92.0h1.1v1.1h-1.1zM255.6 93.9h1.0v1.0h-1.0zM254.1 97.2h1.1v1.1h-1.1zM257.1 103.7h1.2v1.2h-1.2zM250.5 102.8h0.9v0.9h-0.9zM251.6 88.2h1.0v1.0h-1.0zM247.2 98.2h1.0v1.0h-1.0zM243.7 91.0h0.8v0.8h-0.8zM251.2 91.5h1.2v1.2h-1.2zM257.5 86.8h1.1v1.1h-1.1zM243.5 93.8h1.1v1.1h-1.1zM427.9 105.9h1.1v1.1h-1.1zM420.4 106.5h0.9v0.9h-0.9zM415.6 112.6h1.0v1.0h-1.0zM417.4 96.0h1.1v1.1h-1.1zM421.5 107.4h1.0v1.0h-1.0zM422.5 111.5h1.0v1.0h-1.0zM84.1 241.9h1.0v1.0h-1.0zM77.6 242.7h1.2v1.2h-1.2zM102.5 244.3h0.9v0.9h-0.9zM99.4 236.1h1.1v1.1h-1.1zM92.6 243.6h0.9v0.9h-0.9zM80.0 252.6h0.8v0.8h-0.8zM94.9 249.5h1.0v1.0h-1.0zM98.6 255.7h0.9v0.9h-0.9zM87.2 237.2h0.8v0.8h-0.8zM88.2 253.4h1.1v1.1h-1.1zM79.1 246.0h1.1v1.1h-1.1zM99.5 246.9h1.1v1.1h-1.1zM70.9 233.2h1.1v1.1h-1.1zM100.3 242.8h0.8v0.8h-0.8zM97.5 255.4h1.0v1.0h-1.0zM70.6 245.1h0.8v0.8h-0.8zM88.6 243.5h1.2v1.2h-1.2zM86.2 237.5h0.9v0.9h-0.9zM102.2 251.3h0.9v0.9h-0.9zM77.0 245.6h0.7v0.7h-0.7zM74.0 236.2h0.8v0.8h-0.8zM79.0 243.1h0.7v0.7h-0.7zM97.9 236.3h1.1v1.1h-1.1zM101.4 240.5h1.0v1.0h-1.0zM86.8 245.0h0.8v0.8h-0.8zM77.3 236.5h0.7v0.7h-0.7zM98.1 236.5h1.1v1.1h-1.1zM78.2 242.1h1.1v1.1h-1.1zM83.8 243.0h1.2v1.2h-1.2zM73.4 255.6h1.1v1.1h-1.1zM99.7 235.6h1.1v1.1h-1.1zM78.3 249.4h0.7v0.7h-0.7zM83.5 242.6h0.9v0.9h-0.9zM71.9 239.0h1.0v1.0h-1.0zM93.8 247.2h0.9v0.9h-0.9zM102.5 244.0h1.0v1.0h-1.0zM98.3 250.2h1.0v1.0h-1.0zM83.1 254.9h1.0v1.0h-1.0zM100.8 253.3h1.1v1.1h-1.1zM72.9 250.8h1.0v1.0h-1.0zM69.5 242.1h1.1v1.1h-1.1zM90.1 239.0h1.0v1.0h-1.0zM78.7 252.9h1.1v1.1h-1.1zM80.6 243.4h1.1v1.1h-1.1zM76.8 239.6h0.8v0.8h-0.8zM73.5 239.4h1.1v1.1h-1.1zM78.9 246.7h1.1v1.1h-1.1zM96.3 239.8h1.1v1.1h-1.1zM75.6 246.2h0.8v0.8h-0.8zM71.9 244.0h1.0v1.0h-1.0zM69.1 243.1h1.0v1.0h-1.0zM69.2 242.6h1.0v1.0h-1.0zM88.2 238.7h0.8v0.8h-0.8zM86.0 251.4h1.0v1.0h-1.0zM73.9 252.4h1.0v1.0h-1.0zM69.8 246.8h1.1v1.1h-1.1zM84.1 240.5h0.9v0.9h-0.9zM79.8 238.0h0.9v0.9h-0.9zM92.3 240.8h1.0v1.0h-1.0zM74.4 239.4h1.1v1.1h-1.1zM81.6 255.1h1.1v1.1h-1.1zM94.9 233.9h0.9v0.9h-0.9zM86.2 252.9h0.8v0.8h-0.8zM101.0 238.3h1.1v1.1h-1.1zM99.5 238.4h1.2v1.2h-1.2zM68.6 246.2h1.1v1.1h-1.1zM84.0 244.7h0.9v0.9h-0.9zM81.2 241.5h1.1v1.1h-1.1zM83.6 255.9h0.9v0.9h-0.9zM91.1 248.5h1.1v1.1h-1.1zM95.0 246.5h0.8v0.8h-0.8zM75.2 252.1h1.1v1.1h-1.1zM86.2 246.2h1.0v1.0h-1.0zM76.1 243.1h1.2v1.2h-1.2zM122.4 251.8h0.9v0.9h-0.9zM138.1 255.2h1.1v1.1h-1.1zM120.6 243.9h0.9v0.9h-0.9zM129.7 248.2h0.7v0.7h-0.7zM138.3 248.0h0.7v0.7h-0.7zM128.6 258.2h1.1v1.1h-1.1zM124.3 249.9h1.2v1.2h-1.2zM133.3 256.4h0.8v0.8h-0.8zM122.9 250.1h0.7v0.7h-0.7zM134.7 254.9h1.0v1.0h-1.0zM119.7 245.3h0.9v0.9h-0.9zM132.0 255.9h1.2v1.2h-1.2zM120.3 242.8h0.7v0.7h-0.7zM123.6 239.1h1.1v1.1h-1.1zM124.4 247.2h1.1v1.1h-1.1zM138.7 257.7h0.7v0.7h-0.7zM121.2 240.5h1.0v1.0h-1.0zM127.2 254.8h1.0v1.0h-1.0zM142.6 253.0h0.8v0.8h-0.8zM134.6 256.4h1.0v1.0h-1.0zM273.6 236.8h1.1v1.1h-1.1zM248.2 240.6h1.1v1.1h-1.1zM270.9 245.4h0.8v0.8h-0.8zM248.7 259.4h1.1v1.1h-1.1zM269.6 234.4h0.8v0.8h-0.8zM262.4 253.8h1.0v1.0h-1.0zM268.0 254.6h0.9v0.9h-0.9zM257.5 248.2h0.7v0.7h-0.7zM246.4 240.2h0.9v0.9h-0.9zM278.3 249.4h0.9v0.9h-0.9zM263.6 255.8h1.0v1.0h-1.0zM284.9 237.6h1.0v1.0h-1.0zM249.5 241.2h1.2v1.2h-1.2zM267.9 247.7h0.7v0.7h-0.7zM256.0 246.3h1.1v1.1h-1.1zM271.1 244.0h0.8v0.8h-0.8zM280.4 250.4h1.2v1.2h-1.2zM279.9 245.1h1.0v1.0h-1.0zM267.9 235.9h0.8v0.8h-0.8zM275.0 255.8h0.8v0.8h-0.8zM281.5 239.7h1.0v1.0h-1.0zM245.3 255.5h0.9v0.9h-0.9zM289.2 244.9h1.1v1.1h-1.1zM255.4 237.2h0.7v0.7h-0.7zM247.4 239.0h1.2v1.2h-1.2zM248.4 239.3h1.0v1.0h-1.0zM280.5 241.4h1.0v1.0h-1.0zM249.7 249.6h0.8v0.8h-0.8zM251.6 234.9h1.0v1.0h-1.0zM279.7 244.0h0.8v0.8h-0.8zM255.9 256.6h0.8v0.8h-0.8zM272.5 247.7h1.0v1.0h-1.0zM267.9 241.4h1.2v1.2h-1.2zM274.4 256.0h0.7v0.7h-0.7zM263.4 236.8h1.1v1.1h-1.1zM252.0 248.2h0.8v0.8h-0.8zM283.9 254.0h0.7v0.7h-0.7zM266.2 256.5h1.1v1.1h-1.1zM246.7 254.0h0.9v0.9h-0.9zM284.1 254.0h1.1v1.1h-1.1zM249.4 238.4h1.0v1.0h-1.0zM269.0 248.7h0.8v0.8h-0.8zM286.5 241.9h1.0v1.0h-1.0zM254.0 235.3h1.2v1.2h-1.2zM258.8 248.8h1.1v1.1h-1.1zM247.0 235.2h1.0v1.0h-1.0zM265.1 240.0h1.0v1.0h-1.0zM249.3 249.9h0.8v0.8h-0.8zM246.2 241.9h1.0v1.0h-1.0zM278.1 235.0h0.8v0.8h-0.8zM265.9 258.6h1.0v1.0h-1.0zM422.4 249.5h1.2v1.2h-1.2zM441.1 254.9h0.9v0.9h-0.9zM431.5 261.1h0.7v0.7h-0.7zM437.7 251.5h0.8v0.8h-0.8zM428.6 266.9h1.0v1.0h-1.0zM441.9 255.1h1.0v1.0h-1.0zM422.5 257.5h1.1v1.1h-1.1zM441.4 257.4h1.1v1.1h-1.1zM428.1 251.8h0.8v0.8h-0.8zM425.6 255.6h0.9v0.9h-0.9zM428.7 269.1h0.8v0.8h-0.8zM434.6 255.1h0.9v0.9h-0.9zM436.8 247.9h1.0v1.0h-1.0zM426.1 245.2h0.9v0.9h-0.9zM444.8 259.0h0.7v0.7h-0.7zM254.9 424.1h1.0v1.0h-1.0zM281.6 400.5h1.0v1.0h-1.0zM261.2 407.3h1.0v1.0h-1.0zM292.9 419.0h1.1v1.1h-1.1zM270.4 419.5h0.9v0.9h-0.9zM255.1 424.9h0.9v0.9h-0.9zM288.2 422.1h0.9v0.9h-0.9zM275.2 397.4h0.8v0.8h-0.8zM273.6 417.8h0.8v0.8h-0.8zM266.2 415.1h0.8v0.8h-0.8zM282.1 420.8h1.2v1.2h-1.2zM265.2 413.7h0.7v0.7h-0.7zM265.0 425.6h0.9v0.9h-0.9zM262.8 420.4h0.8v0.8h-0.8zM290.6 420.3h1.1v1.1h-1.1zM277.3 416.6h1.0v1.0h-1.0zM290.8 401.3h0.8v0.8h-0.8zM250.0 412.5h1.1v1.1h-1.1zM256.4 420.8h1.2v1.2h-1.2zM246.7 418.0h0.7v0.7h-0.7zM289.3 408.0h1.0v1.0h-1.0zM282.0 413.3h0.8v0.8h-0.8zM250.6 419.0h0.8v0.8h-0.8zM277.3 422.1h1.2v1.2h-1.2zM88.0 579.3h1.1v1.1h-1.1zM75.4 573.4h0.9v0.9h-0.9zM77.9 581.6h1.0v1.0h-1.0zM71.2 576.5h0.8v0.8h-0.8zM71.7 579.4h1.1v1.1h-1.1zM83.1 578.3h0.7v0.7h-0.7zM69.5 581.2h0.9v0.9h-0.9zM85.4 581.9h1.1v1.1h-1.1zM76.0 580.3h0.7v0.7h-0.7zM68.0 588.1h1.0v1.0h-1.0zM80.4 586.1h0.7v0.7h-0.7zM90.3 589.3h1.1v1.1h-1.1zM89.7 578.6h0.9v0.9h-0.9zM89.6 591.4h1.1v1.1h-1.1zM76.4 578.8h0.7v0.7h-0.7zM74.0 577.3h0.9v0.9h-0.9zM81.2 589.6h0.9v0.9h-0.9zM85.3 573.2h1.1v1.1h-1.1zM69.3 580.4h0.9v0.9h-0.9zM69.6 592.5h0.9v0.9h-0.9zM73.1 587.3h1.1v1.1h-1.1zM70.1 581.8h0.7v0.7h-0.7zM71.4 580.4h1.1v1.1h-1.1zM69.1 572.3h1.1v1.1h-1.1zM81.1 578.3h1.2v1.2h-1.2zM87.7 583.0h1.1v1.1h-1.1zM73.1 586.8h0.7v0.7h-0.7zM81.4 596.1h0.9v0.9h-0.9zM81.1 595.2h1.1v1.1h-1.1zM84.2 578.4h1.0v1.0h-1.0zM90.5 586.0h0.8v0.8h-0.8zM68.0 587.0h1.0v1.0h-1.0zM88.9 584.7h0.9v0.9h-0.9zM69.1 574.4h0.8v0.8h-0.8zM75.7 578.1h0.7v0.7h-0.7zM83.5 572.7h1.1v1.1h-1.1zM69.8 578.5h0.8v0.8h-0.8zM79.8 572.7h0.8v0.8h-0.8zM74.8 590.9h1.0v1.0h-1.0zM77.7 589.4h1.1v1.1h-1.1zM82.6 573.1h0.9v0.9h-0.9zM85.6 589.9h1.0v1.0h-1.0zM70.6 592.5h1.0v1.0h-1.0zM73.7 588.4h1.0v1.0h-1.0zM83.9 587.1h1.1v1.1h-1.1zM67.7 589.3h1.0v1.0h-1.0zM78.9 588.0h0.8v0.8h-0.8zM245.3 593.0h1.1v1.1h-1.1zM252.8 574.2h1.1v1.1h-1.1zM256.1 594.1h1.2v1.2h-1.2zM260.3 573.6h0.8v0.8h-0.8zM264.7 580.9h1.0v1.0h-1.0zM263.3 572.9h1.2v1.2h-1.2zM243.6 577.3h1.1v1.1h-1.1zM252.2 582.8h1.1v1.1h-1.1zM257.6 582.6h1.1v1.1h-1.1zM248.2 601.0h1.1v1.1h-1.1zM256.8 588.7h1.1v1.1h-1.1zM253.0 597.1h0.9v0.9h-0.9zM258.3 579.6h0.7v0.7h-0.7zM252.8 575.5h1.0v1.0h-1.0zM255.8 578.8h1.1v1.1h-1.1zM244.9 576.3h0.9v0.9h-0.9zM257.1 579.4h1.1v1.1h-1.1zM256.6 583.3h1.0v1.0h-1.0zM250.0 574.5h0.9v0.9h-0.9zM250.9 578.0h1.1v1.1h-1.1zM244.9 588.5h0.8v0.8h-0.8zM257.6 597.8h0.9v0.9h-0.9zM261.7 573.8h0.9v0.9h-0.9zM250.5 597.1h0.9v0.9h-0.9zM253.7 589.6h0.9v0.9h-0.9zM254.1 594.1h0.7v0.7h-0.7zM261.5 576.5h1.2v1.2h-1.2zM411.4 591.1h1.0v1.0h-1.0zM424.1 587.6h0.8v0.8h-0.8zM416.4 591.6h0.9v0.9h-0.9zM420.3 595.4h1.0v1.0h-1.0zM423.1 599.1h1.1v1.1h-1.1zM414.6 588.5h1.2v1.2h-1.2zM417.2 603.0h0.7v0.7h-0.7zM418.8 601.1h0.7v0.7h-0.7zM415.4 586.7h1.0v1.0h-1.0zM425.1 594.6h0.8v0.8h-0.8zM423.3 582.7h1.2v1.2h-1.2zM416.0 596.4h0.7v0.7h-0.7zM411.6 583.2h0.9v0.9h-0.9zM417.4 583.2h1.0v1.0h-1.0zM416.0 590.6h0.8v0.8h-0.8zM413.5 591.9h0.9v0.9h-0.9zM425.4 594.2h1.1v1.1h-1.1zM413.6 587.2h0.7v0.7h-0.7zM419.3 582.8h1.2v1.2h-1.2zM413.0 584.9h0.9v0.9h-0.9zM417.1 599.2h0.9v0.9h-0.9zM428.3 585.1h1.2v1.2h-1.2z" fill="#fff"/>
<text x="53.10" y="159.30" font-size="13.0" text-anchor="start" textLength="10.7" lengthAdjust="spacingAndGlyphs" class="n">10</text>
<text x="64.30" y="154.40" font-size="6.6" text-anchor="start" >0</text>
<text x="75.30" y="159.30" font-size="13.0" text-anchor="start" textLength="10.7" lengthAdjust="spacingAndGlyphs" class="n">10</text>
<text x="86.50" y="154.40" font-size="6.6" text-anchor="start" >1</text>
<text x="108.80" y="159.30" font-size="13.0" text-anchor="start" textLength="10.7" lengthAdjust="spacingAndGlyphs" class="n">10</text>
<text x="120.00" y="154.40" font-size="6.6" text-anchor="start" >2</text>
<text x="139.60" y="159.30" font-size="13.0" text-anchor="start" textLength="10.7" lengthAdjust="spacingAndGlyphs" class="n">10</text>
<text x="150.80" y="154.40" font-size="6.6" text-anchor="start" >3</text>
<text x="171.90" y="158.00" font-size="13.0" text-anchor="start" textLength="10.7" lengthAdjust="spacingAndGlyphs" class="n">10</text>
<text x="183.10" y="153.10" font-size="6.6" text-anchor="start" >4</text>
<text x="229.70" y="159.50" font-size="13.0" text-anchor="start" textLength="10.7" lengthAdjust="spacingAndGlyphs" class="n">10</text>
<text x="240.90" y="154.60" font-size="6.6" text-anchor="start" >0</text>
<text x="252.60" y="159.50" font-size="13.0" text-anchor="start" textLength="10.7" lengthAdjust="spacingAndGlyphs" class="n">10</text>
<text x="263.80" y="154.60" font-size="6.6" text-anchor="start" >1</text>
<text x="284.20" y="159.50" font-size="13.0" text-anchor="start" textLength="10.7" lengthAdjust="spacingAndGlyphs" class="n">10</text>
<text x="295.40" y="154.60" font-size="6.6" text-anchor="start" >2</text>
<text x="315.90" y="159.50" font-size="13.0" text-anchor="start" textLength="10.7" lengthAdjust="spacingAndGlyphs" class="n">10</text>
<text x="327.10" y="154.60" font-size="6.6" text-anchor="start" >3</text>
<text x="347.50" y="156.50" font-size="13.0" text-anchor="start" textLength="10.7" lengthAdjust="spacingAndGlyphs" class="n">10</text>
<text x="358.70" y="151.60" font-size="6.6" text-anchor="start" >4</text>
<text x="402.30" y="155.80" font-size="11.2" text-anchor="start" textLength="9.4" lengthAdjust="spacingAndGlyphs" class="n">10</text>
<text x="412.20" y="151.60" font-size="5.8" text-anchor="start" >0</text>
<text x="420.20" y="155.80" font-size="11.2" text-anchor="start" textLength="9.4" lengthAdjust="spacingAndGlyphs" class="n">10</text>
<text x="430.10" y="151.60" font-size="5.8" text-anchor="start" >1</text>
<text x="447.30" y="155.80" font-size="11.2" text-anchor="start" textLength="9.4" lengthAdjust="spacingAndGlyphs" class="n">10</text>
<text x="457.20" y="151.60" font-size="5.8" text-anchor="start" >2</text>
<text x="473.30" y="155.80" font-size="11.2" text-anchor="start" textLength="9.4" lengthAdjust="spacingAndGlyphs" class="n">10</text>
<text x="483.20" y="151.60" font-size="5.8" text-anchor="start" >3</text>
<text x="499.20" y="154.40" font-size="11.2" text-anchor="start" textLength="9.4" lengthAdjust="spacingAndGlyphs" class="n">10</text>
<text x="509.10" y="150.20" font-size="5.8" text-anchor="start" >4</text>
<text x="51.50" y="324.20" font-size="13.0" text-anchor="start" textLength="10.7" lengthAdjust="spacingAndGlyphs" class="n">10</text>
<text x="62.70" y="319.30" font-size="6.6" text-anchor="start" >0</text>
<text x="80.70" y="324.20" font-size="13.0" text-anchor="start" textLength="10.7" lengthAdjust="spacingAndGlyphs" class="n">10</text>
<text x="91.90" y="319.30" font-size="6.6" text-anchor="start" >1</text>
<text x="109.30" y="324.20" font-size="13.0" text-anchor="start" textLength="10.7" lengthAdjust="spacingAndGlyphs" class="n">10</text>
<text x="120.50" y="319.30" font-size="6.6" text-anchor="start" >2</text>
<text x="141.20" y="324.20" font-size="13.0" text-anchor="start" textLength="10.7" lengthAdjust="spacingAndGlyphs" class="n">10</text>
<text x="152.40" y="319.30" font-size="6.6" text-anchor="start" >3</text>
<text x="170.90" y="322.80" font-size="13.0" text-anchor="start" textLength="10.7" lengthAdjust="spacingAndGlyphs" class="n">10</text>
<text x="182.10" y="317.90" font-size="6.6" text-anchor="start" >4</text>
<text x="228.10" y="324.20" font-size="13.0" text-anchor="start" textLength="10.7" lengthAdjust="spacingAndGlyphs" class="n">10</text>
<text x="239.30" y="319.30" font-size="6.6" text-anchor="start" >0</text>
<text x="257.30" y="324.20" font-size="13.0" text-anchor="start" textLength="10.7" lengthAdjust="spacingAndGlyphs" class="n">10</text>
<text x="268.50" y="319.30" font-size="6.6" text-anchor="start" >1</text>
<text x="286.30" y="324.20" font-size="13.0" text-anchor="start" textLength="10.7" lengthAdjust="spacingAndGlyphs" class="n">10</text>
<text x="297.50" y="319.30" font-size="6.6" text-anchor="start" >2</text>
<text x="317.60" y="324.20" font-size="13.0" text-anchor="start" textLength="10.7" lengthAdjust="spacingAndGlyphs" class="n">10</text>
<text x="328.80" y="319.30" font-size="6.6" text-anchor="start" >3</text>
<text x="347.20" y="322.80" font-size="13.0" text-anchor="start" textLength="10.7" lengthAdjust="spacingAndGlyphs" class="n">10</text>
<text x="358.40" y="317.90" font-size="6.6" text-anchor="start" >4</text>
<text x="403.20" y="318.30" font-size="11.2" text-anchor="start" textLength="9.4" lengthAdjust="spacingAndGlyphs" class="n">10</text>
<text x="413.10" y="314.10" font-size="5.8" text-anchor="start" >0</text>
<text x="426.50" y="318.30" font-size="11.2" text-anchor="start" textLength="9.4" lengthAdjust="spacingAndGlyphs" class="n">10</text>
<text x="436.40" y="314.10" font-size="5.8" text-anchor="start" >1</text>
<text x="450.70" y="318.30" font-size="11.2" text-anchor="start" textLength="9.4" lengthAdjust="spacingAndGlyphs" class="n">10</text>
<text x="460.60" y="314.10" font-size="5.8" text-anchor="start" >2</text>
<text x="476.70" y="318.30" font-size="11.2" text-anchor="start" textLength="9.4" lengthAdjust="spacingAndGlyphs" class="n">10</text>
<text x="486.60" y="314.10" font-size="5.8" text-anchor="start" >3</text>
<text x="500.90" y="315.30" font-size="11.2" text-anchor="start" textLength="9.4" lengthAdjust="spacingAndGlyphs" class="n">10</text>
<text x="510.80" y="311.10" font-size="5.8" text-anchor="start" >4</text>
<text x="51.50" y="489.20" font-size="13.0" text-anchor="start" textLength="10.7" lengthAdjust="spacingAndGlyphs" class="n">10</text>
<text x="62.70" y="484.30" font-size="6.6" text-anchor="start" >0</text>
<text x="81.30" y="489.20" font-size="13.0" text-anchor="start" textLength="10.7" lengthAdjust="spacingAndGlyphs" class="n">10</text>
<text x="92.50" y="484.30" font-size="6.6" text-anchor="start" >1</text>
<text x="110.20" y="489.20" font-size="13.0" text-anchor="start" textLength="10.7" lengthAdjust="spacingAndGlyphs" class="n">10</text>
<text x="121.40" y="484.30" font-size="6.6" text-anchor="start" >2</text>
<text x="140.60" y="489.20" font-size="13.0" text-anchor="start" textLength="10.7" lengthAdjust="spacingAndGlyphs" class="n">10</text>
<text x="151.80" y="484.30" font-size="6.6" text-anchor="start" >3</text>
<text x="168.20" y="488.80" font-size="13.0" text-anchor="start" textLength="10.7" lengthAdjust="spacingAndGlyphs" class="n">10</text>
<text x="179.40" y="483.90" font-size="6.6" text-anchor="start" >4</text>
<text x="228.70" y="488.80" font-size="13.0" text-anchor="start" textLength="10.7" lengthAdjust="spacingAndGlyphs" class="n">10</text>
<text x="239.90" y="483.90" font-size="6.6" text-anchor="start" >0</text>
<text x="257.30" y="488.80" font-size="13.0" text-anchor="start" textLength="10.7" lengthAdjust="spacingAndGlyphs" class="n">10</text>
<text x="268.50" y="483.90" font-size="6.6" text-anchor="start" >1</text>
<text x="286.30" y="488.80" font-size="13.0" text-anchor="start" textLength="10.7" lengthAdjust="spacingAndGlyphs" class="n">10</text>
<text x="297.50" y="483.90" font-size="6.6" text-anchor="start" >2</text>
<text x="317.60" y="488.80" font-size="13.0" text-anchor="start" textLength="10.7" lengthAdjust="spacingAndGlyphs" class="n">10</text>
<text x="328.80" y="483.90" font-size="6.6" text-anchor="start" >3</text>
<text x="347.20" y="487.10" font-size="13.0" text-anchor="start" textLength="10.7" lengthAdjust="spacingAndGlyphs" class="n">10</text>
<text x="358.40" y="482.20" font-size="6.6" text-anchor="start" >4</text>
<text x="402.90" y="487.90" font-size="11.2" text-anchor="start" textLength="9.4" lengthAdjust="spacingAndGlyphs" class="n">10</text>
<text x="412.80" y="483.70" font-size="5.8" text-anchor="start" >0</text>
<text x="426.50" y="487.90" font-size="11.2" text-anchor="start" textLength="9.4" lengthAdjust="spacingAndGlyphs" class="n">10</text>
<text x="436.40" y="483.70" font-size="5.8" text-anchor="start" >1</text>
<text x="451.30" y="487.90" font-size="11.2" text-anchor="start" textLength="9.4" lengthAdjust="spacingAndGlyphs" class="n">10</text>
<text x="461.20" y="483.70" font-size="5.8" text-anchor="start" >2</text>
<text x="476.70" y="487.90" font-size="11.2" text-anchor="start" textLength="9.4" lengthAdjust="spacingAndGlyphs" class="n">10</text>
<text x="486.60" y="483.70" font-size="5.8" text-anchor="start" >3</text>
<text x="501.50" y="484.80" font-size="11.2" text-anchor="start" textLength="9.4" lengthAdjust="spacingAndGlyphs" class="n">10</text>
<text x="511.40" y="480.60" font-size="5.8" text-anchor="start" >4</text>
<text x="50.40" y="651.90" font-size="13.0" text-anchor="start" textLength="10.7" lengthAdjust="spacingAndGlyphs" class="n">10</text>
<text x="61.60" y="647.00" font-size="6.6" text-anchor="start" >0</text>
<text x="78.60" y="651.90" font-size="13.0" text-anchor="start" textLength="10.7" lengthAdjust="spacingAndGlyphs" class="n">10</text>
<text x="89.80" y="647.00" font-size="6.6" text-anchor="start" >1</text>
<text x="109.00" y="651.90" font-size="13.0" text-anchor="start" textLength="10.7" lengthAdjust="spacingAndGlyphs" class="n">10</text>
<text x="120.20" y="647.00" font-size="6.6" text-anchor="start" >2</text>
<text x="140.60" y="651.90" font-size="13.0" text-anchor="start" textLength="10.7" lengthAdjust="spacingAndGlyphs" class="n">10</text>
<text x="151.80" y="647.00" font-size="6.6" text-anchor="start" >3</text>
<text x="171.50" y="649.50" font-size="13.0" text-anchor="start" textLength="10.7" lengthAdjust="spacingAndGlyphs" class="n">10</text>
<text x="182.70" y="644.60" font-size="6.6" text-anchor="start" >4</text>
<text x="226.70" y="651.50" font-size="13.0" text-anchor="start" textLength="10.7" lengthAdjust="spacingAndGlyphs" class="n">10</text>
<text x="237.90" y="646.60" font-size="6.6" text-anchor="start" >0</text>
<text x="255.00" y="651.50" font-size="13.0" text-anchor="start" textLength="10.7" lengthAdjust="spacingAndGlyphs" class="n">10</text>
<text x="266.20" y="646.60" font-size="6.6" text-anchor="start" >1</text>
<text x="285.60" y="651.50" font-size="13.0" text-anchor="start" textLength="10.7" lengthAdjust="spacingAndGlyphs" class="n">10</text>
<text x="296.80" y="646.60" font-size="6.6" text-anchor="start" >2</text>
<text x="316.90" y="651.50" font-size="13.0" text-anchor="start" textLength="10.7" lengthAdjust="spacingAndGlyphs" class="n">10</text>
<text x="328.10" y="646.60" font-size="6.6" text-anchor="start" >3</text>
<text x="347.20" y="649.50" font-size="13.0" text-anchor="start" textLength="10.7" lengthAdjust="spacingAndGlyphs" class="n">10</text>
<text x="358.40" y="644.60" font-size="6.6" text-anchor="start" >4</text>
<text x="406.90" y="644.80" font-size="11.2" text-anchor="start" textLength="9.4" lengthAdjust="spacingAndGlyphs" class="n">10</text>
<text x="416.80" y="640.60" font-size="5.8" text-anchor="start" >0</text>
<text x="430.00" y="644.80" font-size="11.2" text-anchor="start" textLength="9.4" lengthAdjust="spacingAndGlyphs" class="n">10</text>
<text x="439.90" y="640.60" font-size="5.8" text-anchor="start" >1</text>
<text x="455.00" y="644.80" font-size="11.2" text-anchor="start" textLength="9.4" lengthAdjust="spacingAndGlyphs" class="n">10</text>
<text x="464.90" y="640.60" font-size="5.8" text-anchor="start" >2</text>
<text x="480.80" y="644.80" font-size="11.2" text-anchor="start" textLength="9.4" lengthAdjust="spacingAndGlyphs" class="n">10</text>
<text x="490.70" y="640.60" font-size="5.8" text-anchor="start" >3</text>
<text x="505.00" y="645.00" font-size="11.2" text-anchor="start" textLength="9.4" lengthAdjust="spacingAndGlyphs" class="n">10</text>
<text x="514.90" y="640.80" font-size="5.8" text-anchor="start" >4</text>
<text x="54.80" y="30.30" font-size="11.5" text-anchor="end" textLength="22.6" lengthAdjust="spacingAndGlyphs" >1000</text>
<text x="54.20" y="138.70" font-size="12.3" text-anchor="end" textLength="5.3" lengthAdjust="spacingAndGlyphs" >0</text>
<text x="229.30" y="31.30" font-size="11.5" text-anchor="end" textLength="22.6" lengthAdjust="spacingAndGlyphs" >1000</text>
<text x="232.50" y="138.00" font-size="12.3" text-anchor="end" textLength="5.3" lengthAdjust="spacingAndGlyphs" >0</text>
<text x="404.00" y="50.30" font-size="10.5" text-anchor="end" textLength="18.8" lengthAdjust="spacingAndGlyphs" >1000</text>
<text x="403.70" y="139.20" font-size="11" text-anchor="end" textLength="4.6" lengthAdjust="spacingAndGlyphs" >0</text>
<text x="54.20" y="200.00" font-size="11.5" text-anchor="end" textLength="22.6" lengthAdjust="spacingAndGlyphs" >1000</text>
<text x="55.00" y="303.60" font-size="12.3" text-anchor="end" textLength="5.3" lengthAdjust="spacingAndGlyphs" >0</text>
<text x="230.80" y="200.40" font-size="11.5" text-anchor="end" textLength="22.6" lengthAdjust="spacingAndGlyphs" >1000</text>
<text x="231.50" y="303.90" font-size="12.3" text-anchor="end" textLength="5.3" lengthAdjust="spacingAndGlyphs" >0</text>
<text x="404.00" y="215.80" font-size="10.5" text-anchor="end" textLength="18.8" lengthAdjust="spacingAndGlyphs" >1000</text>
<text x="405.80" y="301.60" font-size="11" text-anchor="end" textLength="4.6" lengthAdjust="spacingAndGlyphs" >0</text>
<text x="55.30" y="363.10" font-size="11.5" text-anchor="end" textLength="22.6" lengthAdjust="spacingAndGlyphs" >1000</text>
<text x="55.30" y="468.60" font-size="12.3" text-anchor="end" textLength="5.3" lengthAdjust="spacingAndGlyphs" >0</text>
<text x="233.20" y="363.50" font-size="11.5" text-anchor="end" textLength="22.6" lengthAdjust="spacingAndGlyphs" >1000</text>
<text x="231.50" y="468.40" font-size="12.3" text-anchor="end" textLength="5.3" lengthAdjust="spacingAndGlyphs" >0</text>
<text x="404.40" y="381.80" font-size="10.5" text-anchor="end" textLength="18.8" lengthAdjust="spacingAndGlyphs" >1000</text>
<text x="407.00" y="471.30" font-size="11" text-anchor="end" textLength="4.6" lengthAdjust="spacingAndGlyphs" >0</text>
<text x="55.30" y="527.20" font-size="11.5" text-anchor="end" textLength="22.6" lengthAdjust="spacingAndGlyphs" >1000</text>
<text x="55.30" y="631.60" font-size="12.3" text-anchor="end" textLength="5.3" lengthAdjust="spacingAndGlyphs" >0</text>
<text x="233.10" y="526.60" font-size="11.5" text-anchor="end" textLength="22.6" lengthAdjust="spacingAndGlyphs" >1000</text>
<text x="231.80" y="631.40" font-size="12.3" text-anchor="end" textLength="5.3" lengthAdjust="spacingAndGlyphs" >0</text>
<text x="399.40" y="541.00" font-size="10.5" text-anchor="end" textLength="18.8" lengthAdjust="spacingAndGlyphs" >1000</text>
<text x="400.10" y="631.40" font-size="11" text-anchor="end" textLength="4.6" lengthAdjust="spacingAndGlyphs" >0</text>
<text x="0" y="0" font-size="14" text-anchor="middle" textLength="67.3" lengthAdjust="spacingAndGlyphs" transform="translate(50.4,79.4) rotate(-90)">FSC-Height</text>
<text x="0" y="0" font-size="14" text-anchor="middle" textLength="68.3" lengthAdjust="spacingAndGlyphs" transform="translate(229.0,82.0) rotate(-90)">FSC-Height</text>
<text x="0" y="0" font-size="14.3" text-anchor="middle" textLength="68.9" lengthAdjust="spacingAndGlyphs" transform="translate(398.5,95.2) rotate(-90)">FSC-Height</text>
<text x="0" y="0" font-size="14" text-anchor="middle" textLength="62.8" lengthAdjust="spacingAndGlyphs" transform="translate(52.2,246.3) rotate(-90)">FSC-Height</text>
<text x="0" y="0" font-size="14" text-anchor="middle" textLength="63.5" lengthAdjust="spacingAndGlyphs" transform="translate(228.5,246.6) rotate(-90)">FSC-Height</text>
<text x="0" y="0" font-size="14.3" text-anchor="middle" textLength="68.2" lengthAdjust="spacingAndGlyphs" transform="translate(399.2,257.6) rotate(-90)">FSC-Height</text>
<text x="0" y="0" font-size="14" text-anchor="middle" textLength="67.6" lengthAdjust="spacingAndGlyphs" transform="translate(51.5,415.3) rotate(-90)">FSC-Height</text>
<text x="0" y="0" font-size="14" text-anchor="middle" textLength="68.2" lengthAdjust="spacingAndGlyphs" transform="translate(228.5,415.6) rotate(-90)">FSC-Height</text>
<text x="0" y="0" font-size="14.3" text-anchor="middle" textLength="67.5" lengthAdjust="spacingAndGlyphs" transform="translate(399.2,425.2) rotate(-90)">FSC-Height</text>
<text x="0" y="0" font-size="14" text-anchor="middle" textLength="67.6" lengthAdjust="spacingAndGlyphs" transform="translate(51.5,579.6) rotate(-90)">FSC-Height</text>
<text x="0" y="0" font-size="14" text-anchor="middle" textLength="68.3" lengthAdjust="spacingAndGlyphs" transform="translate(229.2,582.0) rotate(-90)">FSC-Height</text>
<text x="0" y="0" font-size="14.3" text-anchor="middle" textLength="68.9" lengthAdjust="spacingAndGlyphs" transform="translate(399.9,584.0) rotate(-90)">FSC-Height</text>
<text x="85.80" y="176.60" font-size="14.5" text-anchor="start" textLength="64.2" lengthAdjust="spacingAndGlyphs" >CD28-FITC</text>
<text x="268.50" y="176.20" font-size="14.5" text-anchor="start" textLength="63.8" lengthAdjust="spacingAndGlyphs" >CD28-FITC</text>
<text x="94.60" y="340.20" font-size="14.5" text-anchor="start" textLength="63.1" lengthAdjust="spacingAndGlyphs" >CD3-PerCp</text>
<text x="270.50" y="340.90" font-size="14.5" text-anchor="start" textLength="63.0" lengthAdjust="spacingAndGlyphs" >CD3-PerCp</text>
<text x="90.20" y="506.60" font-size="14.5" text-anchor="start" textLength="57.6" lengthAdjust="spacingAndGlyphs" >CD4-FITC</text>
<text x="272.80" y="505.10" font-size="14.5" text-anchor="start" textLength="57.7" lengthAdjust="spacingAndGlyphs" >CD4-FITC</text>
<text x="85.40" y="668.90" font-size="14.5" text-anchor="start" textLength="63.8" lengthAdjust="spacingAndGlyphs" >CD80-FITC</text>
<text x="261.20" y="664.60" font-size="14.5" text-anchor="start" textLength="63.8" lengthAdjust="spacingAndGlyphs" >CD80-FITC</text>
<text x="408.5" y="170.9" font-size="13" textLength="95.1" lengthAdjust="spacingAndGlyphs">Mouse IgG<tspan dy="2.2">1</tspan><tspan dy="-2.2">-FITC</tspan></text>
<text x="408.4" y="333.5" font-size="13" textLength="100.0" lengthAdjust="spacingAndGlyphs">Mouse IgG<tspan dy="2.2">1</tspan><tspan dy="-2.2">-PerCp</tspan></text>
<text x="412.2" y="501.9" font-size="13" textLength="94.4" lengthAdjust="spacingAndGlyphs">Mouse IgG<tspan dy="2.2">1</tspan><tspan dy="-2.2">-FITC</tspan></text>
<text x="415.00" y="659.00" font-size="13" text-anchor="start" textLength="90.8" lengthAdjust="spacingAndGlyphs" >Mouse IgM-FITC</text>
<text x="417.70" y="40.30" font-size="13" text-anchor="start" textLength="79.7" lengthAdjust="spacingAndGlyphs" >Isotype Control</text>
<text x="418.80" y="206.30" font-size="13" text-anchor="start" textLength="79.3" lengthAdjust="spacingAndGlyphs" >Isotype Control</text>
<text x="420.00" y="370.70" font-size="13" text-anchor="start" textLength="79.6" lengthAdjust="spacingAndGlyphs" >Isotype Control</text>
<text x="414.50" y="532.30" font-size="13" text-anchor="start" textLength="80.1" lengthAdjust="spacingAndGlyphs" >Isotype Control</text>
<text x="106.00" y="58.40" font-size="12.03" text-anchor="start" textLength="36.3" lengthAdjust="spacingAndGlyphs" class="n">27.12%</text>
<text x="113.20" y="124.40" font-size="12.26" text-anchor="start" textLength="36.2" lengthAdjust="spacingAndGlyphs" class="n">72.88%</text>
<text x="281.00" y="54.60" font-size="12.33" text-anchor="start" textLength="36.3" lengthAdjust="spacingAndGlyphs" class="n">99.80%</text>
<text x="285.50" y="123.50" font-size="12.33" text-anchor="start" textLength="30.2" lengthAdjust="spacingAndGlyphs" class="n">0.20%</text>
<text x="444.25" y="66.00" font-size="11.58" text-anchor="start" textLength="31.2" lengthAdjust="spacingAndGlyphs" class="n">99.85%</text>
<text x="446.70" y="126.00" font-size="11.58" text-anchor="start" textLength="26.0" lengthAdjust="spacingAndGlyphs" class="n">0.15%</text>
<text x="69.80" y="294.00" font-size="12.03" text-anchor="start" textLength="36.0" lengthAdjust="spacingAndGlyphs" class="n">23.27%</text>
<text x="135.20" y="294.00" font-size="12.33" text-anchor="start" textLength="35.6" lengthAdjust="spacingAndGlyphs" class="n">76.73%</text>
<text x="245.30" y="292.30" font-size="12.03" text-anchor="start" textLength="35.1" lengthAdjust="spacingAndGlyphs" class="n">85.14%</text>
<text x="311.90" y="292.50" font-size="12.33" text-anchor="start" textLength="35.4" lengthAdjust="spacingAndGlyphs" class="n">14.86%</text>
<text x="417.80" y="291.70" font-size="11.13" text-anchor="start" textLength="29.8" lengthAdjust="spacingAndGlyphs" class="n">99.97%</text>
<text x="476.00" y="290.40" font-size="9.92" text-anchor="start" textLength="26" lengthAdjust="spacingAndGlyphs" class="n">0.03%</text>
<text x="74.50" y="457.30" font-size="12.03" text-anchor="start" textLength="35.8" lengthAdjust="spacingAndGlyphs" class="n">50.02%</text>
<text x="126.00" y="457.30" font-size="12.03" text-anchor="start" textLength="35.8" lengthAdjust="spacingAndGlyphs" class="n">49.98%</text>
<text x="249.50" y="457.00" font-size="12.33" text-anchor="start" textLength="35.8" lengthAdjust="spacingAndGlyphs" class="n">95.13%</text>
<text x="305.70" y="458.60" font-size="12.56" text-anchor="start" textLength="30.3" lengthAdjust="spacingAndGlyphs" class="n">4.87%</text>
<text x="418.70" y="460.90" font-size="11.58" text-anchor="start" textLength="35.6" lengthAdjust="spacingAndGlyphs" class="n">99.94%</text>
<text x="464.30" y="461.20" font-size="12.03" text-anchor="start" textLength="30.8" lengthAdjust="spacingAndGlyphs" class="n">0.06%</text>
<text x="102.20" y="539.50" font-size="11.58" text-anchor="start" textLength="36.1" lengthAdjust="spacingAndGlyphs" class="n">87.87%</text>
<text x="101.70" y="619.50" font-size="11.88" text-anchor="start" textLength="35.6" lengthAdjust="spacingAndGlyphs" class="n">12.13%</text>
<text x="278.50" y="540.00" font-size="13.08" text-anchor="start" textLength="35.7" lengthAdjust="spacingAndGlyphs" class="n">99.18%</text>
<text x="277.20" y="621.00" font-size="11.58" text-anchor="start" textLength="29.8" lengthAdjust="spacingAndGlyphs" class="n">0.82%</text>
<text x="441.25" y="552.40" font-size="11.28" text-anchor="start" textLength="36.1" lengthAdjust="spacingAndGlyphs" class="n">99.48%</text>
<text x="440.30" y="622.50" font-size="12.33" text-anchor="start" textLength="30.7" lengthAdjust="spacingAndGlyphs" class="n">0.52%</text>
<line x1="103.00" y1="53.50" x2="84.24" y2="71.91" stroke="#000" stroke-width="2.4"/>
<polygon points="76.60,79.40 81.24,67.42 88.66,74.99" fill="#000"/>
<line x1="278.50" y1="53.10" x2="259.72" y2="71.88" stroke="#000" stroke-width="2.4"/>
<polygon points="250.60,81.00 256.82,67.56 264.04,74.78" fill="#000"/>
<line x1="443.50" y1="62.70" x2="430.12" y2="75.84" stroke="#000" stroke-width="2.4"/>
<polygon points="421.20,84.60 427.40,71.64 434.27,78.64" fill="#000"/>
<line x1="108.10" y1="543.10" x2="88.79" y2="561.85" stroke="#000" stroke-width="2.4"/>
<polygon points="80.40,570.00 86.10,557.64 92.92,564.67" fill="#000"/>
<line x1="284.20" y1="542.90" x2="264.86" y2="561.82" stroke="#000" stroke-width="2.4"/>
<polygon points="256.50,570.00 262.15,557.62 269.00,564.62" fill="#000"/>
<line x1="446.20" y1="556.20" x2="432.29" y2="570.05" stroke="#000" stroke-width="2.4"/>
<polygon points="423.50,578.80 429.47,565.80 436.52,572.89" fill="#000"/>
<path d="M6.9,76.9 L17.3,76.9 L21.9,90.5 L15.2,90.5 L14.6,87.4 L9.6,87.4 L9.0,90.5 L2.3,90.5 Z M11.2,81.2 L12.8,81.2 L13.6,84.8 L10.4,84.8 Z" fill="#000" fill-rule="evenodd"/>
<path d="M4,242 L18.3,242 Q22,242 22,245.2 Q22,247.6 20.6,248.8 Q22.4,250 22.4,252.4 Q22.4,255.9 18.3,255.9 L4,255.9 Z M11,245.9 L15,245.9 L15,248 L11,248 Z M11,250.6 L15,250.6 L15,252.8 L11,252.8 Z" fill="#000" fill-rule="evenodd"/>
<path d="M21.9,408.7 L13.5,408.7 Q6,408.7 6,415.7 Q6,422.8 13.5,422.8 L21.9,422.8 L21.9,417.9 L14.8,417.9 Q13,417.9 13,415.9 Q13,413.8 14.8,413.8 L21.9,413.8 Z" fill="#000" fill-rule="evenodd"/>
<path d="M4.9,572 L16.3,572 Q23.7,572 23.7,579 Q23.7,585.9 16.3,585.9 L4.9,585.9 Z M11.8,577 L14.2,577 Q16.2,577 16.2,579.4 Q16.2,581.9 14.2,581.9 L11.8,581.9 Z" fill="#000" fill-rule="evenodd"/>
<path d="M118.3,2.3 L125.8,2.3 L125.8,16.7 L118.8,16.7 L118.8,9.5 L115.4,9.5 L115.4,5.2 Z" fill="#000" fill-rule="evenodd"/>
<path d="M291.2,7.6 Q291.2,2.1 299,2.1 Q306.6,2.1 306.6,7.2 Q306.6,10.6 302.8,12.3 L306.6,12.3 L306.6,16.7 L291.2,16.7 Z M291.2,9.1 L296.6,9.1 Q297,7.2 298.4,7.2 Q299.7,7.2 299.5,8.8 Q299.1,10.1 296.2,10.9 L291.2,12.2 Z" fill="#000" fill-rule="evenodd"/>
<path d="M450.2,3 L464,3 L464,5.8 L461.3,8.2 Q464.6,9.2 464.6,12.5 Q464.6,17 457.5,17 L450.2,17 L450.2,12.9 L457.2,12.9 Q458.2,12.9 458.2,11.75 Q458.2,10.6 457.2,10.6 L451.3,10.6 L451.3,9.3 L455,9.3 L455,6.4 L450.2,6.4 Z" fill="#000" fill-rule="evenodd"/>
</svg>
</body></html>
